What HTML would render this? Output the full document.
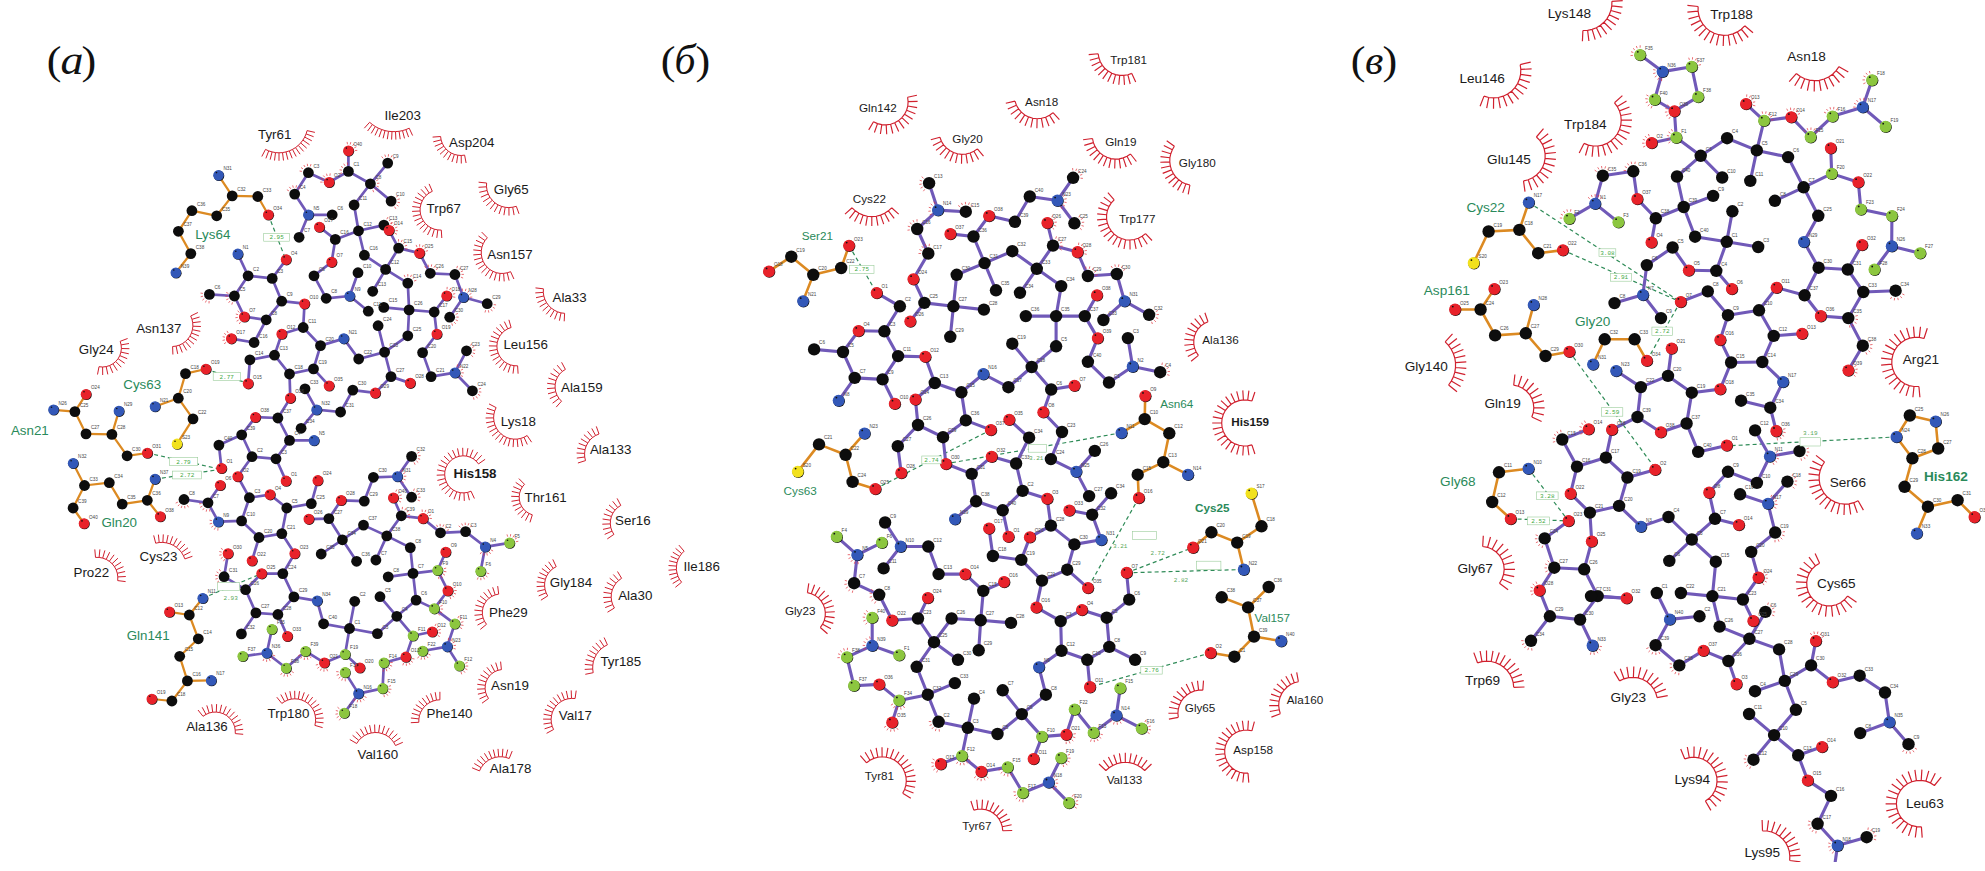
<!DOCTYPE html>
<html><head><meta charset="utf-8"><title>fig</title>
<style>html,body{margin:0;padding:0;background:#fff}body{width:1985px;height:871px;position:relative;overflow:hidden}
</style></head><body>
<svg width="1985" height="871" viewBox="0 0 1985 871" style="position:absolute;left:0;top:0">
<g stroke="#d0202e" stroke-width="1" fill="none" stroke-linecap="butt">
<path stroke-width="1" d="M265.5 149.4L261.8 156.5M268.7 150.9L265.9 158.4M272.1 151.9L270.1 159.7M275.5 152.6L274.5 160.5M279.0 152.8L279.0 160.8M282.5 152.6L283.5 160.5M286.0 151.9L287.9 159.7M289.3 150.9L292.2 158.3M292.5 149.4L296.2 156.5M295.5 147.6L300.1 154.2M298.3 145.4L303.6 151.4M300.7 142.9L306.7 148.2M302.9 140.1L309.5 144.7M304.7 137.1L311.8 140.8M306.1 133.9L313.6 136.7M307.1 130.6L314.9 132.4M265.5 149.4L268.7 150.9L272.1 151.9L275.5 152.6L279.0 152.8L282.5 152.6L286.0 151.9L289.3 150.9L292.5 149.4L295.5 147.6L298.3 145.4L300.7 142.9L302.9 140.1L304.7 137.1L306.1 133.9L307.1 130.6"/>
<path stroke-width="1" d="M369.6 122.3L364.3 128.2M372.4 124.5L367.6 131.0M375.3 126.5L371.2 133.4M378.4 128.2L375.0 135.4M381.7 129.5L379.0 137.1M385.0 130.6L383.1 138.3M388.5 131.3L387.3 139.2M392.0 131.6L391.6 139.6M395.5 131.6L395.9 139.6M399.1 131.3L400.2 139.2M402.5 130.6L404.5 138.4M405.9 129.6L408.6 137.1M409.2 128.2L412.6 135.5M369.6 122.3L372.4 124.5L375.3 126.5L378.4 128.2L381.7 129.5L385.0 130.6L388.5 131.3L392.0 131.6L395.5 131.6L399.1 131.3L402.5 130.6L405.9 129.6L409.2 128.2"/>
<path stroke-width="1" d="M440.6 136.5L432.6 137.1M441.1 139.9L433.3 141.8M442.2 143.2L434.8 146.3M443.8 146.2L437.1 150.5M445.9 148.9L440.0 154.3M448.4 151.2L443.5 157.5M451.3 153.1L447.5 160.1M454.4 154.4L451.9 162.0M457.8 155.2L456.6 163.1M461.2 155.5L461.3 163.5M464.6 155.1L466.1 163.0M440.6 136.5L441.1 139.9L442.2 143.2L443.8 146.2L445.9 148.9L448.4 151.2L451.3 153.1L454.4 154.4L457.8 155.2L461.2 155.5L464.6 155.1"/>
<path stroke-width="1" d="M486.6 183.0L478.6 182.2M486.5 186.8L478.5 187.3M487.1 190.5L479.3 192.3M488.2 194.0L480.9 197.2M490.0 197.3L483.2 201.7M492.3 200.3L486.3 205.7M495.0 202.9L490.1 209.2M498.1 204.9L494.3 211.9M501.6 206.4L499.0 214.0M505.2 207.3L503.9 215.2M508.9 207.6L509.0 215.6M512.7 207.2L514.1 215.1M516.3 206.3L519.0 213.8M486.6 183.0L486.5 186.8L487.1 190.5L488.2 194.0L490.0 197.3L492.3 200.3L495.0 202.9L498.1 204.9L501.6 206.4L505.2 207.3L508.9 207.6L512.7 207.2L516.3 206.3"/>
<path stroke-width="1" d="M432.3 191.3L429.1 183.9M429.2 193.0L424.8 186.3M426.4 195.1L421.0 189.3M424.1 197.8L417.7 193.0M422.3 200.8L415.1 197.2M421.0 204.0L413.3 201.7M420.2 207.5L412.3 206.5M420.1 211.0L412.1 211.4M420.6 214.5L412.8 216.3M421.7 217.8L414.4 220.9M423.4 220.9L416.7 225.3M425.5 223.7L419.7 229.1M428.2 226.0L423.3 232.4M431.1 227.9L427.5 235.0M434.4 229.2L432.1 236.8M437.8 229.9L436.8 237.9M441.3 230.1L441.8 238.0M432.3 191.3L429.2 193.0L426.4 195.1L424.1 197.8L422.3 200.8L421.0 204.0L420.2 207.5L420.1 211.0L420.6 214.5L421.7 217.8L423.4 220.9L425.5 223.7L428.2 226.0L431.1 227.9L434.4 229.2L437.8 229.9L441.3 230.1"/>
<path stroke-width="1" d="M487.3 237.8L481.7 232.1M485.0 240.6L478.5 236.0M483.2 243.7L476.0 240.3M481.9 247.1L474.2 245.0M481.3 250.7L473.3 249.9M481.3 254.3L473.3 254.9M481.9 257.8L474.1 259.9M483.1 261.3L475.8 264.6M484.9 264.4L478.3 268.9M487.2 267.2L481.5 272.8M489.9 269.6L485.3 276.1M493.0 271.4L489.6 278.6M496.4 272.7L494.3 280.4M500.0 273.4L499.2 281.3M503.6 273.4L504.2 281.4M507.2 272.8L509.1 280.6M510.6 271.7L513.9 279.0M487.3 237.8L485.0 240.6L483.2 243.7L481.9 247.1L481.3 250.7L481.3 254.3L481.9 257.8L483.1 261.3L484.9 264.4L487.2 267.2L489.9 269.6L493.0 271.4L496.4 272.7L500.0 273.4L503.6 273.4L507.2 272.8L510.6 271.7"/>
<path stroke-width="1" d="M543.4 288.8L535.5 287.9M543.3 292.4L535.3 292.9M543.8 296.0L536.0 297.7M544.9 299.4L537.5 302.5M546.6 302.7L539.7 306.8M548.7 305.6L542.7 310.8M551.3 308.1L546.2 314.3M554.3 310.2L550.2 317.1M557.5 311.8L554.6 319.3M561.0 312.9L559.4 320.7M564.6 313.3L564.2 321.3M543.4 288.8L543.3 292.4L543.8 296.0L544.9 299.4L546.6 302.7L548.7 305.6L551.3 308.1L554.3 310.2L557.5 311.8L561.0 312.9L564.6 313.3"/>
<path stroke-width="1" d="M511.1 327.5L508.9 319.8M507.8 328.8L504.3 321.6M504.7 330.7L500.0 324.2M502.1 333.0L496.2 327.6M499.9 335.9L493.2 331.6M498.3 339.0L490.9 336.1M497.3 342.4L489.4 340.9M496.9 346.0L488.9 345.9M497.2 349.5L489.3 350.9M498.1 353.0L490.6 355.7M499.6 356.2L492.7 360.3M501.7 359.1L495.6 364.4M504.3 361.6L499.3 367.8M507.2 363.5L503.5 370.6M510.5 364.9L508.1 372.5M514.0 365.7L513.0 373.6M517.6 365.8L518.1 373.7M511.1 327.5L507.8 328.8L504.7 330.7L502.1 333.0L499.9 335.9L498.3 339.0L497.3 342.4L496.9 346.0L497.2 349.5L498.1 353.0L499.6 356.2L501.7 359.1L504.3 361.6L507.2 363.5L510.5 364.9L514.0 365.7L517.6 365.8"/>
<path stroke-width="1" d="M565.4 369.4L561.6 362.3M562.3 371.4L557.2 365.2M559.6 374.1L553.4 368.9M557.5 377.2L550.5 373.3M556.0 380.6L548.4 378.1M555.2 384.3L547.2 383.3M555.1 388.0L547.1 388.6M555.7 391.7L548.0 393.8M557.0 395.2L549.8 398.7M559.0 398.4L552.6 403.2M561.5 401.2L556.2 407.1M565.4 369.4L562.3 371.4L559.6 374.1L557.5 377.2L556.0 380.6L555.2 384.3L555.1 388.0L555.7 391.7L557.0 395.2L559.0 398.4L561.5 401.2"/>
<path stroke-width="1" d="M496.1 407.6L489.0 403.9M494.7 410.9L487.1 408.4M493.9 414.3L486.0 413.1M493.6 417.9L485.6 418.0M494.0 421.4L486.1 422.8M494.9 424.9L487.4 427.5M496.4 428.1L489.4 432.0M498.3 431.1L492.1 436.0M500.8 433.6L495.4 439.6M503.6 435.8L499.3 442.5M506.7 437.5L503.6 444.8M510.1 438.6L508.2 446.3M513.6 439.1L513.1 447.1M517.2 439.1L517.9 447.0M520.7 438.4L522.7 446.2M524.0 437.3L527.3 444.5M527.1 435.5L531.6 442.2M496.1 407.6L494.7 410.9L493.9 414.3L493.6 417.9L494.0 421.4L494.9 424.9L496.4 428.1L498.3 431.1L500.8 433.6L503.6 435.8L506.7 437.5L510.1 438.6L513.6 439.1L517.2 439.1L520.7 438.4L524.0 437.3L527.1 435.5"/>
<path stroke-width="1" d="M599.0 434.0L596.3 426.4M595.6 435.5L591.8 428.5M592.6 437.5L587.6 431.3M589.9 440.0L583.9 434.7M587.8 443.0L580.9 438.8M586.1 446.2L578.7 443.3M585.0 449.7L577.2 448.1M584.6 453.4L576.6 453.0M584.7 457.0L576.8 458.1M585.5 460.6L577.9 463.0M599.0 434.0L595.6 435.5L592.6 437.5L589.9 440.0L587.8 443.0L586.1 446.2L585.0 449.7L584.6 453.4L584.7 457.0L585.5 460.6"/>
<path stroke-width="1" d="M190.7 316.0L197.9 312.5M192.0 319.3L199.6 317.0M192.7 322.7L200.6 321.7M192.9 326.2L200.9 326.5M192.4 329.7L200.3 331.3M191.5 333.0L198.9 335.9M189.9 336.2L196.8 340.3M187.9 339.0L194.0 344.2M185.4 341.5L190.6 347.6M182.6 343.5L186.7 350.4M179.4 345.1L182.3 352.5M176.1 346.1L177.7 353.9M172.6 346.5L172.9 354.5M190.7 316.0L192.0 319.3L192.7 322.7L192.9 326.2L192.4 329.7L191.5 333.0L189.9 336.2L187.9 339.0L185.4 341.5L182.6 343.5L179.4 345.1L176.1 346.1L172.6 346.5"/>
<path stroke-width="1" d="M120.2 341.3L127.6 338.5M121.1 344.9L129.0 343.5M121.4 348.5L129.4 348.7M120.9 352.1L128.8 353.8M119.8 355.6L127.2 358.7M118.1 358.7L124.7 363.3M115.7 361.5L121.3 367.2M112.9 363.8L117.3 370.5M109.7 365.5L112.8 372.9M106.2 366.6L107.8 374.4M102.6 367.0L102.7 375.0M99.0 366.7L97.5 374.5M120.2 341.3L121.1 344.9L121.4 348.5L120.9 352.1L119.8 355.6L118.1 358.7L115.7 361.5L112.9 363.8L109.7 365.5L106.2 366.6L102.6 367.0L99.0 366.7"/>
<path stroke-width="1" d="M155.7 543.2L153.7 535.4M159.2 542.5L158.4 534.6M162.9 542.4L163.3 534.4M166.5 542.9L168.1 535.0M170.0 543.8L172.7 536.3M173.3 545.3L177.1 538.3M176.4 547.3L181.2 540.9M179.2 549.7L184.9 544.1M181.5 552.5L188.0 547.8M183.4 555.6L190.5 551.9M184.9 558.9L192.4 556.3M155.7 543.2L159.2 542.5L162.9 542.4L166.5 542.9L170.0 543.8L173.3 545.3L176.4 547.3L179.2 549.7L181.5 552.5L183.4 555.6L184.9 558.9"/>
<path stroke-width="1" d="M95.5 557.4L94.8 549.4M99.1 557.4L99.9 549.4M102.7 558.1L104.9 550.4M106.2 559.4L109.7 552.2M109.3 561.3L114.1 554.8M112.1 563.7L117.9 558.2M114.4 566.6L121.1 562.2M116.2 569.8L123.5 566.6M117.3 573.3L125.1 571.5M117.8 576.9L125.8 576.5M117.7 580.6L125.6 581.6M95.5 557.4L99.1 557.4L102.7 558.1L106.2 559.4L109.3 561.3L112.1 563.7L114.4 566.6L116.2 569.8L117.3 573.3L117.8 576.9L117.7 580.6"/>
<path stroke-width="1" d="M203.0 716.3L198.0 710.0M206.0 714.4L202.2 707.3M209.2 713.0L206.8 705.4M212.7 712.2L211.7 704.3M216.3 712.1L216.6 704.1M219.8 712.6L221.6 704.8M223.2 713.7L226.3 706.3M226.3 715.3L230.7 708.7M229.1 717.6L234.6 711.8M231.4 720.2L237.9 715.5M233.3 723.3L240.5 719.7M234.6 726.6L242.3 724.4M235.2 730.1L243.2 729.3M235.3 733.6L243.2 734.3M203.0 716.3L206.0 714.4L209.2 713.0L212.7 712.2L216.3 712.1L219.8 712.6L223.2 713.7L226.3 715.3L229.1 717.6L231.4 720.2L233.3 723.3L234.6 726.6L235.2 730.1L235.3 733.6"/>
<path stroke-width="1" d="M281.8 703.4L276.8 697.2M284.7 701.5L280.8 694.5M287.9 700.0L285.2 692.5M291.3 699.1L289.9 691.2M294.8 698.8L294.7 690.8M298.3 699.1L299.6 691.2M301.6 700.0L304.3 692.4M304.9 701.4L308.7 694.4M307.8 703.3L312.7 697.1M310.3 705.7L316.3 700.4M312.4 708.5L319.2 704.2M314.1 711.6L321.4 708.6M315.1 715.0L322.9 713.2M315.6 718.4L323.6 718.0M315.5 721.9L323.5 722.8M314.9 725.4L322.6 727.6M281.8 703.4L284.7 701.5L287.9 700.0L291.3 699.1L294.8 698.8L298.3 699.1L301.6 700.0L304.9 701.4L307.8 703.3L310.3 705.7L312.4 708.5L314.1 711.6L315.1 715.0L315.6 718.4L315.5 721.9L314.9 725.4"/>
<path stroke-width="1" d="M356.7 743.5L349.8 739.5M358.8 740.4L352.6 735.3M361.4 737.8L356.2 731.7M364.4 735.6L360.3 728.8M367.7 734.0L364.8 726.6M371.2 733.0L369.6 725.1M374.9 732.5L374.6 724.5M378.6 732.7L379.7 724.8M382.2 733.6L384.6 725.9M385.6 735.0L389.2 727.9M388.7 736.9L393.5 730.6M391.4 739.4L397.3 733.9M393.7 742.3L400.4 737.9M395.5 745.5L402.8 742.3M356.7 743.5L358.8 740.4L361.4 737.8L364.4 735.6L367.7 734.0L371.2 733.0L374.9 732.5L378.6 732.7L382.2 733.6L385.6 735.0L388.7 736.9L391.4 739.4L393.7 742.3L395.5 745.5"/>
<path stroke-width="1" d="M478.5 463.9L485.1 459.3M476.2 461.1L481.7 455.3M473.3 458.8L477.6 452.1M470.0 457.1L473.0 449.7M466.5 456.1L467.9 448.2M462.9 455.8L462.7 447.8M459.2 456.3L457.5 448.4M455.8 457.4L452.5 450.1M452.6 459.2L448.0 452.7M449.8 461.6L444.0 456.1M447.5 464.5L440.8 460.2M445.9 467.7L438.4 464.9M444.9 471.3L437.1 469.9M444.7 474.9L436.7 475.2M445.2 478.6L437.4 480.4M446.3 482.0L439.0 485.3M448.1 485.2L441.6 489.9M450.6 488.0L445.1 493.8M453.5 490.2L449.3 497.0M456.8 491.8L454.0 499.3M460.3 492.7L459.0 500.6M464.0 492.9L464.3 500.9M467.6 492.4L469.4 500.2M471.0 491.2L474.4 498.5M478.5 463.9L476.2 461.1L473.3 458.8L470.0 457.1L466.5 456.1L462.9 455.8L459.2 456.3L455.8 457.4L452.6 459.2L449.8 461.6L447.5 464.5L445.9 467.7L444.9 471.3L444.7 474.9L445.2 478.6L446.3 482.0L448.1 485.2L450.6 488.0L453.5 490.2L456.8 491.8L460.3 492.7L464.0 492.9L467.6 492.4L471.0 491.2"/>
<path stroke-width="1" d="M524.5 484.3L518.9 478.6M522.3 486.9L515.7 482.4M520.7 489.9L513.3 486.7M519.6 493.2L511.8 491.4M519.2 496.6L511.2 496.3M519.4 500.0L511.5 501.3M520.2 503.4L512.7 506.0M521.7 506.5L514.8 510.5M523.7 509.3L517.7 514.5M526.2 511.6L521.3 517.9M529.1 513.5L525.4 520.6M532.3 514.8L530.0 522.4M524.5 484.3L522.3 486.9L520.7 489.9L519.6 493.2L519.2 496.6L519.4 500.0L520.2 503.4L521.7 506.5L523.7 509.3L526.2 511.6L529.1 513.5L532.3 514.8"/>
<path stroke-width="1" d="M498.7 594.1L497.7 586.1M495.2 594.9L492.7 587.3M491.9 596.3L488.0 589.3M488.9 598.4L483.7 592.3M486.4 600.9L480.1 596.0M484.4 604.0L477.3 600.3M483.1 607.3L475.4 605.1M482.4 610.9L474.4 610.1M482.4 614.5L474.5 615.3M483.1 618.0L475.5 620.3M484.5 621.3L477.5 625.1M486.5 624.3L480.3 629.4M498.7 594.1L495.2 594.9L491.9 596.3L488.9 598.4L486.4 600.9L484.4 604.0L483.1 607.3L482.4 610.9L482.4 614.5L483.1 618.0L484.5 621.3L486.5 624.3"/>
<path stroke-width="1" d="M501.4 669.6L500.6 661.6M498.0 670.3L495.7 662.6M494.8 671.6L491.1 664.6M491.9 673.5L486.9 667.3M489.5 675.9L483.4 670.8M487.5 678.8L480.5 674.9M486.0 682.0L478.5 679.4M485.3 685.3L477.3 684.3M485.1 688.8L477.1 689.2M485.6 692.3L477.9 694.2M486.8 695.5L479.5 698.9M488.5 698.5L482.0 703.2M501.4 669.6L498.0 670.3L494.8 671.6L491.9 673.5L489.5 675.9L487.5 678.8L486.0 682.0L485.3 685.3L485.1 688.8L485.6 692.3L486.8 695.5L488.5 698.5"/>
<path stroke-width="1" d="M439.9 699.8L439.9 691.8M436.5 700.1L435.2 692.2M433.2 701.0L430.6 693.4M430.0 702.3L426.2 695.3M427.1 704.2L422.2 697.9M424.5 706.5L418.7 701.0M422.4 709.2L415.8 704.7M420.7 712.2L413.4 708.9M419.5 715.5L411.8 713.3M418.9 718.9L410.9 718.0M418.8 722.3L410.8 722.7M439.9 699.8L436.5 700.1L433.2 701.0L430.0 702.3L427.1 704.2L424.5 706.5L422.4 709.2L420.7 712.2L419.5 715.5L418.9 718.9L418.8 722.3"/>
<path stroke-width="1" d="M575.1 698.5L576.2 690.6M571.5 698.4L571.2 690.4M568.0 698.8L566.3 690.9M564.5 699.8L561.6 692.4M561.3 701.4L557.2 694.5M558.4 703.5L553.2 697.4M556.0 706.0L549.8 700.9M553.9 709.0L547.0 705.0M552.4 712.2L544.9 709.5M551.5 715.7L543.6 714.2M551.1 719.2L543.1 719.1M551.4 722.8L543.5 724.0M552.2 726.3L544.6 728.8M553.6 729.5L546.6 733.3M575.1 698.5L571.5 698.4L568.0 698.8L564.5 699.8L561.3 701.4L558.4 703.5L556.0 706.0L553.9 709.0L552.4 712.2L551.5 715.7L551.1 719.2L551.4 722.8L552.2 726.3L553.6 729.5"/>
<path stroke-width="1" d="M607.4 644.8L604.1 637.5M604.1 646.6L599.7 639.9M601.1 648.9L595.8 642.9M598.5 651.6L592.4 646.4M596.3 654.6L589.5 650.5M594.6 658.0L587.3 654.9M593.4 661.5L585.7 659.6M592.8 665.2L584.8 664.4M592.7 669.0L584.7 669.4M593.2 672.7L585.3 674.3M607.4 644.8L604.1 646.6L601.1 648.9L598.5 651.6L596.3 654.6L594.6 658.0L593.4 661.5L592.8 665.2L592.7 669.0L593.2 672.7"/>
<path stroke-width="1" d="M509.2 758.5L512.2 751.1M505.8 757.4L507.7 749.6M502.3 756.8L502.9 748.8M498.7 756.8L498.0 748.9M495.2 757.4L493.3 749.6M491.8 758.5L488.7 751.1M488.6 760.1L484.4 753.3M485.7 762.3L480.5 756.2M483.2 764.8L477.1 759.6M481.1 767.7L474.3 763.5M479.5 770.9L472.1 767.8M509.2 758.5L505.8 757.4L502.3 756.8L498.7 756.8L495.2 757.4L491.8 758.5L488.6 760.1L485.7 762.3L483.2 764.8L481.1 767.7L479.5 770.9"/>
<path stroke-width="1" d="M620.8 505.4L617.1 498.4M617.7 507.5L612.7 501.3M615.0 510.1L609.0 504.9M612.9 513.1L605.9 509.2M611.4 516.5L603.8 513.9M610.5 520.2L602.6 519.0M610.3 523.9L602.3 524.2M610.8 527.6L603.0 529.4M612.0 531.1L604.7 534.4M613.9 534.4L607.3 538.9M620.8 505.4L617.7 507.5L615.0 510.1L612.9 513.1L611.4 516.5L610.5 520.2L610.3 523.9L610.8 527.6L612.0 531.1L613.9 534.4"/>
<path stroke-width="1" d="M684.1 551.2L678.9 545.1M681.7 553.6L675.6 548.4M679.7 556.4L672.8 552.2M678.1 559.5L670.7 556.4M677.0 562.7L669.2 560.8M676.5 566.1L668.5 565.5M676.4 569.6L668.5 570.2M677.0 573.0L669.2 574.8M678.0 576.3L670.6 579.3M679.5 579.4L672.7 583.5M681.6 582.2L675.4 587.3M684.1 551.2L681.7 553.6L679.7 556.4L678.1 559.5L677.0 562.7L676.5 566.1L676.4 569.6L677.0 573.0L678.0 576.3L679.5 579.4L681.6 582.2"/>
<path stroke-width="1" d="M556.2 566.7L552.8 559.4M553.2 568.4L548.7 561.8M550.6 570.6L545.0 564.9M548.4 573.2L541.9 568.5M546.6 576.1L539.4 572.6M545.4 579.3L537.7 577.1M544.7 582.7L536.7 581.8M544.6 586.1L536.6 586.6M545.1 589.5L537.3 591.3M546.1 592.8L538.7 595.9M547.7 595.9L540.9 600.2M556.2 566.7L553.2 568.4L550.6 570.6L548.4 573.2L546.6 576.1L545.4 579.3L544.7 582.7L544.6 586.1L545.1 589.5L546.1 592.8L547.7 595.9"/>
<path stroke-width="1" d="M621.6 578.3L617.5 571.5M618.6 580.5L613.3 574.5M616.0 583.2L609.7 578.2M613.9 586.4L606.8 582.5M612.3 589.8L604.8 587.3M611.4 593.5L603.5 592.3M611.2 597.3L603.2 597.5M611.6 601.0L603.8 602.6M612.7 604.6L605.2 607.6M614.4 608.0L607.5 612.2M621.6 578.3L618.6 580.5L616.0 583.2L613.9 586.4L612.3 589.8L611.4 593.5L611.2 597.3L611.6 601.0L612.7 604.6L614.4 608.0"/>
<path stroke-width="1.15" d="M907.6 97.2L916.9 95.2M908.1 101.6L917.6 101.4M907.8 106.0L917.1 107.6M906.6 110.2L915.4 113.7M904.6 114.2L912.6 119.2M901.9 117.6L908.8 124.2M898.6 120.6L904.1 128.3M894.7 122.8L898.7 131.4M890.6 124.2L892.8 133.5M886.2 124.9L886.7 134.3M881.8 124.6L880.4 134.0M877.5 123.6L874.4 132.5M873.5 121.7L868.7 129.9M907.6 97.2L908.1 101.6L907.8 106.0L906.6 110.2L904.6 114.2L901.9 117.6L898.6 120.6L894.7 122.8L890.6 124.2L886.2 124.9L881.8 124.6L877.5 123.6L873.5 121.7"/>
<path stroke-width="1.15" d="M939.9 137.2L930.8 139.8M941.4 141.2L932.9 145.4M943.6 144.8L936.0 150.4M946.4 147.9L939.9 154.9M949.8 150.5L944.6 158.5M953.5 152.5L949.9 161.3M957.5 153.7L955.6 163.0M961.7 154.3L961.5 163.7M966.0 154.0L967.4 163.4M970.1 153.0L973.2 162.0M973.9 151.3L978.6 159.5M977.4 148.9L983.5 156.2M939.9 137.2L941.4 141.2L943.6 144.8L946.4 147.9L949.8 150.5L953.5 152.5L957.5 153.7L961.7 154.3L966.0 154.0L970.1 153.0L973.9 151.3L977.4 148.9"/>
<path stroke-width="1.15" d="M852.1 207.8L845.0 214.1M855.3 210.8L849.4 218.3M859.0 213.3L854.5 221.6M863.1 215.1L860.0 224.1M867.4 216.2L865.8 225.6M871.8 216.6L871.8 226.1M876.3 216.2L877.9 225.6M880.6 215.1L883.7 224.1M884.6 213.3L889.2 221.6M888.4 210.8L894.2 218.3M891.6 207.8L898.7 214.1M852.1 207.8L855.3 210.8L859.0 213.3L863.1 215.1L867.4 216.2L871.8 216.6L876.3 216.2L880.6 215.1L884.6 213.3L888.4 210.8L891.6 207.8"/>
<path stroke-width="1.15" d="M807.4 592.6L808.8 583.3M811.3 593.7L814.6 584.7M815.0 595.4L819.9 587.3M818.3 597.9L824.7 590.8M821.1 600.9L828.7 595.2M823.2 604.4L831.8 600.3M824.7 608.3L833.8 605.8M825.3 612.3L834.8 611.7M825.2 616.4L834.6 617.6M824.3 620.4L833.3 623.4M822.6 624.2L830.9 628.8M820.3 627.5L827.5 633.7M807.4 592.6L811.3 593.7L815.0 595.4L818.3 597.9L821.1 600.9L823.2 604.4L824.7 608.3L825.3 612.3L825.2 616.4L824.3 620.4L822.6 624.2L820.3 627.5"/>
<path stroke-width="1.15" d="M866.6 762.8L860.3 755.7M870.0 760.3L865.1 752.2M873.8 758.4L870.4 749.6M877.9 757.3L876.1 747.9M882.1 756.8L882.0 747.3M886.3 757.2L887.9 747.8M890.4 758.2L893.7 749.3M894.3 760.0L899.0 751.8M897.8 762.5L903.9 755.2M900.8 765.5L908.1 759.4M903.2 769.0L911.4 764.3M904.9 772.8L913.9 769.7M906.0 777.0L915.4 775.4M906.3 781.2L915.8 781.4M905.8 785.4L915.1 787.3M904.6 789.5L913.5 793.0M902.7 793.3L910.8 798.3M866.6 762.8L870.0 760.3L873.8 758.4L877.9 757.3L882.1 756.8L886.3 757.2L890.4 758.2L894.3 760.0L897.8 762.5L900.8 765.5L903.2 769.0L904.9 772.8L906.0 777.0L906.3 781.2L905.8 785.4L904.6 789.5L902.7 793.3"/>
<path stroke-width="1.15" d="M973.8 810.1L970.9 801.0M977.8 809.2L976.7 799.8M981.9 809.1L982.5 799.6M986.0 809.7L988.3 800.5M989.9 811.1L993.9 802.5M993.4 813.2L999.0 805.4M996.6 815.9L1003.4 809.3M999.1 819.1L1007.1 813.9M1001.0 822.7L1009.8 819.1M1002.3 826.7L1011.6 824.7M1002.7 830.8L1012.2 830.5M973.8 810.1L977.8 809.2L981.9 809.1L986.0 809.7L989.9 811.1L993.4 813.2L996.6 815.9L999.1 819.1L1001.0 822.7L1002.3 826.7L1002.7 830.8"/>
<path stroke-width="1.15" d="M1098.2 53.8L1088.7 54.6M1098.9 57.8L1089.8 60.3M1100.3 61.7L1091.7 65.7M1102.4 65.3L1094.6 70.7M1105.0 68.5L1098.3 75.1M1108.2 71.1L1102.7 78.9M1111.8 73.2L1107.7 81.8M1115.6 74.6L1113.1 83.8M1119.7 75.4L1118.8 84.8M1123.8 75.4L1124.5 84.9M1127.9 74.8L1130.2 84.0M1131.8 73.4L1135.7 82.1M1098.2 53.8L1098.9 57.8L1100.3 61.7L1102.4 65.3L1105.0 68.5L1108.2 71.1L1111.8 73.2L1115.6 74.6L1119.7 75.4L1123.8 75.4L1127.9 74.8L1131.8 73.4"/>
<path stroke-width="1.15" d="M1015.0 101.1L1005.8 103.3M1016.4 105.2L1007.8 109.1M1018.6 108.9L1010.8 114.4M1021.4 112.2L1014.8 119.1M1024.8 114.9L1019.6 122.9M1028.6 116.9L1025.0 125.7M1032.8 118.2L1030.9 127.5M1037.1 118.7L1036.9 128.2M1041.4 118.3L1043.1 127.7M1045.6 117.2L1049.0 126.1M1049.5 115.3L1054.5 123.4M1053.0 112.7L1059.4 119.7M1015.0 101.1L1016.4 105.2L1018.6 108.9L1021.4 112.2L1024.8 114.9L1028.6 116.9L1032.8 118.2L1037.1 118.7L1041.4 118.3L1045.6 117.2L1049.5 115.3L1053.0 112.7"/>
<path stroke-width="1.15" d="M1092.5 138.5L1083.1 139.7M1093.4 142.6L1084.3 145.4M1095.0 146.4L1086.6 150.8M1097.2 149.9L1089.7 155.7M1100.0 152.9L1093.6 160.0M1103.3 155.4L1098.2 163.5M1107.0 157.3L1103.4 166.1M1110.9 158.6L1108.9 167.8M1115.0 159.1L1114.7 168.6M1119.2 158.9L1120.5 168.3M1123.2 157.9L1126.2 167.0M1127.0 156.3L1131.5 164.7M1130.5 154.0L1136.4 161.5M1092.5 138.5L1093.4 142.6L1095.0 146.4L1097.2 149.9L1100.0 152.9L1103.3 155.4L1107.0 157.3L1110.9 158.6L1115.0 159.1L1119.2 158.9L1123.2 157.9L1127.0 156.3L1130.5 154.0"/>
<path stroke-width="1.15" d="M1174.4 146.3L1166.7 140.7M1172.3 149.8L1163.8 145.6M1170.8 153.7L1161.7 151.0M1169.9 157.7L1160.5 156.6M1169.8 161.9L1160.3 162.3M1170.3 166.0L1161.0 168.0M1171.5 169.9L1162.7 173.4M1173.4 173.6L1165.3 178.6M1175.8 177.0L1168.6 183.2M1178.8 179.8L1172.7 187.2M1182.2 182.2L1177.5 190.4M1185.9 183.9L1182.7 192.9M1189.9 185.0L1188.2 194.4M1174.4 146.3L1172.3 149.8L1170.8 153.7L1169.9 157.7L1169.8 161.9L1170.3 166.0L1171.5 169.9L1173.4 173.6L1175.8 177.0L1178.8 179.8L1182.2 182.2L1185.9 183.9L1189.9 185.0"/>
<path stroke-width="1.15" d="M1114.2 199.8L1107.9 192.7M1111.3 202.9L1103.8 197.1M1109.0 206.6L1100.5 202.3M1107.4 210.6L1098.3 207.9M1106.6 214.8L1097.2 213.9M1106.6 219.1L1097.1 219.9M1107.4 223.3L1098.3 225.9M1109.0 227.3L1100.5 231.6M1111.2 230.9L1103.7 236.7M1114.2 234.1L1107.8 241.2M1117.6 236.7L1112.7 244.8M1121.5 238.5L1118.2 247.4M1125.6 239.7L1124.0 249.0M1129.9 240.0L1130.1 249.5M1134.2 239.5L1136.1 248.8M1138.3 238.3L1141.9 247.1M1142.1 236.3L1147.3 244.3M1145.5 233.6L1152.0 240.5M1114.2 199.8L1111.3 202.9L1109.0 206.6L1107.4 210.6L1106.6 214.8L1106.6 219.1L1107.4 223.3L1109.0 227.3L1111.2 230.9L1114.2 234.1L1117.6 236.7L1121.5 238.5L1125.6 239.7L1129.9 240.0L1134.2 239.5L1138.3 238.3L1142.1 236.3L1145.5 233.6"/>
<path stroke-width="1.15" d="M1208.0 321.8L1204.9 312.8M1204.3 323.5L1199.5 315.3M1201.0 325.9L1194.7 318.7M1198.2 328.8L1190.7 323.0M1196.0 332.3L1187.5 328.0M1194.5 336.1L1185.4 333.5M1193.8 340.1L1184.3 339.3M1193.8 344.2L1184.4 345.2M1194.6 348.2L1185.6 351.0M1196.2 352.0L1187.8 356.4M1198.4 355.4L1191.1 361.3M1208.0 321.8L1204.3 323.5L1201.0 325.9L1198.2 328.8L1196.0 332.3L1194.5 336.1L1193.8 340.1L1193.8 344.2L1194.6 348.2L1196.2 352.0L1198.4 355.4"/>
<path stroke-width="1.15" d="M1251.9 401.0L1254.9 392.0M1247.7 400.1L1248.9 390.6M1243.4 399.9L1242.8 390.4M1239.1 400.6L1236.7 391.4M1235.0 402.1L1230.9 393.5M1231.2 404.3L1225.6 396.6M1228.0 407.2L1221.0 400.7M1225.3 410.6L1217.3 405.5M1223.3 414.5L1214.5 411.0M1222.1 418.6L1212.8 416.9M1221.7 423.0L1212.2 423.0M1222.1 427.3L1212.8 429.1M1223.3 431.5L1214.5 435.0M1225.3 435.3L1217.3 440.4M1228.0 438.8L1221.0 445.3M1231.2 441.7L1225.6 449.3M1235.0 443.9L1230.9 452.5M1239.1 445.3L1236.7 454.5M1243.4 446.0L1242.8 455.5M1247.7 445.9L1248.9 455.3M1251.9 444.9L1254.9 454.0M1251.9 401.0L1247.7 400.1L1243.4 399.9L1239.1 400.6L1235.0 402.1L1231.2 404.3L1228.0 407.2L1225.3 410.6L1223.3 414.5L1222.1 418.6L1221.7 423.0L1222.1 427.3L1223.3 431.5L1225.3 435.3L1228.0 438.8L1231.2 441.7L1235.0 443.9L1239.1 445.3L1243.4 446.0L1247.7 445.9L1251.9 444.9"/>
<path stroke-width="1.15" d="M1202.8 690.1L1203.5 680.6M1198.6 690.1L1197.5 680.7M1194.5 691.0L1191.7 681.9M1190.5 692.6L1186.2 684.1M1187.0 694.9L1181.2 687.3M1183.9 697.7L1176.8 691.4M1181.3 701.1L1173.2 696.2M1179.5 704.9L1170.6 701.5M1178.3 709.0L1169.0 707.3M1177.9 713.2L1168.4 713.2M1178.3 717.4L1168.9 719.1M1202.8 690.1L1198.6 690.1L1194.5 691.0L1190.5 692.6L1187.0 694.9L1183.9 697.7L1181.3 701.1L1179.5 704.9L1178.3 709.0L1177.9 713.2L1178.3 717.4"/>
<path stroke-width="1.15" d="M1298.4 681.7L1296.7 672.3M1294.3 682.8L1291.1 673.8M1290.6 684.5L1285.8 676.3M1287.1 687.0L1281.0 679.7M1284.2 690.0L1276.9 683.9M1281.8 693.4L1273.5 688.8M1280.1 697.2L1271.1 694.1M1279.0 701.3L1269.7 699.8M1278.7 705.5L1269.2 705.6M1279.2 709.7L1269.8 711.5M1280.3 713.7L1271.4 717.1M1298.4 681.7L1294.3 682.8L1290.6 684.5L1287.1 687.0L1284.2 690.0L1281.8 693.4L1280.1 697.2L1279.0 701.3L1278.7 705.5L1279.2 709.7L1280.3 713.7"/>
<path stroke-width="1.15" d="M1251.9 730.8L1254.4 721.6M1247.8 730.1L1248.4 720.6M1243.6 730.2L1242.4 720.7M1239.5 731.1L1236.5 722.1M1235.7 732.8L1231.0 724.5M1232.2 735.1L1226.1 727.9M1229.3 738.1L1221.9 732.2M1227.1 741.7L1218.6 737.3M1225.5 745.5L1216.4 742.9M1224.7 749.6L1215.3 748.8M1224.8 753.8L1215.3 754.8M1225.6 757.9L1216.5 760.7M1227.2 761.8L1218.8 766.2M1229.5 765.3L1222.1 771.3M1232.4 768.2L1226.4 775.5M1235.9 770.6L1231.3 778.9M1239.7 772.2L1236.9 781.3M1243.8 773.1L1242.8 782.5M1248.0 773.1L1248.8 782.6M1251.9 730.8L1247.8 730.1L1243.6 730.2L1239.5 731.1L1235.7 732.8L1232.2 735.1L1229.3 738.1L1227.1 741.7L1225.5 745.5L1224.7 749.6L1224.8 753.8L1225.6 757.9L1227.2 761.8L1229.5 765.3L1232.4 768.2L1235.9 770.6L1239.7 772.2L1243.8 773.1L1248.0 773.1"/>
<path stroke-width="1.15" d="M1105.9 770.5L1099.0 764.0M1109.1 767.7L1103.4 760.1M1112.8 765.4L1108.4 757.0M1116.8 763.7L1113.7 754.7M1121.0 762.6L1119.4 753.3M1125.3 762.3L1125.3 752.8M1129.6 762.6L1131.1 753.3M1133.8 763.7L1136.8 754.7M1137.8 765.4L1142.2 757.0M1141.4 767.7L1147.1 760.1M1144.7 770.5L1151.5 764.0M1105.9 770.5L1109.1 767.7L1112.8 765.4L1116.8 763.7L1121.0 762.6L1125.3 762.3L1129.6 762.6L1133.8 763.7L1137.8 765.4L1141.4 767.7L1144.7 770.5"/>
<path stroke-width="1.2" d="M1611.9 1.3L1622.7 0.7M1611.8 5.9L1622.5 7.1M1610.9 10.5L1621.2 13.4M1609.2 14.8L1619.0 19.4M1606.9 18.8L1615.7 25.0M1603.9 22.3L1611.6 29.9M1600.4 25.3L1606.7 34.1M1596.4 27.7L1601.2 37.4M1592.1 29.4L1595.2 39.7M1587.6 30.3L1588.9 41.0M1582.9 30.5L1582.4 41.3M1611.9 1.3L1611.8 5.9L1610.9 10.5L1609.2 14.8L1606.9 18.8L1603.9 22.3L1600.4 25.3L1596.4 27.7L1592.1 29.4L1587.6 30.3L1582.9 30.5"/>
<path stroke-width="1.2" d="M1520.2 64.6L1530.7 62.1M1520.8 69.4L1531.6 68.9M1520.6 74.3L1531.3 75.8M1519.5 79.1L1529.8 82.4M1517.6 83.6L1527.1 88.7M1514.9 87.7L1523.4 94.4M1511.5 91.2L1518.6 99.4M1507.6 94.1L1513.1 103.4M1503.2 96.2L1506.9 106.3M1498.4 97.5L1500.3 108.1M1493.6 97.9L1493.5 108.7M1488.7 97.5L1486.7 108.1M1484.0 96.1L1480.1 106.2M1520.2 64.6L1520.8 69.4L1520.6 74.3L1519.5 79.1L1517.6 83.6L1514.9 87.7L1511.5 91.2L1507.6 94.1L1503.2 96.2L1498.4 97.5L1493.6 97.9L1488.7 97.5L1484.0 96.1"/>
<path stroke-width="1.2" d="M1614.5 102.8L1622.4 95.6M1617.3 106.6L1626.5 100.9M1619.5 110.9L1629.5 107.0M1620.8 115.5L1631.4 113.5M1621.2 120.2L1632.0 120.2M1620.8 125.0L1631.4 126.9M1619.5 129.5L1629.6 133.4M1617.4 133.8L1626.6 139.5M1614.5 137.6L1622.5 144.9M1611.0 140.8L1617.6 149.4M1607.0 143.4L1611.8 153.0M1602.6 145.1L1605.5 155.5M1597.9 146.0L1598.9 156.7M1593.1 146.0L1592.1 156.7M1588.4 145.1L1585.5 155.5M1584.0 143.4L1579.2 153.1M1614.5 102.8L1617.3 106.6L1619.5 110.9L1620.8 115.5L1621.2 120.2L1620.8 125.0L1619.5 129.5L1617.4 133.8L1614.5 137.6L1611.0 140.8L1607.0 143.4L1602.6 145.1L1597.9 146.0L1593.1 146.0L1588.4 145.1L1584.0 143.4"/>
<path stroke-width="1.2" d="M1536.4 137.0L1543.5 128.7M1539.8 140.4L1548.2 133.7M1542.4 144.4L1552.0 139.4M1544.2 148.9L1554.5 145.8M1545.1 153.6L1555.9 152.5M1545.1 158.4L1555.9 159.4M1544.2 163.1L1554.6 166.1M1542.4 167.6L1552.0 172.5M1539.8 171.6L1548.3 178.3M1536.5 175.0L1543.5 183.2M1532.6 177.8L1537.9 187.2M1528.2 179.8L1531.7 190.0M1523.5 180.9L1525.0 191.6M1536.4 137.0L1539.8 140.4L1542.4 144.4L1544.2 148.9L1545.1 153.6L1545.1 158.4L1544.2 163.1L1542.4 167.6L1539.8 171.6L1536.5 175.0L1532.6 177.8L1528.2 179.8L1523.5 180.9"/>
<path stroke-width="1.2" d="M1445.2 341.8L1452.5 333.8M1448.5 345.3L1456.9 338.5M1451.2 349.2L1460.5 343.7M1453.3 353.5L1463.4 349.5M1454.8 358.0L1465.3 355.6M1455.5 362.7L1466.3 361.9M1455.5 367.5L1466.3 368.3M1454.8 372.2L1465.3 374.6M1453.4 376.8L1463.4 380.8M1451.3 381.1L1460.6 386.5M1448.6 385.0L1457.0 391.8M1445.2 341.8L1448.5 345.3L1451.2 349.2L1453.3 353.5L1454.8 358.0L1455.5 362.7L1455.5 367.5L1454.8 372.2L1453.4 376.8L1451.3 381.1L1448.6 385.0"/>
<path stroke-width="1.2" d="M1513.7 385.2L1514.9 374.5M1518.3 386.2L1521.7 376.0M1522.6 388.2L1528.1 378.9M1526.4 391.0L1533.7 383.0M1529.6 394.5L1538.3 388.2M1531.9 398.6L1541.8 394.3M1533.3 403.1L1543.9 400.9M1533.8 407.8L1544.6 407.9M1533.3 412.5L1543.8 414.8M1531.8 417.0L1541.6 421.5M1513.7 385.2L1518.3 386.2L1522.6 388.2L1526.4 391.0L1529.6 394.5L1531.9 398.6L1533.3 403.1L1533.8 407.8L1533.3 412.5L1531.8 417.0"/>
<path stroke-width="1.2" d="M1482.7 546.5L1483.3 535.7M1487.6 547.3L1490.5 537.0M1492.1 549.2L1497.2 539.7M1496.2 552.0L1503.2 543.8M1499.6 555.6L1508.2 549.1M1502.1 559.8L1511.9 555.3M1503.7 564.5L1514.2 562.2M1504.2 569.4L1515.0 569.4M1503.6 574.3L1514.2 576.7M1502.0 579.0L1511.8 583.5M1499.5 583.2L1508.1 589.8M1482.7 546.5L1487.6 547.3L1492.1 549.2L1496.2 552.0L1499.6 555.6L1502.1 559.8L1503.7 564.5L1504.2 569.4L1503.6 574.3L1502.0 579.0L1499.5 583.2"/>
<path stroke-width="1.2" d="M1477.5 662.8L1473.8 652.6M1482.0 661.6L1480.1 651.0M1486.6 661.2L1486.5 650.4M1491.2 661.5L1493.0 650.9M1495.7 662.7L1499.3 652.5M1499.9 664.6L1505.2 655.2M1503.7 667.2L1510.6 658.8M1507.1 670.4L1515.2 663.3M1509.8 674.1L1519.0 668.6M1511.9 678.3L1521.9 674.4M1513.2 682.7L1523.7 680.6M1513.7 687.3L1524.5 687.0M1477.5 662.8L1482.0 661.6L1486.6 661.2L1491.2 661.5L1495.7 662.7L1499.9 664.6L1503.7 667.2L1507.1 670.4L1509.8 674.1L1511.9 678.3L1513.2 682.7L1513.7 687.3"/>
<path stroke-width="1.2" d="M1619.6 680.9L1614.1 671.6M1624.0 678.8L1620.3 668.7M1628.6 677.6L1626.9 666.9M1633.4 677.3L1633.8 666.5M1638.2 677.9L1640.7 667.4M1642.8 679.5L1647.2 669.6M1647.0 681.8L1653.2 673.0M1650.6 685.0L1658.4 677.5M1653.6 688.8L1662.7 682.9M1655.8 693.0L1665.8 689.1M1657.1 697.7L1667.7 695.7M1619.6 680.9L1624.0 678.8L1628.6 677.6L1633.4 677.3L1638.2 677.9L1642.8 679.5L1647.0 681.8L1650.6 685.0L1653.6 688.8L1655.8 693.0L1657.1 697.7"/>
<path stroke-width="1.2" d="M1698.1 6.5L1687.4 5.4M1698.1 11.2L1687.4 12.2M1699.0 16.0L1688.5 18.8M1700.6 20.4L1690.9 25.1M1703.1 24.5L1694.4 30.9M1706.3 28.1L1698.8 36.0M1710.0 31.1L1704.1 40.1M1714.2 33.3L1710.1 43.3M1718.8 34.7L1716.5 45.3M1723.6 35.3L1723.2 46.1M1728.3 35.0L1729.9 45.7M1733.0 33.9L1736.5 44.1M1737.3 31.9L1742.6 41.3M1741.3 29.2L1748.2 37.5M1744.7 25.8L1753.0 32.7M1698.1 6.5L1698.1 11.2L1699.0 16.0L1700.6 20.4L1703.1 24.5L1706.3 28.1L1710.0 31.1L1714.2 33.3L1718.8 34.7L1723.6 35.3L1728.3 35.0L1733.0 33.9L1737.3 31.9L1741.3 29.2L1744.7 25.8"/>
<path stroke-width="1.2" d="M1796.3 73.6L1789.2 81.7M1800.3 76.6L1794.7 85.8M1804.7 78.8L1800.8 88.8M1809.5 80.1L1807.4 90.7M1814.4 80.6L1814.2 91.4M1819.3 80.3L1821.0 90.9M1824.1 79.0L1827.7 89.2M1828.6 77.0L1833.9 86.4M1832.6 74.2L1839.5 82.5M1836.1 70.7L1844.4 77.7M1839.0 66.7L1848.3 72.1M1796.3 73.6L1800.3 76.6L1804.7 78.8L1809.5 80.1L1814.4 80.6L1819.3 80.3L1824.1 79.0L1828.6 77.0L1832.6 74.2L1836.1 70.7L1839.0 66.7"/>
<path stroke-width="1.2" d="M1924.0 338.5L1927.3 328.2M1919.3 337.4L1920.5 326.7M1914.4 337.4L1913.5 326.6M1909.6 338.2L1906.6 327.8M1905.1 340.0L1900.1 330.4M1901.0 342.7L1894.3 334.2M1897.5 346.1L1889.3 339.1M1894.8 350.1L1885.3 344.9M1892.9 354.6L1882.6 351.3M1891.9 359.3L1881.1 358.2M1891.8 364.2L1881.1 365.2M1892.7 369.0L1882.4 372.0M1894.6 373.5L1885.0 378.5M1897.3 377.5L1888.9 384.4M1900.7 381.0L1893.8 389.3M1904.7 383.7L1899.6 393.2M1909.2 385.6L1906.1 395.9M1914.0 386.5L1912.9 397.3M1918.9 386.5L1919.9 397.3M1924.0 338.5L1919.3 337.4L1914.4 337.4L1909.6 338.2L1905.1 340.0L1901.0 342.7L1897.5 346.1L1894.8 350.1L1892.9 354.6L1891.9 359.3L1891.8 364.2L1892.7 369.0L1894.6 373.5L1897.3 377.5L1900.7 381.0L1904.7 383.7L1909.2 385.6L1914.0 386.5L1918.9 386.5"/>
<path stroke-width="1.2" d="M1824.5 462.0L1816.0 455.4M1822.0 466.0L1812.4 461.1M1820.2 470.4L1809.8 467.3M1819.2 475.1L1808.5 473.9M1819.2 479.9L1808.4 480.7M1819.9 484.6L1809.5 487.3M1821.6 489.1L1811.8 493.7M1824.0 493.2L1815.2 499.5M1827.1 496.8L1819.6 504.6M1830.9 499.8L1824.9 508.8M1835.1 502.1L1830.9 512.0M1839.6 503.5L1837.3 514.1M1844.4 504.1L1844.0 514.9M1849.1 503.8L1850.7 514.5M1853.8 502.7L1857.3 512.9M1858.1 500.7L1863.4 510.1M1824.5 462.0L1822.0 466.0L1820.2 470.4L1819.2 475.1L1819.2 479.9L1819.9 484.6L1821.6 489.1L1824.0 493.2L1827.1 496.8L1830.9 499.8L1835.1 502.1L1839.6 503.5L1844.4 504.1L1849.1 503.8L1853.8 502.7L1858.1 500.7"/>
<path stroke-width="1.2" d="M1819.6 563.3L1815.1 553.5M1815.5 565.8L1809.0 557.2M1812.0 569.1L1803.7 562.1M1809.3 573.1L1799.7 568.1M1807.5 577.6L1797.1 574.7M1806.7 582.4L1795.9 581.8M1807.0 587.2L1796.3 589.0M1808.2 591.9L1798.2 595.9M1810.5 596.2L1801.6 602.2M1813.6 599.8L1806.2 607.7M1817.5 602.8L1811.9 612.0M1821.9 604.8L1818.5 615.0M1826.6 605.8L1825.5 616.6M1831.5 605.8L1832.6 616.6M1836.2 604.8L1839.6 615.0M1840.6 602.7L1846.2 612.0M1844.4 599.8L1851.9 607.6M1847.5 596.1L1856.5 602.2M1819.6 563.3L1815.5 565.8L1812.0 569.1L1809.3 573.1L1807.5 577.6L1806.7 582.4L1807.0 587.2L1808.2 591.9L1810.5 596.2L1813.6 599.8L1817.5 602.8L1821.9 604.8L1826.6 605.8L1831.5 605.8L1836.2 604.8L1840.6 602.7L1844.4 599.8L1847.5 596.1"/>
<path stroke-width="1.2" d="M1934.4 785.5L1941.2 777.1M1930.4 782.9L1935.3 773.3M1925.9 781.2L1928.8 770.8M1921.2 780.4L1921.9 769.6M1916.4 780.6L1914.9 769.9M1911.8 781.7L1908.2 771.5M1907.5 783.8L1901.9 774.6M1903.7 786.7L1896.3 778.8M1900.6 790.3L1891.7 784.1M1898.3 794.4L1888.3 790.2M1896.8 799.0L1886.3 796.9M1896.4 803.8L1885.6 803.8M1896.9 808.5L1886.3 810.8M1898.4 813.0L1888.5 817.4M1900.7 817.2L1891.9 823.5M1903.9 820.8L1896.5 828.7M1907.7 823.6L1902.1 832.9M1912.0 825.7L1908.5 835.9M1916.7 826.7L1915.3 837.5M1921.4 826.9L1922.2 837.6M1934.4 785.5L1930.4 782.9L1925.9 781.2L1921.2 780.4L1916.4 780.6L1911.8 781.7L1907.5 783.8L1903.7 786.7L1900.6 790.3L1898.3 794.4L1896.8 799.0L1896.4 803.8L1896.9 808.5L1898.4 813.0L1900.7 817.2L1903.9 820.8L1907.7 823.6L1912.0 825.7L1916.7 826.7L1921.4 826.9"/>
<path stroke-width="1.2" d="M1762.5 830.8L1762.1 820.0M1767.1 831.0L1768.5 820.3M1771.6 832.0L1774.8 821.7M1775.8 833.7L1780.8 824.2M1779.6 836.2L1786.2 827.7M1783.0 839.3L1791.0 832.0M1785.8 842.9L1794.9 837.1M1787.9 847.0L1797.9 842.9M1789.3 851.4L1799.8 849.0M1789.8 855.9L1800.6 855.4M1789.7 860.5L1800.4 861.9M1762.5 830.8L1767.1 831.0L1771.6 832.0L1775.8 833.7L1779.6 836.2L1783.0 839.3L1785.8 842.9L1787.9 847.0L1789.3 851.4L1789.8 855.9L1789.7 860.5"/>
<path stroke-width="1.2" d="M1684.8 758.9L1680.7 748.9M1689.3 757.6L1687.3 747.0M1693.9 757.2L1694.1 746.4M1698.6 757.8L1700.9 747.2M1703.0 759.2L1707.4 749.3M1707.1 761.5L1713.4 752.7M1710.7 764.6L1718.5 757.2M1713.5 768.3L1722.7 762.6M1715.6 772.5L1725.7 768.8M1716.8 777.1L1727.4 775.4M1717.0 781.7L1727.8 782.2M1716.4 786.4L1726.9 789.0M1714.8 790.8L1724.6 795.4M1712.4 794.8L1721.0 801.3M1709.2 798.3L1716.4 806.3M1705.4 801.0L1710.9 810.4M1684.8 758.9L1689.3 757.6L1693.9 757.2L1698.6 757.8L1703.0 759.2L1707.1 761.5L1710.7 764.6L1713.5 768.3L1715.6 772.5L1716.8 777.1L1717.0 781.7L1716.4 786.4L1714.8 790.8L1712.4 794.8L1709.2 798.3L1705.4 801.0"/>
</g>
<g stroke="#2e8b57" stroke-width="1.2" stroke-dasharray="4 3" fill="none">
<line x1="268.3" y1="214.8" x2="285.7" y2="259.3"/>
<line x1="205.9" y1="369.0" x2="248.1" y2="383.5"/>
<line x1="147.3" y1="453.0" x2="220.9" y2="469.3"/>
<line x1="155.0" y1="479.1" x2="220.9" y2="469.3"/>
<line x1="202.7" y1="598.2" x2="261.6" y2="573.6"/>
<line x1="849.0" y1="245.6" x2="876.6" y2="292.8"/>
<line x1="875.3" y1="488.9" x2="990.8" y2="429.9"/>
<line x1="1121.4" y1="432.8" x2="945.7" y2="463.8"/>
<line x1="1138.8" y1="497.9" x2="1087.9" y2="587.8"/>
<line x1="1126.6" y1="572.8" x2="1193.0" y2="547.5"/>
<line x1="1126.6" y1="572.8" x2="1243.7" y2="569.5"/>
<line x1="1210.6" y1="652.8" x2="1089.9" y2="687.0"/>
<line x1="1528.7" y1="202.3" x2="1680.4" y2="301.8"/>
<line x1="1562.8" y1="250.1" x2="1680.4" y2="301.8"/>
<line x1="1680.4" y1="301.8" x2="1646.8" y2="360.7"/>
<line x1="1528.4" y1="468.7" x2="1568.5" y2="520.9"/>
<line x1="1510.6" y1="518.8" x2="1568.5" y2="520.9"/>
<line x1="1569.3" y1="351.6" x2="1655.8" y2="469.2"/>
<line x1="1896.4" y1="436.9" x2="1726.3" y2="445.9"/>
</g>
<line x1="1837.5" y1="845.5" x2="1833.6" y2="873.4" stroke="#7059b8" stroke-width="3.1"/>
<g stroke="#7059b8" stroke-width="2.7" stroke-linecap="round">
<line x1="237.8" y1="253.9" x2="248.1" y2="275.8"/>
<line x1="248.1" y1="275.8" x2="272.2" y2="278.4"/>
<line x1="272.2" y1="278.4" x2="286.1" y2="259.6"/>
<line x1="248.1" y1="275.8" x2="234.4" y2="296.0"/>
<line x1="234.4" y1="296.0" x2="209.4" y2="294.4"/>
<line x1="234.4" y1="296.0" x2="244.3" y2="316.7"/>
<line x1="244.3" y1="316.7" x2="266.2" y2="319.8"/>
<line x1="266.2" y1="319.8" x2="281.7" y2="301.2"/>
<line x1="281.7" y1="301.2" x2="272.2" y2="278.4"/>
<line x1="281.7" y1="301.2" x2="304.5" y2="303.7"/>
<line x1="304.5" y1="303.7" x2="303.2" y2="327.5"/>
<line x1="303.2" y1="327.5" x2="281.7" y2="334.0"/>
<line x1="281.7" y1="334.0" x2="274.5" y2="355.2"/>
<line x1="274.5" y1="355.2" x2="249.9" y2="359.8"/>
<line x1="249.9" y1="359.8" x2="248.1" y2="383.6"/>
<line x1="266.2" y1="319.8" x2="254.1" y2="342.5"/>
<line x1="254.1" y1="342.5" x2="231.3" y2="338.6"/>
<line x1="274.5" y1="355.2" x2="289.5" y2="374.0"/>
<line x1="289.5" y1="374.0" x2="313.5" y2="368.9"/>
<line x1="313.5" y1="368.9" x2="320.5" y2="345.6"/>
<line x1="320.5" y1="345.6" x2="303.2" y2="327.5"/>
<line x1="320.5" y1="345.6" x2="343.7" y2="338.6"/>
<line x1="343.7" y1="338.6" x2="358.7" y2="359.0"/>
<line x1="358.7" y1="359.0" x2="384.6" y2="352.1"/>
<line x1="384.6" y1="352.1" x2="378.1" y2="325.7"/>
<line x1="384.6" y1="352.1" x2="407.8" y2="335.8"/>
<line x1="407.8" y1="335.8" x2="409.1" y2="309.9"/>
<line x1="384.6" y1="352.1" x2="391.0" y2="376.6"/>
<line x1="391.0" y1="376.6" x2="410.2" y2="383.1"/>
<line x1="391.0" y1="376.6" x2="375.3" y2="392.9"/>
<line x1="375.3" y1="392.9" x2="352.8" y2="390.1"/>
<line x1="352.8" y1="390.1" x2="340.6" y2="412.0"/>
<line x1="340.6" y1="412.0" x2="316.6" y2="409.7"/>
<line x1="316.6" y1="409.7" x2="305.0" y2="388.8"/>
<line x1="316.6" y1="409.7" x2="301.1" y2="428.3"/>
<line x1="313.5" y1="368.9" x2="329.0" y2="385.7"/>
<line x1="289.5" y1="374.0" x2="290.3" y2="398.1"/>
<line x1="290.3" y1="398.1" x2="277.9" y2="418.0"/>
<line x1="277.9" y1="418.0" x2="255.4" y2="417.2"/>
<line x1="255.4" y1="417.2" x2="241.7" y2="434.8"/>
<line x1="241.7" y1="434.8" x2="218.9" y2="445.1"/>
<line x1="218.9" y1="445.1" x2="221.5" y2="468.3"/>
<line x1="241.7" y1="434.8" x2="252.0" y2="456.7"/>
<line x1="252.0" y1="456.7" x2="276.0" y2="458.8"/>
<line x1="276.0" y1="458.8" x2="289.5" y2="440.4"/>
<line x1="289.5" y1="440.4" x2="277.9" y2="418.0"/>
<line x1="289.5" y1="440.4" x2="314.0" y2="440.4"/>
<line x1="314.0" y1="275.8" x2="331.6" y2="262.1"/>
<line x1="314.0" y1="275.8" x2="326.2" y2="298.3"/>
<line x1="326.2" y1="298.3" x2="349.7" y2="296.0"/>
<line x1="349.7" y1="296.0" x2="358.0" y2="272.7"/>
<line x1="349.7" y1="296.0" x2="368.3" y2="311.2"/>
<line x1="385.6" y1="269.4" x2="372.7" y2="291.3"/>
<line x1="385.6" y1="269.4" x2="407.8" y2="283.1"/>
<line x1="407.8" y1="283.1" x2="409.1" y2="309.9"/>
<line x1="409.1" y1="309.9" x2="383.8" y2="307.4"/>
<line x1="385.6" y1="269.4" x2="364.4" y2="255.2"/>
<line x1="409.1" y1="309.9" x2="434.2" y2="312.0"/>
<line x1="434.2" y1="312.0" x2="446.6" y2="295.7"/>
<line x1="434.2" y1="312.0" x2="436.8" y2="334.0"/>
<line x1="436.8" y1="334.0" x2="422.6" y2="352.6"/>
<line x1="422.6" y1="352.6" x2="431.1" y2="376.6"/>
<line x1="431.1" y1="376.6" x2="454.9" y2="372.7"/>
<line x1="454.9" y1="372.7" x2="466.5" y2="350.8"/>
<line x1="454.9" y1="372.7" x2="472.4" y2="390.8"/>
<line x1="419.5" y1="253.1" x2="430.3" y2="273.3"/>
<line x1="430.3" y1="273.3" x2="454.9" y2="274.5"/>
<line x1="454.9" y1="274.5" x2="463.4" y2="297.3"/>
<line x1="463.4" y1="297.3" x2="487.2" y2="303.7"/>
<line x1="463.4" y1="297.3" x2="449.7" y2="317.2"/>
<line x1="348.4" y1="150.7" x2="348.4" y2="171.4"/>
<line x1="348.4" y1="171.4" x2="329.1" y2="182.2"/>
<line x1="329.1" y1="182.2" x2="308.4" y2="172.7"/>
<line x1="308.4" y1="172.7" x2="294.7" y2="194.1"/>
<line x1="294.7" y1="194.1" x2="308.4" y2="214.8"/>
<line x1="308.4" y1="214.8" x2="332.2" y2="214.8"/>
<line x1="308.4" y1="214.8" x2="299.1" y2="237.3"/>
<line x1="348.4" y1="171.4" x2="370.4" y2="183.8"/>
<line x1="370.4" y1="183.8" x2="387.7" y2="163.1"/>
<line x1="370.4" y1="183.8" x2="391.1" y2="201.1"/>
<line x1="370.4" y1="183.8" x2="354.1" y2="205.0"/>
<line x1="354.1" y1="205.0" x2="358.5" y2="230.8"/>
<line x1="358.5" y1="230.8" x2="383.9" y2="225.1"/>
<line x1="389.0" y1="230.3" x2="398.6" y2="248.1"/>
<line x1="358.5" y1="230.8" x2="335.3" y2="239.4"/>
<line x1="335.3" y1="239.4" x2="319.3" y2="227.0"/>
<line x1="335.3" y1="239.4" x2="331.6" y2="262.1"/>
<line x1="358.5" y1="230.8" x2="364.4" y2="255.2"/>
<line x1="385.6" y1="269.4" x2="398.6" y2="248.1"/>
<line x1="398.6" y1="248.1" x2="419.5" y2="253.1"/>
<line x1="276.0" y1="458.8" x2="286.0" y2="480.9"/>
<line x1="252.0" y1="456.7" x2="237.7" y2="476.5"/>
<line x1="237.7" y1="476.5" x2="249.4" y2="497.7"/>
<line x1="249.4" y1="497.7" x2="270.0" y2="494.6"/>
<line x1="270.0" y1="494.6" x2="286.8" y2="508.0"/>
<line x1="220.2" y1="485.3" x2="208.0" y2="502.8"/>
<line x1="208.0" y1="502.8" x2="184.0" y2="499.5"/>
<line x1="208.0" y1="502.8" x2="218.3" y2="521.7"/>
<line x1="218.3" y1="521.7" x2="241.6" y2="520.9"/>
<line x1="241.6" y1="520.9" x2="249.4" y2="497.7"/>
<line x1="241.6" y1="520.9" x2="259.0" y2="537.5"/>
<line x1="259.0" y1="537.5" x2="281.8" y2="533.6"/>
<line x1="281.8" y1="533.6" x2="286.8" y2="508.0"/>
<line x1="259.0" y1="537.5" x2="252.0" y2="560.7"/>
<line x1="281.8" y1="533.6" x2="294.7" y2="553.5"/>
<line x1="294.7" y1="553.5" x2="282.8" y2="573.6"/>
<line x1="282.8" y1="573.6" x2="261.6" y2="573.6"/>
<line x1="261.6" y1="573.6" x2="245.6" y2="589.7"/>
<line x1="245.6" y1="589.7" x2="255.9" y2="612.9"/>
<line x1="255.9" y1="612.9" x2="277.9" y2="614.5"/>
<line x1="277.9" y1="614.5" x2="293.9" y2="596.9"/>
<line x1="293.9" y1="596.9" x2="282.8" y2="573.6"/>
<line x1="228.0" y1="553.5" x2="224.1" y2="576.7"/>
<line x1="224.1" y1="576.7" x2="245.6" y2="589.7"/>
<line x1="255.9" y1="612.9" x2="241.4" y2="633.9"/>
<line x1="277.9" y1="614.5" x2="287.4" y2="636.2"/>
<line x1="293.9" y1="596.9" x2="317.2" y2="600.8"/>
<line x1="271.9" y1="629.2" x2="266.8" y2="653.0"/>
<line x1="266.8" y1="653.0" x2="242.7" y2="656.3"/>
<line x1="266.8" y1="653.0" x2="286.1" y2="668.0"/>
<line x1="286.1" y1="668.0" x2="305.5" y2="651.2"/>
<line x1="317.2" y1="600.8" x2="323.6" y2="623.8"/>
<line x1="323.6" y1="623.8" x2="349.5" y2="628.5"/>
<line x1="349.5" y1="628.5" x2="354.7" y2="601.3"/>
<line x1="349.5" y1="628.5" x2="377.4" y2="633.6"/>
<line x1="377.4" y1="633.6" x2="396.8" y2="616.3"/>
<line x1="396.8" y1="616.3" x2="380.0" y2="596.7"/>
<line x1="396.8" y1="616.3" x2="416.1" y2="600.1"/>
<line x1="416.1" y1="600.1" x2="413.0" y2="573.4"/>
<line x1="413.0" y1="573.4" x2="388.2" y2="576.8"/>
<line x1="413.0" y1="573.4" x2="437.6" y2="570.3"/>
<line x1="416.1" y1="600.1" x2="434.2" y2="608.6"/>
<line x1="396.8" y1="616.3" x2="413.0" y2="635.7"/>
<line x1="413.0" y1="635.7" x2="432.2" y2="631.8"/>
<line x1="413.0" y1="635.7" x2="405.8" y2="656.9"/>
<line x1="405.8" y1="656.9" x2="383.9" y2="662.8"/>
<line x1="383.9" y1="662.8" x2="382.6" y2="688.4"/>
<line x1="382.6" y1="688.4" x2="358.5" y2="693.6"/>
<line x1="358.5" y1="693.6" x2="345.1" y2="672.4"/>
<line x1="358.5" y1="693.6" x2="344.3" y2="713.0"/>
<line x1="349.5" y1="628.5" x2="345.1" y2="654.3"/>
<line x1="345.1" y1="654.3" x2="359.8" y2="667.8"/>
<line x1="345.1" y1="654.3" x2="324.4" y2="662.8"/>
<line x1="324.4" y1="662.8" x2="305.5" y2="651.2"/>
<line x1="422.6" y1="651.0" x2="447.2" y2="646.6"/>
<line x1="317.8" y1="480.4" x2="311.3" y2="503.6"/>
<line x1="311.3" y1="503.6" x2="286.8" y2="508.0"/>
<line x1="308.8" y1="519.1" x2="328.9" y2="518.6"/>
<line x1="328.9" y1="518.6" x2="341.1" y2="500.3"/>
<line x1="341.1" y1="500.3" x2="364.3" y2="501.1"/>
<line x1="364.3" y1="501.1" x2="373.4" y2="477.3"/>
<line x1="373.4" y1="477.3" x2="397.4" y2="476.5"/>
<line x1="397.4" y1="476.5" x2="411.6" y2="456.4"/>
<line x1="397.4" y1="476.5" x2="411.6" y2="497.2"/>
<line x1="328.9" y1="518.6" x2="342.4" y2="539.8"/>
<line x1="342.4" y1="539.8" x2="321.2" y2="554.0"/>
<line x1="342.4" y1="539.8" x2="356.6" y2="561.3"/>
<line x1="342.4" y1="539.8" x2="363.5" y2="525.1"/>
<line x1="363.5" y1="525.1" x2="386.8" y2="535.9"/>
<line x1="386.8" y1="535.9" x2="401.3" y2="515.8"/>
<line x1="401.3" y1="515.8" x2="393.3" y2="497.7"/>
<line x1="401.3" y1="515.8" x2="423.0" y2="518.4"/>
<line x1="423.0" y1="518.4" x2="440.5" y2="532.8"/>
<line x1="440.5" y1="532.8" x2="465.6" y2="531.6"/>
<line x1="465.6" y1="531.6" x2="485.2" y2="546.8"/>
<line x1="485.2" y1="546.8" x2="509.5" y2="542.9"/>
<line x1="485.2" y1="546.8" x2="480.6" y2="571.3"/>
<line x1="386.8" y1="535.9" x2="375.9" y2="560.0"/>
<line x1="386.8" y1="535.9" x2="410.3" y2="547.6"/>
<line x1="410.3" y1="547.6" x2="413.0" y2="573.4"/>
<line x1="437.6" y1="570.3" x2="445.7" y2="552.0"/>
<line x1="437.6" y1="570.3" x2="447.8" y2="590.7"/>
<line x1="447.8" y1="590.7" x2="434.2" y2="608.6"/>
<line x1="434.2" y1="608.6" x2="454.8" y2="623.8"/>
<line x1="454.8" y1="623.8" x2="447.2" y2="646.6"/>
<line x1="447.2" y1="646.6" x2="459.3" y2="665.7"/>
</g>
<g stroke="#7059b8" stroke-width="3.1" stroke-linecap="round">
<line x1="929.1" y1="183.2" x2="937.9" y2="210.1"/>
<line x1="937.9" y1="210.1" x2="965.8" y2="211.7"/>
<line x1="937.9" y1="210.1" x2="917.2" y2="229.0"/>
<line x1="917.2" y1="229.0" x2="928.3" y2="253.5"/>
<line x1="928.3" y1="253.5" x2="913.3" y2="279.1"/>
<line x1="913.3" y1="279.1" x2="924.4" y2="302.9"/>
<line x1="924.4" y1="302.9" x2="910.2" y2="321.3"/>
<line x1="924.4" y1="302.9" x2="953.4" y2="306.3"/>
<line x1="953.4" y1="306.3" x2="983.9" y2="309.6"/>
<line x1="953.4" y1="306.3" x2="950.3" y2="336.8"/>
<line x1="953.4" y1="306.3" x2="956.7" y2="274.8"/>
<line x1="956.7" y1="274.8" x2="984.6" y2="263.1"/>
<line x1="984.6" y1="263.1" x2="1012.3" y2="251.2"/>
<line x1="1012.3" y1="251.2" x2="1036.8" y2="268.8"/>
<line x1="1036.8" y1="268.8" x2="1020.0" y2="292.8"/>
<line x1="984.6" y1="263.1" x2="996.0" y2="290.3"/>
<line x1="984.6" y1="263.1" x2="973.5" y2="236.5"/>
<line x1="973.5" y1="236.5" x2="950.3" y2="233.9"/>
<line x1="973.5" y1="236.5" x2="989.0" y2="215.8"/>
<line x1="989.0" y1="215.8" x2="1014.9" y2="221.8"/>
<line x1="1014.9" y1="221.8" x2="1029.8" y2="196.5"/>
<line x1="876.6" y1="292.8" x2="899.9" y2="306.3"/>
<line x1="899.9" y1="306.3" x2="884.4" y2="331.3"/>
<line x1="884.4" y1="331.3" x2="858.5" y2="330.8"/>
<line x1="858.5" y1="330.8" x2="843.0" y2="352.0"/>
<line x1="843.0" y1="352.0" x2="814.1" y2="349.4"/>
<line x1="843.0" y1="352.0" x2="854.7" y2="377.9"/>
<line x1="854.7" y1="377.9" x2="838.6" y2="400.6"/>
<line x1="854.7" y1="377.9" x2="882.6" y2="379.4"/>
<line x1="882.6" y1="379.4" x2="894.7" y2="403.7"/>
<line x1="882.6" y1="379.4" x2="898.1" y2="356.1"/>
<line x1="898.1" y1="356.1" x2="884.4" y2="331.3"/>
<line x1="898.1" y1="356.1" x2="925.2" y2="356.7"/>
<line x1="925.2" y1="356.7" x2="934.8" y2="383.0"/>
<line x1="934.8" y1="383.0" x2="915.4" y2="399.3"/>
<line x1="934.8" y1="383.0" x2="961.4" y2="392.3"/>
<line x1="961.4" y1="392.3" x2="983.3" y2="374.0"/>
<line x1="983.3" y1="374.0" x2="1008.4" y2="387.2"/>
<line x1="1008.4" y1="387.2" x2="1031.7" y2="367.0"/>
<line x1="1031.7" y1="367.0" x2="1012.3" y2="343.7"/>
<line x1="915.4" y1="399.3" x2="918.0" y2="425.0"/>
<line x1="918.0" y1="425.0" x2="897.8" y2="446.2"/>
<line x1="897.8" y1="446.2" x2="901.2" y2="472.8"/>
<line x1="918.0" y1="425.0" x2="943.0" y2="437.2"/>
<line x1="943.0" y1="437.2" x2="945.9" y2="463.8"/>
<line x1="945.9" y1="463.8" x2="971.7" y2="473.9"/>
<line x1="971.7" y1="473.9" x2="991.6" y2="456.6"/>
<line x1="991.6" y1="456.6" x2="1016.1" y2="463.5"/>
<line x1="1016.1" y1="463.5" x2="1029.1" y2="437.7"/>
<line x1="1029.1" y1="437.7" x2="1009.2" y2="419.6"/>
<line x1="943.0" y1="437.2" x2="965.8" y2="420.4"/>
<line x1="965.8" y1="420.4" x2="990.8" y2="429.9"/>
<line x1="965.8" y1="420.4" x2="961.4" y2="392.3"/>
<line x1="971.7" y1="473.9" x2="976.1" y2="501.3"/>
<line x1="976.1" y1="501.3" x2="954.9" y2="519.1"/>
<line x1="976.1" y1="501.3" x2="1002.7" y2="510.3"/>
<line x1="1002.7" y1="510.3" x2="1008.4" y2="536.7"/>
<line x1="1002.7" y1="510.3" x2="1022.6" y2="490.9"/>
<line x1="1022.6" y1="490.9" x2="1016.1" y2="463.5"/>
<line x1="1022.6" y1="490.9" x2="1047.2" y2="498.7"/>
<line x1="836.6" y1="536.7" x2="857.2" y2="554.8"/>
<line x1="857.2" y1="554.8" x2="881.8" y2="542.6"/>
<line x1="857.2" y1="554.8" x2="854.1" y2="583.2"/>
<line x1="854.1" y1="583.2" x2="879.2" y2="594.8"/>
<line x1="885.1" y1="522.5" x2="900.6" y2="546.5"/>
<line x1="900.6" y1="546.5" x2="883.6" y2="568.4"/>
<line x1="900.6" y1="546.5" x2="928.3" y2="546.5"/>
<line x1="928.3" y1="546.5" x2="938.6" y2="574.1"/>
<line x1="938.6" y1="574.1" x2="965.2" y2="574.1"/>
<line x1="965.2" y1="574.1" x2="983.3" y2="590.9"/>
<line x1="983.3" y1="590.9" x2="1004.0" y2="581.9"/>
<line x1="989.0" y1="528.4" x2="992.9" y2="556.0"/>
<line x1="992.9" y1="556.0" x2="1021.3" y2="559.9"/>
<line x1="1021.3" y1="559.9" x2="1029.8" y2="537.2"/>
<line x1="1021.3" y1="559.9" x2="1042.0" y2="580.6"/>
<line x1="879.2" y1="594.8" x2="892.1" y2="620.3"/>
<line x1="892.1" y1="620.3" x2="918.0" y2="618.5"/>
<line x1="918.0" y1="618.5" x2="927.8" y2="597.8"/>
<line x1="918.0" y1="618.5" x2="934.0" y2="642.2"/>
<line x1="934.0" y1="642.2" x2="951.6" y2="618.5"/>
<line x1="951.6" y1="618.5" x2="980.7" y2="620.3"/>
<line x1="980.7" y1="620.3" x2="1011.0" y2="622.9"/>
<line x1="980.7" y1="620.3" x2="978.7" y2="650.3"/>
<line x1="980.7" y1="620.3" x2="983.3" y2="590.9"/>
<line x1="934.0" y1="642.2" x2="958.0" y2="659.8"/>
<line x1="934.0" y1="642.2" x2="916.7" y2="666.8"/>
<line x1="916.7" y1="666.8" x2="927.8" y2="694.7"/>
<line x1="927.8" y1="694.7" x2="954.9" y2="683.1"/>
<line x1="927.8" y1="694.7" x2="899.1" y2="700.4"/>
<line x1="899.1" y1="700.4" x2="892.1" y2="722.4"/>
<line x1="899.1" y1="700.4" x2="879.2" y2="684.4"/>
<line x1="879.2" y1="684.4" x2="853.9" y2="685.7"/>
<line x1="853.9" y1="685.7" x2="846.9" y2="657.2"/>
<line x1="846.9" y1="657.2" x2="872.2" y2="645.6"/>
<line x1="872.2" y1="645.6" x2="872.2" y2="617.7"/>
<line x1="872.2" y1="645.6" x2="899.1" y2="655.2"/>
<line x1="927.8" y1="694.7" x2="938.6" y2="721.8"/>
<line x1="938.6" y1="721.8" x2="967.8" y2="727.8"/>
<line x1="967.8" y1="727.8" x2="974.0" y2="698.6"/>
<line x1="967.8" y1="727.8" x2="997.5" y2="734.0"/>
<line x1="997.5" y1="734.0" x2="1021.8" y2="714.1"/>
<line x1="1021.8" y1="714.1" x2="1002.7" y2="690.3"/>
<line x1="1021.8" y1="714.1" x2="1045.9" y2="694.7"/>
<line x1="1045.9" y1="694.7" x2="1038.9" y2="667.1"/>
<line x1="1021.8" y1="714.1" x2="1042.0" y2="736.6"/>
<line x1="1042.0" y1="736.6" x2="1033.5" y2="758.8"/>
<line x1="967.8" y1="727.8" x2="961.9" y2="755.9"/>
<line x1="961.9" y1="755.9" x2="940.7" y2="764.0"/>
<line x1="961.9" y1="755.9" x2="981.3" y2="771.7"/>
<line x1="981.3" y1="771.7" x2="1007.6" y2="767.1"/>
<line x1="1042.0" y1="580.6" x2="1036.3" y2="607.4"/>
<line x1="1007.6" y1="767.1" x2="1022.9" y2="792.8"/>
<line x1="1022.9" y1="792.8" x2="1048.7" y2="782.4"/>
<line x1="1048.7" y1="782.4" x2="1061.1" y2="757.9"/>
<line x1="1048.7" y1="782.4" x2="1068.9" y2="802.8"/>
<line x1="1042.0" y1="736.6" x2="1066.3" y2="734.6"/>
<line x1="1066.3" y1="734.6" x2="1074.6" y2="709.3"/>
<line x1="1029.8" y1="196.5" x2="1057.4" y2="200.5"/>
<line x1="1057.4" y1="200.5" x2="1073.1" y2="177.8"/>
<line x1="1057.4" y1="200.5" x2="1074.4" y2="223.3"/>
<line x1="1047.3" y1="222.8" x2="1053.0" y2="245.6"/>
<line x1="1053.0" y1="245.6" x2="1077.5" y2="252.0"/>
<line x1="1077.5" y1="252.0" x2="1087.9" y2="276.0"/>
<line x1="1087.9" y1="276.0" x2="1116.8" y2="274.0"/>
<line x1="1116.8" y1="274.0" x2="1124.5" y2="301.1"/>
<line x1="1124.5" y1="301.1" x2="1149.1" y2="314.8"/>
<line x1="1124.5" y1="301.1" x2="1103.4" y2="320.0"/>
<line x1="1053.0" y1="245.6" x2="1036.8" y2="268.8"/>
<line x1="1036.8" y1="268.8" x2="1061.2" y2="286.1"/>
<line x1="1061.2" y1="286.1" x2="1056.1" y2="316.1"/>
<line x1="1056.1" y1="316.1" x2="1025.8" y2="316.1"/>
<line x1="1056.1" y1="316.1" x2="1084.8" y2="316.1"/>
<line x1="1084.8" y1="316.1" x2="1096.9" y2="295.2"/>
<line x1="1084.8" y1="316.1" x2="1097.7" y2="338.1"/>
<line x1="1097.7" y1="338.1" x2="1087.9" y2="361.8"/>
<line x1="1087.9" y1="361.8" x2="1109.0" y2="382.5"/>
<line x1="1109.0" y1="382.5" x2="1132.6" y2="366.5"/>
<line x1="1132.6" y1="366.5" x2="1127.9" y2="338.1"/>
<line x1="1132.6" y1="366.5" x2="1160.2" y2="372.2"/>
<line x1="1056.1" y1="316.1" x2="1056.1" y2="346.3"/>
<line x1="1056.1" y1="346.3" x2="1031.7" y2="367.0"/>
<line x1="1031.7" y1="367.0" x2="1051.2" y2="389.5"/>
<line x1="1051.2" y1="389.5" x2="1074.4" y2="385.6"/>
<line x1="1051.2" y1="389.5" x2="1043.2" y2="412.2"/>
<line x1="1043.2" y1="412.2" x2="1062.0" y2="432.0"/>
<line x1="1062.0" y1="432.0" x2="1050.9" y2="459.1"/>
<line x1="1050.9" y1="459.1" x2="1076.2" y2="471.6"/>
<line x1="1076.2" y1="471.6" x2="1094.8" y2="450.9"/>
<line x1="1076.2" y1="471.6" x2="1089.1" y2="496.1"/>
<line x1="1047.2" y1="498.7" x2="1050.9" y2="525.6"/>
<line x1="1050.9" y1="525.6" x2="1029.8" y2="537.2"/>
<line x1="1042.0" y1="580.6" x2="1067.2" y2="569.7"/>
<line x1="1067.2" y1="569.7" x2="1074.4" y2="544.4"/>
<line x1="1074.4" y1="544.4" x2="1050.9" y2="525.6"/>
<line x1="1074.4" y1="544.4" x2="1101.3" y2="539.8"/>
<line x1="1101.3" y1="539.8" x2="1092.2" y2="514.7"/>
<line x1="1092.2" y1="514.7" x2="1069.3" y2="510.3"/>
<line x1="1092.2" y1="514.7" x2="1111.1" y2="493.3"/>
<line x1="1067.2" y1="569.7" x2="1087.9" y2="587.8"/>
<line x1="1036.3" y1="607.4" x2="1060.7" y2="621.1"/>
<line x1="1060.7" y1="621.1" x2="1081.9" y2="609.9"/>
<line x1="1081.9" y1="609.9" x2="1106.7" y2="617.7"/>
<line x1="1106.7" y1="617.7" x2="1129.2" y2="599.6"/>
<line x1="1129.2" y1="599.6" x2="1126.6" y2="572.7"/>
<line x1="1106.7" y1="617.7" x2="1109.3" y2="646.9"/>
<line x1="1109.3" y1="646.9" x2="1135.1" y2="659.8"/>
<line x1="1109.3" y1="646.9" x2="1087.3" y2="659.8"/>
<line x1="1087.3" y1="659.8" x2="1089.9" y2="687.0"/>
<line x1="1087.3" y1="659.8" x2="1061.5" y2="650.8"/>
<line x1="1061.5" y1="650.8" x2="1060.7" y2="621.1"/>
<line x1="1061.5" y1="650.8" x2="1038.9" y2="667.1"/>
<line x1="1074.6" y1="709.3" x2="1093.5" y2="732.7"/>
<line x1="1093.5" y1="732.7" x2="1116.3" y2="715.4"/>
<line x1="1116.3" y1="715.4" x2="1120.2" y2="688.2"/>
<line x1="1116.3" y1="715.4" x2="1141.6" y2="728.3"/>
</g>
<g stroke="#7059b8" stroke-width="3.1" stroke-linecap="round">
<line x1="1602.8" y1="175.7" x2="1633.3" y2="171.3"/>
<line x1="1633.3" y1="171.3" x2="1637.2" y2="198.9"/>
<line x1="1637.2" y1="198.9" x2="1655.8" y2="218.3"/>
<line x1="1655.8" y1="218.3" x2="1683.7" y2="207.0"/>
<line x1="1683.7" y1="207.0" x2="1677.0" y2="176.5"/>
<line x1="1602.8" y1="175.7" x2="1595.1" y2="203.6"/>
<line x1="1595.1" y1="203.6" x2="1569.3" y2="218.6"/>
<line x1="1595.1" y1="203.6" x2="1618.3" y2="222.2"/>
<line x1="1655.8" y1="218.3" x2="1651.4" y2="242.4"/>
<line x1="1672.6" y1="247.5" x2="1646.8" y2="265.1"/>
<line x1="1646.8" y1="265.1" x2="1642.9" y2="294.8"/>
<line x1="1642.9" y1="294.8" x2="1614.5" y2="303.1"/>
<line x1="1642.9" y1="294.8" x2="1661.0" y2="318.1"/>
<line x1="1588.6" y1="429.1" x2="1562.3" y2="439.5"/>
<line x1="1562.3" y1="439.5" x2="1577.0" y2="466.6"/>
<line x1="1577.0" y1="466.6" x2="1605.9" y2="457.6"/>
<line x1="1605.9" y1="457.6" x2="1611.9" y2="429.7"/>
<line x1="1627.4" y1="477.5" x2="1619.1" y2="505.9"/>
<line x1="1619.1" y1="505.9" x2="1589.9" y2="512.6"/>
<line x1="1589.9" y1="512.6" x2="1570.5" y2="493.7"/>
<line x1="1570.5" y1="493.7" x2="1577.0" y2="466.6"/>
<line x1="1568.5" y1="520.9" x2="1544.7" y2="538.4"/>
<line x1="1589.9" y1="512.6" x2="1591.7" y2="541.3"/>
<line x1="1591.7" y1="541.3" x2="1584.2" y2="569.3"/>
<line x1="1584.2" y1="569.3" x2="1554.3" y2="567.7"/>
<line x1="1554.3" y1="567.7" x2="1544.7" y2="538.4"/>
<line x1="1554.3" y1="567.7" x2="1539.5" y2="590.4"/>
<line x1="1539.5" y1="590.4" x2="1549.9" y2="616.3"/>
<line x1="1549.9" y1="616.3" x2="1580.1" y2="619.6"/>
<line x1="1580.1" y1="619.6" x2="1597.7" y2="596.1"/>
<line x1="1597.7" y1="596.1" x2="1584.2" y2="569.3"/>
<line x1="1597.7" y1="596.1" x2="1626.6" y2="598.2"/>
<line x1="1580.1" y1="619.6" x2="1592.5" y2="645.5"/>
<line x1="1549.9" y1="616.3" x2="1531.0" y2="640.8"/>
<line x1="1640.0" y1="54.8" x2="1662.5" y2="71.6"/>
<line x1="1662.5" y1="71.6" x2="1691.7" y2="66.7"/>
<line x1="1691.7" y1="66.7" x2="1698.1" y2="96.9"/>
<line x1="1698.1" y1="96.9" x2="1674.4" y2="111.1"/>
<line x1="1674.4" y1="111.1" x2="1654.7" y2="99.5"/>
<line x1="1654.7" y1="99.5" x2="1662.5" y2="71.6"/>
<line x1="1674.4" y1="111.1" x2="1676.2" y2="137.5"/>
<line x1="1676.2" y1="137.5" x2="1651.6" y2="142.9"/>
<line x1="1676.2" y1="137.5" x2="1700.7" y2="155.8"/>
<line x1="1700.7" y1="155.8" x2="1727.1" y2="138.2"/>
<line x1="1727.1" y1="138.2" x2="1756.8" y2="150.4"/>
<line x1="1756.8" y1="150.4" x2="1788.1" y2="157.1"/>
<line x1="1788.1" y1="157.1" x2="1803.6" y2="187.3"/>
<line x1="1803.6" y1="187.3" x2="1774.9" y2="200.8"/>
<line x1="1700.7" y1="155.8" x2="1677.0" y2="176.5"/>
<line x1="1683.7" y1="207.0" x2="1713.1" y2="195.9"/>
<line x1="1700.7" y1="155.8" x2="1722.2" y2="177.5"/>
<line x1="1756.8" y1="150.4" x2="1750.3" y2="180.9"/>
<line x1="1756.8" y1="150.4" x2="1764.0" y2="120.7"/>
<line x1="1764.0" y1="120.7" x2="1745.9" y2="103.9"/>
<line x1="1764.0" y1="120.7" x2="1791.2" y2="117.1"/>
<line x1="1791.2" y1="117.1" x2="1810.5" y2="137.0"/>
<line x1="1810.5" y1="137.0" x2="1832.5" y2="116.3"/>
<line x1="1832.5" y1="116.3" x2="1862.7" y2="107.2"/>
<line x1="1862.7" y1="107.2" x2="1872.0" y2="80.1"/>
<line x1="1862.7" y1="107.2" x2="1885.5" y2="126.6"/>
<line x1="1803.6" y1="187.3" x2="1831.7" y2="173.6"/>
<line x1="1831.7" y1="173.6" x2="1830.7" y2="148.1"/>
<line x1="1831.7" y1="173.6" x2="1858.3" y2="182.2"/>
<line x1="1858.3" y1="182.2" x2="1860.9" y2="209.3"/>
<line x1="1860.9" y1="209.3" x2="1891.9" y2="215.8"/>
<line x1="1803.6" y1="187.3" x2="1818.3" y2="215.8"/>
<line x1="1891.9" y1="215.8" x2="1891.7" y2="246.2"/>
<line x1="1891.7" y1="246.2" x2="1920.1" y2="253.2"/>
<line x1="1891.7" y1="246.2" x2="1874.4" y2="269.5"/>
<line x1="1818.3" y1="215.8" x2="1803.9" y2="241.8"/>
<line x1="1803.9" y1="241.8" x2="1818.6" y2="267.7"/>
<line x1="1818.6" y1="267.7" x2="1847.8" y2="269.5"/>
<line x1="1847.8" y1="269.5" x2="1862.0" y2="244.9"/>
<line x1="1847.8" y1="269.5" x2="1863.3" y2="292.0"/>
<line x1="1863.3" y1="292.0" x2="1895.6" y2="290.7"/>
<line x1="1863.3" y1="292.0" x2="1848.3" y2="318.1"/>
<line x1="1848.3" y1="318.1" x2="1820.7" y2="316.0"/>
<line x1="1820.7" y1="316.0" x2="1804.6" y2="295.3"/>
<line x1="1804.6" y1="295.3" x2="1818.6" y2="267.7"/>
<line x1="1848.3" y1="318.1" x2="1862.8" y2="345.7"/>
<line x1="1862.8" y1="345.7" x2="1848.3" y2="370.3"/>
<line x1="1683.7" y1="207.0" x2="1695.1" y2="236.7"/>
<line x1="1695.1" y1="236.7" x2="1726.7" y2="241.8"/>
<line x1="1726.7" y1="241.8" x2="1732.4" y2="211.3"/>
<line x1="1726.7" y1="241.8" x2="1758.2" y2="247.0"/>
<line x1="1726.7" y1="241.8" x2="1716.3" y2="270.8"/>
<line x1="1716.3" y1="270.8" x2="1688.7" y2="270.3"/>
<line x1="1688.7" y1="270.3" x2="1672.6" y2="247.5"/>
<line x1="1716.3" y1="270.8" x2="1731.8" y2="288.9"/>
<line x1="1680.7" y1="301.8" x2="1707.8" y2="291.4"/>
<line x1="1707.8" y1="291.4" x2="1728.0" y2="315.2"/>
<line x1="1728.0" y1="315.2" x2="1759.0" y2="310.3"/>
<line x1="1759.0" y1="310.3" x2="1776.5" y2="287.6"/>
<line x1="1776.5" y1="287.6" x2="1804.6" y2="295.3"/>
<line x1="1759.0" y1="310.3" x2="1773.7" y2="335.9"/>
<line x1="1773.7" y1="335.9" x2="1802.1" y2="333.6"/>
<line x1="1773.7" y1="335.9" x2="1762.3" y2="362.0"/>
<line x1="1762.3" y1="362.0" x2="1731.1" y2="362.5"/>
<line x1="1731.1" y1="362.5" x2="1720.2" y2="339.8"/>
<line x1="1720.2" y1="339.8" x2="1728.0" y2="315.2"/>
<line x1="1762.3" y1="362.0" x2="1783.0" y2="381.9"/>
<line x1="1731.1" y1="362.5" x2="1720.2" y2="389.1"/>
<line x1="1720.2" y1="389.1" x2="1691.8" y2="392.7"/>
<line x1="1691.8" y1="392.7" x2="1668.0" y2="375.9"/>
<line x1="1668.0" y1="375.9" x2="1671.6" y2="348.3"/>
<line x1="1668.0" y1="375.9" x2="1640.9" y2="387.1"/>
<line x1="1640.9" y1="387.1" x2="1616.1" y2="370.8"/>
<line x1="1783.0" y1="381.9" x2="1770.3" y2="407.7"/>
<line x1="1770.3" y1="407.7" x2="1741.1" y2="400.7"/>
<line x1="1770.3" y1="407.7" x2="1776.2" y2="431.0"/>
<line x1="1691.8" y1="392.7" x2="1686.6" y2="423.5"/>
<line x1="1686.6" y1="423.5" x2="1660.8" y2="432.2"/>
<line x1="1660.8" y1="432.2" x2="1637.5" y2="417.0"/>
<line x1="1637.5" y1="417.0" x2="1640.9" y2="387.1"/>
<line x1="1637.5" y1="417.0" x2="1611.9" y2="429.7"/>
<line x1="1686.6" y1="423.5" x2="1698.2" y2="451.9"/>
<line x1="1698.2" y1="451.9" x2="1726.7" y2="445.4"/>
<line x1="1605.9" y1="457.6" x2="1627.4" y2="477.5"/>
<line x1="1627.4" y1="477.5" x2="1655.1" y2="469.7"/>
<line x1="1619.1" y1="505.9" x2="1640.9" y2="526.6"/>
<line x1="1640.9" y1="526.6" x2="1668.5" y2="517.0"/>
<line x1="1668.5" y1="517.0" x2="1691.8" y2="539.5"/>
<line x1="1691.8" y1="539.5" x2="1669.3" y2="560.9"/>
<line x1="1691.8" y1="539.5" x2="1715.0" y2="518.8"/>
<line x1="1715.0" y1="518.8" x2="1709.1" y2="492.5"/>
<line x1="1709.1" y1="492.5" x2="1728.0" y2="471.8"/>
<line x1="1728.0" y1="471.8" x2="1756.9" y2="482.9"/>
<line x1="1756.9" y1="482.9" x2="1769.8" y2="456.3"/>
<line x1="1769.8" y1="456.3" x2="1755.1" y2="430.4"/>
<line x1="1769.8" y1="456.3" x2="1799.5" y2="451.1"/>
<line x1="1715.0" y1="518.8" x2="1738.8" y2="524.8"/>
<line x1="1691.8" y1="539.5" x2="1715.8" y2="561.7"/>
<line x1="1740.1" y1="494.3" x2="1768.0" y2="503.6"/>
<line x1="1768.0" y1="503.6" x2="1787.4" y2="481.6"/>
<line x1="1768.0" y1="503.6" x2="1775.2" y2="532.5"/>
<line x1="1775.2" y1="532.5" x2="1751.2" y2="551.9"/>
<line x1="1715.8" y1="561.7" x2="1712.4" y2="596.1"/>
<line x1="1712.4" y1="596.1" x2="1680.9" y2="593.0"/>
<line x1="1712.4" y1="596.1" x2="1742.9" y2="599.5"/>
<line x1="1742.9" y1="599.5" x2="1758.4" y2="577.5"/>
<line x1="1758.4" y1="577.5" x2="1751.2" y2="551.9"/>
<line x1="1742.9" y1="599.5" x2="1753.2" y2="620.9"/>
<line x1="1712.4" y1="596.1" x2="1719.6" y2="626.6"/>
<line x1="1719.6" y1="626.6" x2="1749.4" y2="638.8"/>
<line x1="1749.4" y1="638.8" x2="1779.1" y2="649.4"/>
<line x1="1779.1" y1="649.4" x2="1784.8" y2="680.9"/>
<line x1="1784.8" y1="680.9" x2="1811.1" y2="665.4"/>
<line x1="1811.1" y1="665.4" x2="1815.8" y2="640.8"/>
<line x1="1811.1" y1="665.4" x2="1832.6" y2="682.2"/>
<line x1="1832.6" y1="682.2" x2="1859.7" y2="675.7"/>
<line x1="1859.7" y1="675.7" x2="1885.0" y2="692.5"/>
<line x1="1885.0" y1="692.5" x2="1889.4" y2="722.2"/>
<line x1="1749.4" y1="638.8" x2="1728.4" y2="661.0"/>
<line x1="1728.4" y1="661.0" x2="1703.4" y2="650.6"/>
<line x1="1703.4" y1="650.6" x2="1679.3" y2="665.4"/>
<line x1="1679.3" y1="665.4" x2="1655.6" y2="645.2"/>
<line x1="1655.6" y1="645.2" x2="1669.8" y2="619.4"/>
<line x1="1669.8" y1="619.4" x2="1656.8" y2="593.0"/>
<line x1="1669.8" y1="619.4" x2="1699.5" y2="616.3"/>
<line x1="1728.4" y1="661.0" x2="1736.4" y2="684.0"/>
<line x1="1784.8" y1="680.9" x2="1755.0" y2="691.2"/>
<line x1="1784.8" y1="680.9" x2="1795.9" y2="709.8"/>
<line x1="1749.4" y1="638.8" x2="1765.4" y2="611.9"/>
<line x1="1626.6" y1="598.2" x2="1591.0" y2="596.1"/>
<line x1="1889.4" y1="722.2" x2="1860.2" y2="733.1"/>
<line x1="1889.4" y1="722.2" x2="1908.5" y2="744.2"/>
<line x1="1795.9" y1="709.8" x2="1774.1" y2="735.1"/>
<line x1="1774.1" y1="735.1" x2="1749.1" y2="714.0"/>
<line x1="1774.1" y1="735.1" x2="1753.5" y2="759.7"/>
<line x1="1774.1" y1="735.1" x2="1798.2" y2="755.3"/>
<line x1="1798.2" y1="755.3" x2="1822.0" y2="746.8"/>
<line x1="1798.2" y1="755.3" x2="1807.7" y2="780.4"/>
<line x1="1807.7" y1="780.4" x2="1831.0" y2="795.9"/>
<line x1="1831.0" y1="795.9" x2="1817.6" y2="823.8"/>
<line x1="1817.6" y1="823.8" x2="1837.5" y2="845.5"/>
<line x1="1837.5" y1="845.5" x2="1866.7" y2="837.2"/>
</g>
<g stroke="#dc8a22" stroke-width="2.241" stroke-linecap="round">
<line x1="218.5" y1="175.3" x2="232.2" y2="195.9"/>
<line x1="232.2" y1="195.9" x2="257.8" y2="196.5"/>
<line x1="257.8" y1="196.5" x2="268.3" y2="214.8"/>
<line x1="232.2" y1="195.9" x2="216.7" y2="215.8"/>
<line x1="216.7" y1="215.8" x2="191.9" y2="210.7"/>
<line x1="191.9" y1="210.7" x2="178.4" y2="231.3"/>
<line x1="178.4" y1="231.3" x2="190.8" y2="253.6"/>
<line x1="190.8" y1="253.6" x2="175.8" y2="272.7"/>
<line x1="185.5" y1="373.6" x2="205.9" y2="369.0"/>
<line x1="185.5" y1="373.6" x2="178.3" y2="398.2"/>
<line x1="178.3" y1="398.2" x2="155.0" y2="406.5"/>
<line x1="178.3" y1="398.2" x2="193.0" y2="418.9"/>
<line x1="193.0" y1="418.9" x2="177.0" y2="443.9"/>
<line x1="86.0" y1="394.3" x2="74.9" y2="411.6"/>
<line x1="74.9" y1="411.6" x2="53.5" y2="409.8"/>
<line x1="74.9" y1="411.6" x2="86.0" y2="433.9"/>
<line x1="86.0" y1="433.9" x2="111.9" y2="434.4"/>
<line x1="111.9" y1="434.4" x2="118.9" y2="411.1"/>
<line x1="111.9" y1="434.4" x2="127.1" y2="455.8"/>
<line x1="127.1" y1="455.8" x2="147.3" y2="453.0"/>
<line x1="73.1" y1="463.3" x2="84.5" y2="485.5"/>
<line x1="84.5" y1="485.5" x2="109.3" y2="482.7"/>
<line x1="109.3" y1="482.7" x2="122.2" y2="504.1"/>
<line x1="122.2" y1="504.1" x2="147.3" y2="500.3"/>
<line x1="147.3" y1="500.3" x2="155.0" y2="479.1"/>
<line x1="147.3" y1="500.3" x2="160.2" y2="516.5"/>
<line x1="84.5" y1="485.5" x2="73.1" y2="508.0"/>
<line x1="73.1" y1="508.0" x2="84.0" y2="523.5"/>
<line x1="202.7" y1="598.2" x2="189.3" y2="615.0"/>
<line x1="189.3" y1="615.0" x2="169.4" y2="611.9"/>
<line x1="189.3" y1="615.0" x2="198.3" y2="638.8"/>
<line x1="198.3" y1="638.8" x2="179.7" y2="656.3"/>
<line x1="179.7" y1="656.3" x2="187.4" y2="680.9"/>
<line x1="187.4" y1="680.9" x2="211.2" y2="680.4"/>
<line x1="187.4" y1="680.9" x2="171.9" y2="701.0"/>
<line x1="171.9" y1="701.0" x2="151.8" y2="699.0"/>
</g>
<g stroke="#dc8a22" stroke-width="2.573" stroke-linecap="round">
<line x1="768.9" y1="271.4" x2="791.3" y2="256.7"/>
<line x1="791.3" y1="256.7" x2="813.3" y2="274.8"/>
<line x1="813.3" y1="274.8" x2="803.0" y2="301.1"/>
<line x1="813.3" y1="274.8" x2="841.2" y2="268.0"/>
<line x1="841.2" y1="268.0" x2="849.0" y2="245.6"/>
<line x1="797.8" y1="471.6" x2="819.0" y2="444.4"/>
<line x1="819.0" y1="444.4" x2="845.6" y2="454.8"/>
<line x1="845.6" y1="454.8" x2="864.5" y2="433.3"/>
<line x1="845.6" y1="454.8" x2="852.6" y2="481.9"/>
<line x1="852.6" y1="481.9" x2="875.3" y2="488.9"/>
<line x1="1145.2" y1="395.8" x2="1144.7" y2="419.1"/>
<line x1="1144.7" y1="419.1" x2="1121.4" y2="432.8"/>
<line x1="1144.7" y1="419.1" x2="1169.3" y2="433.3"/>
<line x1="1169.3" y1="433.3" x2="1163.3" y2="462.2"/>
<line x1="1163.3" y1="462.2" x2="1187.9" y2="474.7"/>
<line x1="1163.3" y1="462.2" x2="1137.7" y2="474.7"/>
<line x1="1137.7" y1="474.7" x2="1138.8" y2="497.9"/>
<line x1="1251.4" y1="493.3" x2="1261.5" y2="526.3"/>
<line x1="1261.5" y1="526.3" x2="1237.2" y2="542.6"/>
<line x1="1237.2" y1="542.6" x2="1211.4" y2="532.3"/>
<line x1="1211.4" y1="532.3" x2="1193.0" y2="547.5"/>
<line x1="1237.2" y1="542.6" x2="1243.7" y2="569.5"/>
<line x1="1268.7" y1="587.0" x2="1248.1" y2="607.4"/>
<line x1="1248.1" y1="607.4" x2="1221.7" y2="597.3"/>
<line x1="1248.1" y1="607.4" x2="1254.0" y2="636.6"/>
<line x1="1254.0" y1="636.6" x2="1281.1" y2="641.0"/>
<line x1="1254.0" y1="636.6" x2="1234.4" y2="656.7"/>
<line x1="1234.4" y1="656.7" x2="1210.6" y2="652.8"/>
</g>
<g stroke="#dc8a22" stroke-width="2.573" stroke-linecap="round">
<line x1="1528.7" y1="202.3" x2="1519.4" y2="229.9"/>
<line x1="1519.4" y1="229.9" x2="1488.6" y2="231.5"/>
<line x1="1488.6" y1="231.5" x2="1473.6" y2="263.0"/>
<line x1="1519.4" y1="229.9" x2="1538.2" y2="253.2"/>
<line x1="1538.2" y1="253.2" x2="1562.8" y2="250.1"/>
<line x1="1494.3" y1="288.9" x2="1480.6" y2="309.5"/>
<line x1="1480.6" y1="309.5" x2="1455.0" y2="309.5"/>
<line x1="1480.6" y1="309.5" x2="1495.1" y2="335.4"/>
<line x1="1495.1" y1="335.4" x2="1525.8" y2="333.3"/>
<line x1="1525.8" y1="333.3" x2="1533.6" y2="304.9"/>
<line x1="1525.8" y1="333.3" x2="1545.5" y2="356.0"/>
<line x1="1545.5" y1="356.0" x2="1569.3" y2="351.7"/>
<line x1="1593.0" y1="364.3" x2="1604.7" y2="339.3"/>
<line x1="1604.7" y1="339.3" x2="1634.6" y2="339.3"/>
<line x1="1634.6" y1="339.3" x2="1646.8" y2="360.7"/>
<line x1="1528.4" y1="468.7" x2="1499.0" y2="472.3"/>
<line x1="1499.0" y1="472.3" x2="1492.2" y2="502.0"/>
<line x1="1492.2" y1="502.0" x2="1510.6" y2="518.8"/>
<line x1="1896.4" y1="436.9" x2="1909.8" y2="415.5"/>
<line x1="1909.8" y1="415.5" x2="1935.6" y2="421.4"/>
<line x1="1935.6" y1="421.4" x2="1938.2" y2="448.5"/>
<line x1="1938.2" y1="448.5" x2="1912.4" y2="458.3"/>
<line x1="1912.4" y1="458.3" x2="1896.4" y2="436.9"/>
<line x1="1912.4" y1="458.3" x2="1904.6" y2="486.8"/>
<line x1="1904.6" y1="486.8" x2="1927.9" y2="506.7"/>
<line x1="1927.9" y1="506.7" x2="1957.6" y2="500.2"/>
<line x1="1957.6" y1="500.2" x2="1974.4" y2="517.0"/>
<line x1="1927.9" y1="506.7" x2="1916.8" y2="533.3"/>
</g>
<g fill="#111">
<circle cx="238.3" cy="254.4" r="5.3"/>
<circle cx="286.6" cy="260.1" r="5.3"/>
<circle cx="244.8" cy="317.2" r="5.3"/>
<circle cx="305.0" cy="304.2" r="5.3"/>
<circle cx="282.2" cy="334.5" r="5.3"/>
<circle cx="248.6" cy="384.1" r="5.3"/>
<circle cx="231.8" cy="339.1" r="5.3"/>
<circle cx="344.2" cy="339.1" r="5.3"/>
<circle cx="410.7" cy="383.6" r="5.3"/>
<circle cx="375.8" cy="393.4" r="5.3"/>
<circle cx="317.1" cy="410.2" r="5.3"/>
<circle cx="329.5" cy="386.2" r="5.3"/>
<circle cx="290.8" cy="398.6" r="5.3"/>
<circle cx="255.9" cy="417.7" r="5.3"/>
<circle cx="222.0" cy="468.8" r="5.3"/>
<circle cx="314.5" cy="440.9" r="5.3"/>
<circle cx="332.1" cy="262.6" r="5.3"/>
<circle cx="350.2" cy="296.5" r="5.3"/>
<circle cx="447.1" cy="296.2" r="5.3"/>
<circle cx="437.3" cy="334.5" r="5.3"/>
<circle cx="455.4" cy="373.2" r="5.3"/>
<circle cx="420.0" cy="253.6" r="5.3"/>
<circle cx="463.9" cy="297.8" r="5.3"/>
<circle cx="219.0" cy="175.8" r="5.3"/>
<circle cx="268.8" cy="215.3" r="5.3"/>
<circle cx="176.3" cy="273.2" r="5.3"/>
<circle cx="348.9" cy="151.2" r="5.3"/>
<circle cx="329.6" cy="182.7" r="5.3"/>
<circle cx="308.9" cy="215.3" r="5.3"/>
<circle cx="389.5" cy="230.8" r="5.3"/>
<circle cx="319.8" cy="227.5" r="5.3"/>
<circle cx="206.4" cy="369.5" r="5.3"/>
<circle cx="155.5" cy="407.0" r="5.3"/>
<circle cx="177.5" cy="444.4" r="5.3"/>
<circle cx="86.5" cy="394.8" r="5.3"/>
<circle cx="54.0" cy="410.3" r="5.3"/>
<circle cx="119.4" cy="411.6" r="5.3"/>
<circle cx="147.8" cy="453.5" r="5.3"/>
<circle cx="73.6" cy="463.8" r="5.3"/>
<circle cx="155.5" cy="479.6" r="5.3"/>
<circle cx="160.7" cy="517.0" r="5.3"/>
<circle cx="84.5" cy="524.0" r="5.3"/>
<circle cx="286.5" cy="481.4" r="5.3"/>
<circle cx="238.2" cy="477.0" r="5.3"/>
<circle cx="270.5" cy="495.1" r="5.3"/>
<circle cx="220.7" cy="485.8" r="5.3"/>
<circle cx="218.8" cy="522.2" r="5.3"/>
<circle cx="203.2" cy="598.7" r="5.3"/>
<circle cx="169.9" cy="612.4" r="5.3"/>
<circle cx="211.7" cy="680.9" r="5.3"/>
<circle cx="152.3" cy="699.5" r="5.3"/>
<circle cx="252.5" cy="561.2" r="5.3"/>
<circle cx="295.2" cy="554.0" r="5.3"/>
<circle cx="262.1" cy="574.1" r="5.3"/>
<circle cx="228.5" cy="554.0" r="5.3"/>
<circle cx="287.9" cy="636.7" r="5.3"/>
<circle cx="317.7" cy="601.3" r="5.3"/>
<circle cx="272.4" cy="629.7" r="5.3"/>
<circle cx="267.3" cy="653.5" r="5.3"/>
<circle cx="243.2" cy="656.8" r="5.3"/>
<circle cx="286.6" cy="668.5" r="5.3"/>
<circle cx="306.0" cy="651.7" r="5.3"/>
<circle cx="438.1" cy="570.8" r="5.3"/>
<circle cx="434.7" cy="609.1" r="5.3"/>
<circle cx="413.5" cy="636.2" r="5.3"/>
<circle cx="432.7" cy="632.3" r="5.3"/>
<circle cx="406.3" cy="657.4" r="5.3"/>
<circle cx="384.4" cy="663.3" r="5.3"/>
<circle cx="383.1" cy="688.9" r="5.3"/>
<circle cx="359.0" cy="694.1" r="5.3"/>
<circle cx="345.6" cy="672.9" r="5.3"/>
<circle cx="344.8" cy="713.5" r="5.3"/>
<circle cx="345.6" cy="654.8" r="5.3"/>
<circle cx="360.3" cy="668.3" r="5.3"/>
<circle cx="324.9" cy="663.3" r="5.3"/>
<circle cx="423.1" cy="651.5" r="5.3"/>
<circle cx="447.7" cy="647.1" r="5.3"/>
<circle cx="318.3" cy="480.9" r="5.3"/>
<circle cx="309.3" cy="519.6" r="5.3"/>
<circle cx="341.6" cy="500.8" r="5.3"/>
<circle cx="397.9" cy="477.0" r="5.3"/>
<circle cx="393.8" cy="498.2" r="5.3"/>
<circle cx="423.5" cy="518.9" r="5.3"/>
<circle cx="485.7" cy="547.3" r="5.3"/>
<circle cx="510.0" cy="543.4" r="5.3"/>
<circle cx="481.1" cy="571.8" r="5.3"/>
<circle cx="446.2" cy="552.5" r="5.3"/>
<circle cx="448.3" cy="591.2" r="5.3"/>
<circle cx="455.3" cy="624.3" r="5.3"/>
<circle cx="459.8" cy="666.2" r="5.3"/>
<circle cx="938.4" cy="210.6" r="5.9"/>
<circle cx="769.4" cy="271.9" r="5.9"/>
<circle cx="803.5" cy="301.6" r="5.9"/>
<circle cx="849.5" cy="246.1" r="5.9"/>
<circle cx="913.8" cy="279.6" r="5.9"/>
<circle cx="910.7" cy="321.8" r="5.9"/>
<circle cx="950.8" cy="234.4" r="5.9"/>
<circle cx="989.5" cy="216.3" r="5.9"/>
<circle cx="877.1" cy="293.3" r="5.9"/>
<circle cx="859.0" cy="331.3" r="5.9"/>
<circle cx="839.1" cy="401.1" r="5.9"/>
<circle cx="895.2" cy="404.2" r="5.9"/>
<circle cx="925.7" cy="357.2" r="5.9"/>
<circle cx="915.9" cy="399.8" r="5.9"/>
<circle cx="983.8" cy="374.5" r="5.9"/>
<circle cx="798.3" cy="472.1" r="5.9"/>
<circle cx="865.0" cy="433.8" r="5.9"/>
<circle cx="875.8" cy="489.4" r="5.9"/>
<circle cx="901.7" cy="473.3" r="5.9"/>
<circle cx="946.4" cy="464.3" r="5.9"/>
<circle cx="992.1" cy="457.1" r="5.9"/>
<circle cx="1009.7" cy="420.1" r="5.9"/>
<circle cx="991.3" cy="430.4" r="5.9"/>
<circle cx="955.4" cy="519.6" r="5.9"/>
<circle cx="1008.9" cy="537.2" r="5.9"/>
<circle cx="1047.7" cy="499.2" r="5.9"/>
<circle cx="837.1" cy="537.2" r="5.9"/>
<circle cx="857.7" cy="555.3" r="5.9"/>
<circle cx="882.3" cy="543.1" r="5.9"/>
<circle cx="901.1" cy="547.0" r="5.9"/>
<circle cx="965.7" cy="574.6" r="5.9"/>
<circle cx="1004.5" cy="582.4" r="5.9"/>
<circle cx="989.5" cy="528.9" r="5.9"/>
<circle cx="1030.3" cy="537.7" r="5.9"/>
<circle cx="892.6" cy="620.8" r="5.9"/>
<circle cx="928.3" cy="598.3" r="5.9"/>
<circle cx="899.6" cy="700.9" r="5.9"/>
<circle cx="892.6" cy="722.9" r="5.9"/>
<circle cx="879.7" cy="684.9" r="5.9"/>
<circle cx="854.4" cy="686.2" r="5.9"/>
<circle cx="847.4" cy="657.7" r="5.9"/>
<circle cx="872.7" cy="646.1" r="5.9"/>
<circle cx="872.7" cy="618.2" r="5.9"/>
<circle cx="899.6" cy="655.7" r="5.9"/>
<circle cx="1039.4" cy="667.6" r="5.9"/>
<circle cx="1042.5" cy="737.1" r="5.9"/>
<circle cx="1034.0" cy="759.3" r="5.9"/>
<circle cx="962.4" cy="756.4" r="5.9"/>
<circle cx="941.2" cy="764.5" r="5.9"/>
<circle cx="981.8" cy="772.2" r="5.9"/>
<circle cx="1008.1" cy="767.6" r="5.9"/>
<circle cx="1036.8" cy="607.9" r="5.9"/>
<circle cx="1023.4" cy="793.3" r="5.9"/>
<circle cx="1049.2" cy="782.9" r="5.9"/>
<circle cx="1061.6" cy="758.4" r="5.9"/>
<circle cx="1069.4" cy="803.3" r="5.9"/>
<circle cx="1066.8" cy="735.1" r="5.9"/>
<circle cx="1075.1" cy="709.8" r="5.9"/>
<circle cx="1057.9" cy="201.0" r="5.9"/>
<circle cx="1047.8" cy="223.3" r="5.9"/>
<circle cx="1078.0" cy="252.5" r="5.9"/>
<circle cx="1125.0" cy="301.6" r="5.9"/>
<circle cx="1097.4" cy="295.7" r="5.9"/>
<circle cx="1098.2" cy="338.6" r="5.9"/>
<circle cx="1133.1" cy="367.0" r="5.9"/>
<circle cx="1074.9" cy="386.1" r="5.9"/>
<circle cx="1043.7" cy="412.7" r="5.9"/>
<circle cx="1145.7" cy="396.3" r="5.9"/>
<circle cx="1121.9" cy="433.3" r="5.9"/>
<circle cx="1188.4" cy="475.2" r="5.9"/>
<circle cx="1139.3" cy="498.4" r="5.9"/>
<circle cx="1251.9" cy="493.8" r="5.9"/>
<circle cx="1193.5" cy="548.0" r="5.9"/>
<circle cx="1244.2" cy="570.0" r="5.9"/>
<circle cx="1076.7" cy="472.1" r="5.9"/>
<circle cx="1101.8" cy="540.3" r="5.9"/>
<circle cx="1069.8" cy="510.8" r="5.9"/>
<circle cx="1088.4" cy="588.3" r="5.9"/>
<circle cx="1281.6" cy="641.5" r="5.9"/>
<circle cx="1211.1" cy="653.3" r="5.9"/>
<circle cx="1082.4" cy="610.4" r="5.9"/>
<circle cx="1127.1" cy="573.2" r="5.9"/>
<circle cx="1090.4" cy="687.5" r="5.9"/>
<circle cx="1094.0" cy="733.2" r="5.9"/>
<circle cx="1116.8" cy="715.9" r="5.9"/>
<circle cx="1120.7" cy="688.7" r="5.9"/>
<circle cx="1142.1" cy="728.8" r="5.9"/>
<circle cx="1529.2" cy="202.8" r="5.9"/>
<circle cx="1474.1" cy="263.5" r="5.9"/>
<circle cx="1563.3" cy="250.6" r="5.9"/>
<circle cx="1494.8" cy="289.4" r="5.9"/>
<circle cx="1455.5" cy="310.0" r="5.9"/>
<circle cx="1534.1" cy="305.4" r="5.9"/>
<circle cx="1569.8" cy="352.2" r="5.9"/>
<circle cx="1593.5" cy="364.8" r="5.9"/>
<circle cx="1647.3" cy="361.2" r="5.9"/>
<circle cx="1637.7" cy="199.4" r="5.9"/>
<circle cx="1595.6" cy="204.1" r="5.9"/>
<circle cx="1569.8" cy="219.1" r="5.9"/>
<circle cx="1618.8" cy="222.7" r="5.9"/>
<circle cx="1651.9" cy="242.9" r="5.9"/>
<circle cx="1643.4" cy="295.3" r="5.9"/>
<circle cx="1528.9" cy="469.2" r="5.9"/>
<circle cx="1511.1" cy="519.3" r="5.9"/>
<circle cx="1589.1" cy="429.6" r="5.9"/>
<circle cx="1612.4" cy="430.2" r="5.9"/>
<circle cx="1571.0" cy="494.2" r="5.9"/>
<circle cx="1569.0" cy="521.4" r="5.9"/>
<circle cx="1592.2" cy="541.8" r="5.9"/>
<circle cx="1540.0" cy="590.9" r="5.9"/>
<circle cx="1627.1" cy="598.7" r="5.9"/>
<circle cx="1593.0" cy="646.0" r="5.9"/>
<circle cx="1640.5" cy="55.3" r="5.9"/>
<circle cx="1663.0" cy="72.1" r="5.9"/>
<circle cx="1692.2" cy="67.2" r="5.9"/>
<circle cx="1698.6" cy="97.4" r="5.9"/>
<circle cx="1674.9" cy="111.6" r="5.9"/>
<circle cx="1655.2" cy="100.0" r="5.9"/>
<circle cx="1676.7" cy="138.0" r="5.9"/>
<circle cx="1652.1" cy="143.4" r="5.9"/>
<circle cx="1764.5" cy="121.2" r="5.9"/>
<circle cx="1746.4" cy="104.4" r="5.9"/>
<circle cx="1791.7" cy="117.6" r="5.9"/>
<circle cx="1811.0" cy="137.5" r="5.9"/>
<circle cx="1833.0" cy="116.8" r="5.9"/>
<circle cx="1863.2" cy="107.7" r="5.9"/>
<circle cx="1872.5" cy="80.6" r="5.9"/>
<circle cx="1886.0" cy="127.1" r="5.9"/>
<circle cx="1832.2" cy="174.1" r="5.9"/>
<circle cx="1831.2" cy="148.6" r="5.9"/>
<circle cx="1858.8" cy="182.7" r="5.9"/>
<circle cx="1861.4" cy="209.8" r="5.9"/>
<circle cx="1892.4" cy="216.3" r="5.9"/>
<circle cx="1892.2" cy="246.7" r="5.9"/>
<circle cx="1920.6" cy="253.7" r="5.9"/>
<circle cx="1874.9" cy="270.0" r="5.9"/>
<circle cx="1804.4" cy="242.3" r="5.9"/>
<circle cx="1862.5" cy="245.4" r="5.9"/>
<circle cx="1821.2" cy="316.5" r="5.9"/>
<circle cx="1848.8" cy="370.8" r="5.9"/>
<circle cx="1689.2" cy="270.8" r="5.9"/>
<circle cx="1732.3" cy="289.4" r="5.9"/>
<circle cx="1681.2" cy="302.3" r="5.9"/>
<circle cx="1777.0" cy="288.1" r="5.9"/>
<circle cx="1802.6" cy="334.1" r="5.9"/>
<circle cx="1720.7" cy="340.3" r="5.9"/>
<circle cx="1783.5" cy="382.4" r="5.9"/>
<circle cx="1720.7" cy="389.6" r="5.9"/>
<circle cx="1672.1" cy="348.8" r="5.9"/>
<circle cx="1616.6" cy="371.3" r="5.9"/>
<circle cx="1896.9" cy="437.4" r="5.9"/>
<circle cx="1936.1" cy="421.9" r="5.9"/>
<circle cx="1974.9" cy="517.5" r="5.9"/>
<circle cx="1917.3" cy="533.8" r="5.9"/>
<circle cx="1776.7" cy="431.5" r="5.9"/>
<circle cx="1661.3" cy="432.7" r="5.9"/>
<circle cx="1727.2" cy="445.9" r="5.9"/>
<circle cx="1655.6" cy="470.2" r="5.9"/>
<circle cx="1641.4" cy="527.1" r="5.9"/>
<circle cx="1709.6" cy="493.0" r="5.9"/>
<circle cx="1770.3" cy="456.8" r="5.9"/>
<circle cx="1739.3" cy="525.3" r="5.9"/>
<circle cx="1768.5" cy="504.1" r="5.9"/>
<circle cx="1758.9" cy="578.0" r="5.9"/>
<circle cx="1753.7" cy="621.4" r="5.9"/>
<circle cx="1816.3" cy="641.3" r="5.9"/>
<circle cx="1833.1" cy="682.7" r="5.9"/>
<circle cx="1889.9" cy="722.7" r="5.9"/>
<circle cx="1703.9" cy="651.1" r="5.9"/>
<circle cx="1670.3" cy="619.9" r="5.9"/>
<circle cx="1736.9" cy="684.5" r="5.9"/>
<circle cx="1822.5" cy="747.3" r="5.9"/>
<circle cx="1808.2" cy="780.9" r="5.9"/>
<circle cx="1838.0" cy="846.0" r="5.9"/>
</g>
<g fill="#0d0d0d">
<circle cx="248.1" cy="275.8" r="5.4"/>
<circle cx="272.2" cy="278.4" r="5.4"/>
<circle cx="234.4" cy="296.0" r="5.4"/>
<circle cx="209.4" cy="294.4" r="5.4"/>
<circle cx="266.2" cy="319.8" r="5.4"/>
<circle cx="281.7" cy="301.2" r="5.4"/>
<circle cx="303.2" cy="327.5" r="5.4"/>
<circle cx="274.5" cy="355.2" r="5.4"/>
<circle cx="249.9" cy="359.8" r="5.4"/>
<circle cx="254.1" cy="342.5" r="5.4"/>
<circle cx="289.5" cy="374.0" r="5.4"/>
<circle cx="313.5" cy="368.9" r="5.4"/>
<circle cx="320.5" cy="345.6" r="5.4"/>
<circle cx="358.7" cy="359.0" r="5.4"/>
<circle cx="384.6" cy="352.1" r="5.4"/>
<circle cx="378.1" cy="325.7" r="5.4"/>
<circle cx="407.8" cy="335.8" r="5.4"/>
<circle cx="409.1" cy="309.9" r="5.4"/>
<circle cx="391.0" cy="376.6" r="5.4"/>
<circle cx="352.8" cy="390.1" r="5.4"/>
<circle cx="340.6" cy="412.0" r="5.4"/>
<circle cx="305.0" cy="388.8" r="5.4"/>
<circle cx="301.1" cy="428.3" r="5.4"/>
<circle cx="277.9" cy="418.0" r="5.4"/>
<circle cx="241.7" cy="434.8" r="5.4"/>
<circle cx="218.9" cy="445.1" r="5.4"/>
<circle cx="252.0" cy="456.7" r="5.4"/>
<circle cx="276.0" cy="458.8" r="5.4"/>
<circle cx="289.5" cy="440.4" r="5.4"/>
<circle cx="314.0" cy="275.8" r="5.4"/>
<circle cx="326.2" cy="298.3" r="5.4"/>
<circle cx="358.0" cy="272.7" r="5.4"/>
<circle cx="368.3" cy="311.2" r="5.4"/>
<circle cx="385.6" cy="269.4" r="5.4"/>
<circle cx="372.7" cy="291.3" r="5.4"/>
<circle cx="407.8" cy="283.1" r="5.4"/>
<circle cx="383.8" cy="307.4" r="5.4"/>
<circle cx="364.4" cy="255.2" r="5.4"/>
<circle cx="434.2" cy="312.0" r="5.4"/>
<circle cx="422.6" cy="352.6" r="5.4"/>
<circle cx="431.1" cy="376.6" r="5.4"/>
<circle cx="466.5" cy="350.8" r="5.4"/>
<circle cx="472.4" cy="390.8" r="5.4"/>
<circle cx="430.3" cy="273.3" r="5.4"/>
<circle cx="454.9" cy="274.5" r="5.4"/>
<circle cx="487.2" cy="303.7" r="5.4"/>
<circle cx="449.7" cy="317.2" r="5.4"/>
<circle cx="232.2" cy="195.9" r="5.4"/>
<circle cx="257.8" cy="196.5" r="5.4"/>
<circle cx="216.7" cy="215.8" r="5.4"/>
<circle cx="191.9" cy="210.7" r="5.4"/>
<circle cx="178.4" cy="231.3" r="5.4"/>
<circle cx="190.8" cy="253.6" r="5.4"/>
<circle cx="348.4" cy="171.4" r="5.4"/>
<circle cx="308.4" cy="172.7" r="5.4"/>
<circle cx="294.7" cy="194.1" r="5.4"/>
<circle cx="332.2" cy="214.8" r="5.4"/>
<circle cx="299.1" cy="237.3" r="5.4"/>
<circle cx="370.4" cy="183.8" r="5.4"/>
<circle cx="387.7" cy="163.1" r="5.4"/>
<circle cx="391.1" cy="201.1" r="5.4"/>
<circle cx="354.1" cy="205.0" r="5.4"/>
<circle cx="358.5" cy="230.8" r="5.4"/>
<circle cx="383.9" cy="225.1" r="5.4"/>
<circle cx="398.6" cy="248.1" r="5.4"/>
<circle cx="335.3" cy="239.4" r="5.4"/>
<circle cx="185.5" cy="373.6" r="5.4"/>
<circle cx="178.3" cy="398.2" r="5.4"/>
<circle cx="193.0" cy="418.9" r="5.4"/>
<circle cx="74.9" cy="411.6" r="5.4"/>
<circle cx="86.0" cy="433.9" r="5.4"/>
<circle cx="111.9" cy="434.4" r="5.4"/>
<circle cx="127.1" cy="455.8" r="5.4"/>
<circle cx="84.5" cy="485.5" r="5.4"/>
<circle cx="109.3" cy="482.7" r="5.4"/>
<circle cx="122.2" cy="504.1" r="5.4"/>
<circle cx="147.3" cy="500.3" r="5.4"/>
<circle cx="73.1" cy="508.0" r="5.4"/>
<circle cx="249.4" cy="497.7" r="5.4"/>
<circle cx="286.8" cy="508.0" r="5.4"/>
<circle cx="208.0" cy="502.8" r="5.4"/>
<circle cx="184.0" cy="499.5" r="5.4"/>
<circle cx="241.6" cy="520.9" r="5.4"/>
<circle cx="189.3" cy="615.0" r="5.4"/>
<circle cx="198.3" cy="638.8" r="5.4"/>
<circle cx="179.7" cy="656.3" r="5.4"/>
<circle cx="187.4" cy="680.9" r="5.4"/>
<circle cx="171.9" cy="701.0" r="5.4"/>
<circle cx="259.0" cy="537.5" r="5.4"/>
<circle cx="281.8" cy="533.6" r="5.4"/>
<circle cx="282.8" cy="573.6" r="5.4"/>
<circle cx="245.6" cy="589.7" r="5.4"/>
<circle cx="255.9" cy="612.9" r="5.4"/>
<circle cx="277.9" cy="614.5" r="5.4"/>
<circle cx="293.9" cy="596.9" r="5.4"/>
<circle cx="224.1" cy="576.7" r="5.4"/>
<circle cx="241.4" cy="633.9" r="5.4"/>
<circle cx="323.6" cy="623.8" r="5.4"/>
<circle cx="349.5" cy="628.5" r="5.4"/>
<circle cx="354.7" cy="601.3" r="5.4"/>
<circle cx="377.4" cy="633.6" r="5.4"/>
<circle cx="396.8" cy="616.3" r="5.4"/>
<circle cx="380.0" cy="596.7" r="5.4"/>
<circle cx="416.1" cy="600.1" r="5.4"/>
<circle cx="413.0" cy="573.4" r="5.4"/>
<circle cx="388.2" cy="576.8" r="5.4"/>
<circle cx="311.3" cy="503.6" r="5.4"/>
<circle cx="328.9" cy="518.6" r="5.4"/>
<circle cx="364.3" cy="501.1" r="5.4"/>
<circle cx="373.4" cy="477.3" r="5.4"/>
<circle cx="411.6" cy="456.4" r="5.4"/>
<circle cx="411.6" cy="497.2" r="5.4"/>
<circle cx="342.4" cy="539.8" r="5.4"/>
<circle cx="321.2" cy="554.0" r="5.4"/>
<circle cx="356.6" cy="561.3" r="5.4"/>
<circle cx="363.5" cy="525.1" r="5.4"/>
<circle cx="386.8" cy="535.9" r="5.4"/>
<circle cx="401.3" cy="515.8" r="5.4"/>
<circle cx="440.5" cy="532.8" r="5.4"/>
<circle cx="465.6" cy="531.6" r="5.4"/>
<circle cx="375.9" cy="560.0" r="5.4"/>
<circle cx="410.3" cy="547.6" r="5.4"/>
</g>
<g fill="#0d0d0d">
<circle cx="929.1" cy="183.2" r="6.2"/>
<circle cx="965.8" cy="211.7" r="6.2"/>
<circle cx="917.2" cy="229.0" r="6.2"/>
<circle cx="928.3" cy="253.5" r="6.2"/>
<circle cx="791.3" cy="256.7" r="6.2"/>
<circle cx="813.3" cy="274.8" r="6.2"/>
<circle cx="841.2" cy="268.0" r="6.2"/>
<circle cx="924.4" cy="302.9" r="6.2"/>
<circle cx="953.4" cy="306.3" r="6.2"/>
<circle cx="983.9" cy="309.6" r="6.2"/>
<circle cx="950.3" cy="336.8" r="6.2"/>
<circle cx="956.7" cy="274.8" r="6.2"/>
<circle cx="984.6" cy="263.1" r="6.2"/>
<circle cx="1012.3" cy="251.2" r="6.2"/>
<circle cx="1036.8" cy="268.8" r="6.2"/>
<circle cx="1020.0" cy="292.8" r="6.2"/>
<circle cx="996.0" cy="290.3" r="6.2"/>
<circle cx="973.5" cy="236.5" r="6.2"/>
<circle cx="1014.9" cy="221.8" r="6.2"/>
<circle cx="1029.8" cy="196.5" r="6.2"/>
<circle cx="899.9" cy="306.3" r="6.2"/>
<circle cx="884.4" cy="331.3" r="6.2"/>
<circle cx="843.0" cy="352.0" r="6.2"/>
<circle cx="814.1" cy="349.4" r="6.2"/>
<circle cx="854.7" cy="377.9" r="6.2"/>
<circle cx="882.6" cy="379.4" r="6.2"/>
<circle cx="898.1" cy="356.1" r="6.2"/>
<circle cx="934.8" cy="383.0" r="6.2"/>
<circle cx="961.4" cy="392.3" r="6.2"/>
<circle cx="1008.4" cy="387.2" r="6.2"/>
<circle cx="1031.7" cy="367.0" r="6.2"/>
<circle cx="1012.3" cy="343.7" r="6.2"/>
<circle cx="819.0" cy="444.4" r="6.2"/>
<circle cx="845.6" cy="454.8" r="6.2"/>
<circle cx="852.6" cy="481.9" r="6.2"/>
<circle cx="918.0" cy="425.0" r="6.2"/>
<circle cx="897.8" cy="446.2" r="6.2"/>
<circle cx="943.0" cy="437.2" r="6.2"/>
<circle cx="971.7" cy="473.9" r="6.2"/>
<circle cx="1016.1" cy="463.5" r="6.2"/>
<circle cx="1029.1" cy="437.7" r="6.2"/>
<circle cx="965.8" cy="420.4" r="6.2"/>
<circle cx="976.1" cy="501.3" r="6.2"/>
<circle cx="1002.7" cy="510.3" r="6.2"/>
<circle cx="1022.6" cy="490.9" r="6.2"/>
<circle cx="854.1" cy="583.2" r="6.2"/>
<circle cx="879.2" cy="594.8" r="6.2"/>
<circle cx="885.1" cy="522.5" r="6.2"/>
<circle cx="883.6" cy="568.4" r="6.2"/>
<circle cx="928.3" cy="546.5" r="6.2"/>
<circle cx="938.6" cy="574.1" r="6.2"/>
<circle cx="983.3" cy="590.9" r="6.2"/>
<circle cx="992.9" cy="556.0" r="6.2"/>
<circle cx="1021.3" cy="559.9" r="6.2"/>
<circle cx="1042.0" cy="580.6" r="6.2"/>
<circle cx="918.0" cy="618.5" r="6.2"/>
<circle cx="934.0" cy="642.2" r="6.2"/>
<circle cx="951.6" cy="618.5" r="6.2"/>
<circle cx="980.7" cy="620.3" r="6.2"/>
<circle cx="1011.0" cy="622.9" r="6.2"/>
<circle cx="978.7" cy="650.3" r="6.2"/>
<circle cx="958.0" cy="659.8" r="6.2"/>
<circle cx="916.7" cy="666.8" r="6.2"/>
<circle cx="927.8" cy="694.7" r="6.2"/>
<circle cx="954.9" cy="683.1" r="6.2"/>
<circle cx="938.6" cy="721.8" r="6.2"/>
<circle cx="967.8" cy="727.8" r="6.2"/>
<circle cx="974.0" cy="698.6" r="6.2"/>
<circle cx="997.5" cy="734.0" r="6.2"/>
<circle cx="1021.8" cy="714.1" r="6.2"/>
<circle cx="1002.7" cy="690.3" r="6.2"/>
<circle cx="1045.9" cy="694.7" r="6.2"/>
<circle cx="1073.1" cy="177.8" r="6.2"/>
<circle cx="1074.4" cy="223.3" r="6.2"/>
<circle cx="1053.0" cy="245.6" r="6.2"/>
<circle cx="1087.9" cy="276.0" r="6.2"/>
<circle cx="1116.8" cy="274.0" r="6.2"/>
<circle cx="1149.1" cy="314.8" r="6.2"/>
<circle cx="1103.4" cy="320.0" r="6.2"/>
<circle cx="1061.2" cy="286.1" r="6.2"/>
<circle cx="1056.1" cy="316.1" r="6.2"/>
<circle cx="1025.8" cy="316.1" r="6.2"/>
<circle cx="1084.8" cy="316.1" r="6.2"/>
<circle cx="1087.9" cy="361.8" r="6.2"/>
<circle cx="1109.0" cy="382.5" r="6.2"/>
<circle cx="1127.9" cy="338.1" r="6.2"/>
<circle cx="1160.2" cy="372.2" r="6.2"/>
<circle cx="1056.1" cy="346.3" r="6.2"/>
<circle cx="1051.2" cy="389.5" r="6.2"/>
<circle cx="1144.7" cy="419.1" r="6.2"/>
<circle cx="1169.3" cy="433.3" r="6.2"/>
<circle cx="1163.3" cy="462.2" r="6.2"/>
<circle cx="1137.7" cy="474.7" r="6.2"/>
<circle cx="1261.5" cy="526.3" r="6.2"/>
<circle cx="1237.2" cy="542.6" r="6.2"/>
<circle cx="1211.4" cy="532.3" r="6.2"/>
<circle cx="1062.0" cy="432.0" r="6.2"/>
<circle cx="1050.9" cy="459.1" r="6.2"/>
<circle cx="1094.8" cy="450.9" r="6.2"/>
<circle cx="1089.1" cy="496.1" r="6.2"/>
<circle cx="1050.9" cy="525.6" r="6.2"/>
<circle cx="1067.2" cy="569.7" r="6.2"/>
<circle cx="1074.4" cy="544.4" r="6.2"/>
<circle cx="1092.2" cy="514.7" r="6.2"/>
<circle cx="1111.1" cy="493.3" r="6.2"/>
<circle cx="1268.7" cy="587.0" r="6.2"/>
<circle cx="1248.1" cy="607.4" r="6.2"/>
<circle cx="1221.7" cy="597.3" r="6.2"/>
<circle cx="1254.0" cy="636.6" r="6.2"/>
<circle cx="1234.4" cy="656.7" r="6.2"/>
<circle cx="1060.7" cy="621.1" r="6.2"/>
<circle cx="1106.7" cy="617.7" r="6.2"/>
<circle cx="1129.2" cy="599.6" r="6.2"/>
<circle cx="1109.3" cy="646.9" r="6.2"/>
<circle cx="1135.1" cy="659.8" r="6.2"/>
<circle cx="1087.3" cy="659.8" r="6.2"/>
<circle cx="1061.5" cy="650.8" r="6.2"/>
</g>
<g fill="#0d0d0d">
<circle cx="1519.4" cy="229.9" r="6.2"/>
<circle cx="1488.6" cy="231.5" r="6.2"/>
<circle cx="1538.2" cy="253.2" r="6.2"/>
<circle cx="1480.6" cy="309.5" r="6.2"/>
<circle cx="1495.1" cy="335.4" r="6.2"/>
<circle cx="1525.8" cy="333.3" r="6.2"/>
<circle cx="1545.5" cy="356.0" r="6.2"/>
<circle cx="1604.7" cy="339.3" r="6.2"/>
<circle cx="1634.6" cy="339.3" r="6.2"/>
<circle cx="1602.8" cy="175.7" r="6.2"/>
<circle cx="1633.3" cy="171.3" r="6.2"/>
<circle cx="1655.8" cy="218.3" r="6.2"/>
<circle cx="1683.7" cy="207.0" r="6.2"/>
<circle cx="1677.0" cy="176.5" r="6.2"/>
<circle cx="1672.6" cy="247.5" r="6.2"/>
<circle cx="1646.8" cy="265.1" r="6.2"/>
<circle cx="1614.5" cy="303.1" r="6.2"/>
<circle cx="1661.0" cy="318.1" r="6.2"/>
<circle cx="1499.0" cy="472.3" r="6.2"/>
<circle cx="1492.2" cy="502.0" r="6.2"/>
<circle cx="1562.3" cy="439.5" r="6.2"/>
<circle cx="1577.0" cy="466.6" r="6.2"/>
<circle cx="1605.9" cy="457.6" r="6.2"/>
<circle cx="1627.4" cy="477.5" r="6.2"/>
<circle cx="1619.1" cy="505.9" r="6.2"/>
<circle cx="1589.9" cy="512.6" r="6.2"/>
<circle cx="1544.7" cy="538.4" r="6.2"/>
<circle cx="1584.2" cy="569.3" r="6.2"/>
<circle cx="1554.3" cy="567.7" r="6.2"/>
<circle cx="1549.9" cy="616.3" r="6.2"/>
<circle cx="1580.1" cy="619.6" r="6.2"/>
<circle cx="1597.7" cy="596.1" r="6.2"/>
<circle cx="1531.0" cy="640.8" r="6.2"/>
<circle cx="1700.7" cy="155.8" r="6.2"/>
<circle cx="1727.1" cy="138.2" r="6.2"/>
<circle cx="1756.8" cy="150.4" r="6.2"/>
<circle cx="1788.1" cy="157.1" r="6.2"/>
<circle cx="1803.6" cy="187.3" r="6.2"/>
<circle cx="1774.9" cy="200.8" r="6.2"/>
<circle cx="1713.1" cy="195.9" r="6.2"/>
<circle cx="1722.2" cy="177.5" r="6.2"/>
<circle cx="1750.3" cy="180.9" r="6.2"/>
<circle cx="1818.3" cy="215.8" r="6.2"/>
<circle cx="1818.6" cy="267.7" r="6.2"/>
<circle cx="1847.8" cy="269.5" r="6.2"/>
<circle cx="1863.3" cy="292.0" r="6.2"/>
<circle cx="1895.6" cy="290.7" r="6.2"/>
<circle cx="1848.3" cy="318.1" r="6.2"/>
<circle cx="1804.6" cy="295.3" r="6.2"/>
<circle cx="1862.8" cy="345.7" r="6.2"/>
<circle cx="1695.1" cy="236.7" r="6.2"/>
<circle cx="1726.7" cy="241.8" r="6.2"/>
<circle cx="1732.4" cy="211.3" r="6.2"/>
<circle cx="1758.2" cy="247.0" r="6.2"/>
<circle cx="1716.3" cy="270.8" r="6.2"/>
<circle cx="1707.8" cy="291.4" r="6.2"/>
<circle cx="1728.0" cy="315.2" r="6.2"/>
<circle cx="1759.0" cy="310.3" r="6.2"/>
<circle cx="1773.7" cy="335.9" r="6.2"/>
<circle cx="1762.3" cy="362.0" r="6.2"/>
<circle cx="1731.1" cy="362.5" r="6.2"/>
<circle cx="1691.8" cy="392.7" r="6.2"/>
<circle cx="1668.0" cy="375.9" r="6.2"/>
<circle cx="1640.9" cy="387.1" r="6.2"/>
<circle cx="1909.8" cy="415.5" r="6.2"/>
<circle cx="1938.2" cy="448.5" r="6.2"/>
<circle cx="1912.4" cy="458.3" r="6.2"/>
<circle cx="1904.6" cy="486.8" r="6.2"/>
<circle cx="1927.9" cy="506.7" r="6.2"/>
<circle cx="1957.6" cy="500.2" r="6.2"/>
<circle cx="1770.3" cy="407.7" r="6.2"/>
<circle cx="1741.1" cy="400.7" r="6.2"/>
<circle cx="1686.6" cy="423.5" r="6.2"/>
<circle cx="1637.5" cy="417.0" r="6.2"/>
<circle cx="1698.2" cy="451.9" r="6.2"/>
<circle cx="1668.5" cy="517.0" r="6.2"/>
<circle cx="1691.8" cy="539.5" r="6.2"/>
<circle cx="1669.3" cy="560.9" r="6.2"/>
<circle cx="1715.0" cy="518.8" r="6.2"/>
<circle cx="1728.0" cy="471.8" r="6.2"/>
<circle cx="1756.9" cy="482.9" r="6.2"/>
<circle cx="1755.1" cy="430.4" r="6.2"/>
<circle cx="1799.5" cy="451.1" r="6.2"/>
<circle cx="1715.8" cy="561.7" r="6.2"/>
<circle cx="1740.1" cy="494.3" r="6.2"/>
<circle cx="1787.4" cy="481.6" r="6.2"/>
<circle cx="1775.2" cy="532.5" r="6.2"/>
<circle cx="1751.2" cy="551.9" r="6.2"/>
<circle cx="1712.4" cy="596.1" r="6.2"/>
<circle cx="1680.9" cy="593.0" r="6.2"/>
<circle cx="1742.9" cy="599.5" r="6.2"/>
<circle cx="1719.6" cy="626.6" r="6.2"/>
<circle cx="1749.4" cy="638.8" r="6.2"/>
<circle cx="1779.1" cy="649.4" r="6.2"/>
<circle cx="1784.8" cy="680.9" r="6.2"/>
<circle cx="1811.1" cy="665.4" r="6.2"/>
<circle cx="1859.7" cy="675.7" r="6.2"/>
<circle cx="1885.0" cy="692.5" r="6.2"/>
<circle cx="1728.4" cy="661.0" r="6.2"/>
<circle cx="1679.3" cy="665.4" r="6.2"/>
<circle cx="1655.6" cy="645.2" r="6.2"/>
<circle cx="1656.8" cy="593.0" r="6.2"/>
<circle cx="1699.5" cy="616.3" r="6.2"/>
<circle cx="1755.0" cy="691.2" r="6.2"/>
<circle cx="1795.9" cy="709.8" r="6.2"/>
<circle cx="1765.4" cy="611.9" r="6.2"/>
<circle cx="1591.0" cy="596.1" r="6.2"/>
<circle cx="1860.2" cy="733.1" r="6.2"/>
<circle cx="1908.5" cy="744.2" r="6.2"/>
<circle cx="1774.1" cy="735.1" r="6.2"/>
<circle cx="1749.1" cy="714.0" r="6.2"/>
<circle cx="1753.5" cy="759.7" r="6.2"/>
<circle cx="1798.2" cy="755.3" r="6.2"/>
<circle cx="1831.0" cy="795.9" r="6.2"/>
<circle cx="1817.6" cy="823.8" r="6.2"/>
<circle cx="1866.7" cy="837.2" r="6.2"/>
</g>
<g fill="#3358b8">
<circle cx="237.8" cy="253.9" r="5.3"/>
<circle cx="343.7" cy="338.6" r="5.3"/>
<circle cx="316.6" cy="409.7" r="5.3"/>
<circle cx="314.0" cy="440.4" r="5.3"/>
<circle cx="349.7" cy="296.0" r="5.3"/>
<circle cx="454.9" cy="372.7" r="5.3"/>
<circle cx="463.4" cy="297.3" r="5.3"/>
<circle cx="218.5" cy="175.3" r="5.3"/>
<circle cx="175.8" cy="272.7" r="5.3"/>
<circle cx="308.4" cy="214.8" r="5.3"/>
<circle cx="155.0" cy="406.5" r="5.3"/>
<circle cx="53.5" cy="409.8" r="5.3"/>
<circle cx="118.9" cy="411.1" r="5.3"/>
<circle cx="73.1" cy="463.3" r="5.3"/>
<circle cx="155.0" cy="479.1" r="5.3"/>
<circle cx="218.3" cy="521.7" r="5.3"/>
<circle cx="202.7" cy="598.2" r="5.3"/>
<circle cx="211.2" cy="680.4" r="5.3"/>
<circle cx="317.2" cy="600.8" r="5.3"/>
<circle cx="266.8" cy="653.0" r="5.3"/>
<circle cx="358.5" cy="693.6" r="5.3"/>
<circle cx="447.2" cy="646.6" r="5.3"/>
<circle cx="397.4" cy="476.5" r="5.3"/>
<circle cx="485.2" cy="546.8" r="5.3"/>
</g>
<g fill="#3358b8">
<circle cx="937.9" cy="210.1" r="5.9"/>
<circle cx="803.0" cy="301.1" r="5.9"/>
<circle cx="838.6" cy="400.6" r="5.9"/>
<circle cx="983.3" cy="374.0" r="5.9"/>
<circle cx="864.5" cy="433.3" r="5.9"/>
<circle cx="954.9" cy="519.1" r="5.9"/>
<circle cx="857.2" cy="554.8" r="5.9"/>
<circle cx="900.6" cy="546.5" r="5.9"/>
<circle cx="872.2" cy="645.6" r="5.9"/>
<circle cx="1038.9" cy="667.1" r="5.9"/>
<circle cx="1048.7" cy="782.4" r="5.9"/>
<circle cx="1057.4" cy="200.5" r="5.9"/>
<circle cx="1124.5" cy="301.1" r="5.9"/>
<circle cx="1132.6" cy="366.5" r="5.9"/>
<circle cx="1121.4" cy="432.8" r="5.9"/>
<circle cx="1187.9" cy="474.7" r="5.9"/>
<circle cx="1243.7" cy="569.5" r="5.9"/>
<circle cx="1076.2" cy="471.6" r="5.9"/>
<circle cx="1101.3" cy="539.8" r="5.9"/>
<circle cx="1281.1" cy="641.0" r="5.9"/>
<circle cx="1116.3" cy="715.4" r="5.9"/>
</g>
<g fill="#3358b8">
<circle cx="1528.7" cy="202.3" r="5.9"/>
<circle cx="1533.6" cy="304.9" r="5.9"/>
<circle cx="1593.0" cy="364.3" r="5.9"/>
<circle cx="1595.1" cy="203.6" r="5.9"/>
<circle cx="1642.9" cy="294.8" r="5.9"/>
<circle cx="1528.4" cy="468.7" r="5.9"/>
<circle cx="1592.5" cy="645.5" r="5.9"/>
<circle cx="1662.5" cy="71.6" r="5.9"/>
<circle cx="1862.7" cy="107.2" r="5.9"/>
<circle cx="1891.7" cy="246.2" r="5.9"/>
<circle cx="1803.9" cy="241.8" r="5.9"/>
<circle cx="1783.0" cy="381.9" r="5.9"/>
<circle cx="1616.1" cy="370.8" r="5.9"/>
<circle cx="1896.4" cy="436.9" r="5.9"/>
<circle cx="1935.6" cy="421.4" r="5.9"/>
<circle cx="1916.8" cy="533.3" r="5.9"/>
<circle cx="1640.9" cy="526.6" r="5.9"/>
<circle cx="1769.8" cy="456.3" r="5.9"/>
<circle cx="1768.0" cy="503.6" r="5.9"/>
<circle cx="1889.4" cy="722.2" r="5.9"/>
<circle cx="1669.8" cy="619.4" r="5.9"/>
<circle cx="1837.5" cy="845.5" r="5.9"/>
</g>
<g fill="#e8222a">
<circle cx="286.1" cy="259.6" r="5.3"/>
<circle cx="244.3" cy="316.7" r="5.3"/>
<circle cx="304.5" cy="303.7" r="5.3"/>
<circle cx="281.7" cy="334.0" r="5.3"/>
<circle cx="248.1" cy="383.6" r="5.3"/>
<circle cx="231.3" cy="338.6" r="5.3"/>
<circle cx="410.2" cy="383.1" r="5.3"/>
<circle cx="375.3" cy="392.9" r="5.3"/>
<circle cx="329.0" cy="385.7" r="5.3"/>
<circle cx="290.3" cy="398.1" r="5.3"/>
<circle cx="255.4" cy="417.2" r="5.3"/>
<circle cx="221.5" cy="468.3" r="5.3"/>
<circle cx="331.6" cy="262.1" r="5.3"/>
<circle cx="446.6" cy="295.7" r="5.3"/>
<circle cx="436.8" cy="334.0" r="5.3"/>
<circle cx="419.5" cy="253.1" r="5.3"/>
<circle cx="268.3" cy="214.8" r="5.3"/>
<circle cx="348.4" cy="150.7" r="5.3"/>
<circle cx="329.1" cy="182.2" r="5.3"/>
<circle cx="389.0" cy="230.3" r="5.3"/>
<circle cx="319.3" cy="227.0" r="5.3"/>
<circle cx="205.9" cy="369.0" r="5.3"/>
<circle cx="86.0" cy="394.3" r="5.3"/>
<circle cx="147.3" cy="453.0" r="5.3"/>
<circle cx="160.2" cy="516.5" r="5.3"/>
<circle cx="84.0" cy="523.5" r="5.3"/>
<circle cx="286.0" cy="480.9" r="5.3"/>
<circle cx="237.7" cy="476.5" r="5.3"/>
<circle cx="270.0" cy="494.6" r="5.3"/>
<circle cx="220.2" cy="485.3" r="5.3"/>
<circle cx="169.4" cy="611.9" r="5.3"/>
<circle cx="151.8" cy="699.0" r="5.3"/>
<circle cx="252.0" cy="560.7" r="5.3"/>
<circle cx="294.7" cy="553.5" r="5.3"/>
<circle cx="261.6" cy="573.6" r="5.3"/>
<circle cx="228.0" cy="553.5" r="5.3"/>
<circle cx="287.4" cy="636.2" r="5.3"/>
<circle cx="432.2" cy="631.8" r="5.3"/>
<circle cx="405.8" cy="656.9" r="5.3"/>
<circle cx="359.8" cy="667.8" r="5.3"/>
<circle cx="324.4" cy="662.8" r="5.3"/>
<circle cx="317.8" cy="480.4" r="5.3"/>
<circle cx="308.8" cy="519.1" r="5.3"/>
<circle cx="341.1" cy="500.3" r="5.3"/>
<circle cx="393.3" cy="497.7" r="5.3"/>
<circle cx="423.0" cy="518.4" r="5.3"/>
<circle cx="445.7" cy="552.0" r="5.3"/>
<circle cx="447.8" cy="590.7" r="5.3"/>
</g>
<g fill="#e8222a">
<circle cx="768.9" cy="271.4" r="5.9"/>
<circle cx="849.0" cy="245.6" r="5.9"/>
<circle cx="913.3" cy="279.1" r="5.9"/>
<circle cx="910.2" cy="321.3" r="5.9"/>
<circle cx="950.3" cy="233.9" r="5.9"/>
<circle cx="989.0" cy="215.8" r="5.9"/>
<circle cx="876.6" cy="292.8" r="5.9"/>
<circle cx="858.5" cy="330.8" r="5.9"/>
<circle cx="894.7" cy="403.7" r="5.9"/>
<circle cx="925.2" cy="356.7" r="5.9"/>
<circle cx="915.4" cy="399.3" r="5.9"/>
<circle cx="875.3" cy="488.9" r="5.9"/>
<circle cx="901.2" cy="472.8" r="5.9"/>
<circle cx="945.9" cy="463.8" r="5.9"/>
<circle cx="991.6" cy="456.6" r="5.9"/>
<circle cx="1009.2" cy="419.6" r="5.9"/>
<circle cx="990.8" cy="429.9" r="5.9"/>
<circle cx="1008.4" cy="536.7" r="5.9"/>
<circle cx="1047.2" cy="498.7" r="5.9"/>
<circle cx="965.2" cy="574.1" r="5.9"/>
<circle cx="1004.0" cy="581.9" r="5.9"/>
<circle cx="989.0" cy="528.4" r="5.9"/>
<circle cx="1029.8" cy="537.2" r="5.9"/>
<circle cx="892.1" cy="620.3" r="5.9"/>
<circle cx="927.8" cy="597.8" r="5.9"/>
<circle cx="892.1" cy="722.4" r="5.9"/>
<circle cx="879.2" cy="684.4" r="5.9"/>
<circle cx="1033.5" cy="758.8" r="5.9"/>
<circle cx="940.7" cy="764.0" r="5.9"/>
<circle cx="981.3" cy="771.7" r="5.9"/>
<circle cx="1036.3" cy="607.4" r="5.9"/>
<circle cx="1066.3" cy="734.6" r="5.9"/>
<circle cx="1047.3" cy="222.8" r="5.9"/>
<circle cx="1077.5" cy="252.0" r="5.9"/>
<circle cx="1096.9" cy="295.2" r="5.9"/>
<circle cx="1097.7" cy="338.1" r="5.9"/>
<circle cx="1074.4" cy="385.6" r="5.9"/>
<circle cx="1043.2" cy="412.2" r="5.9"/>
<circle cx="1145.2" cy="395.8" r="5.9"/>
<circle cx="1138.8" cy="497.9" r="5.9"/>
<circle cx="1193.0" cy="547.5" r="5.9"/>
<circle cx="1069.3" cy="510.3" r="5.9"/>
<circle cx="1087.9" cy="587.8" r="5.9"/>
<circle cx="1210.6" cy="652.8" r="5.9"/>
<circle cx="1081.9" cy="609.9" r="5.9"/>
<circle cx="1126.6" cy="572.7" r="5.9"/>
<circle cx="1089.9" cy="687.0" r="5.9"/>
</g>
<g fill="#e8222a">
<circle cx="1562.8" cy="250.1" r="5.9"/>
<circle cx="1494.3" cy="288.9" r="5.9"/>
<circle cx="1455.0" cy="309.5" r="5.9"/>
<circle cx="1569.3" cy="351.7" r="5.9"/>
<circle cx="1646.8" cy="360.7" r="5.9"/>
<circle cx="1637.2" cy="198.9" r="5.9"/>
<circle cx="1651.4" cy="242.4" r="5.9"/>
<circle cx="1510.6" cy="518.8" r="5.9"/>
<circle cx="1588.6" cy="429.1" r="5.9"/>
<circle cx="1611.9" cy="429.7" r="5.9"/>
<circle cx="1570.5" cy="493.7" r="5.9"/>
<circle cx="1568.5" cy="520.9" r="5.9"/>
<circle cx="1591.7" cy="541.3" r="5.9"/>
<circle cx="1539.5" cy="590.4" r="5.9"/>
<circle cx="1626.6" cy="598.2" r="5.9"/>
<circle cx="1674.4" cy="111.1" r="5.9"/>
<circle cx="1651.6" cy="142.9" r="5.9"/>
<circle cx="1745.9" cy="103.9" r="5.9"/>
<circle cx="1791.2" cy="117.1" r="5.9"/>
<circle cx="1830.7" cy="148.1" r="5.9"/>
<circle cx="1858.3" cy="182.2" r="5.9"/>
<circle cx="1862.0" cy="244.9" r="5.9"/>
<circle cx="1820.7" cy="316.0" r="5.9"/>
<circle cx="1848.3" cy="370.3" r="5.9"/>
<circle cx="1688.7" cy="270.3" r="5.9"/>
<circle cx="1731.8" cy="288.9" r="5.9"/>
<circle cx="1680.7" cy="301.8" r="5.9"/>
<circle cx="1776.5" cy="287.6" r="5.9"/>
<circle cx="1802.1" cy="333.6" r="5.9"/>
<circle cx="1720.2" cy="339.8" r="5.9"/>
<circle cx="1720.2" cy="389.1" r="5.9"/>
<circle cx="1671.6" cy="348.3" r="5.9"/>
<circle cx="1974.4" cy="517.0" r="5.9"/>
<circle cx="1776.2" cy="431.0" r="5.9"/>
<circle cx="1660.8" cy="432.2" r="5.9"/>
<circle cx="1726.7" cy="445.4" r="5.9"/>
<circle cx="1655.1" cy="469.7" r="5.9"/>
<circle cx="1709.1" cy="492.5" r="5.9"/>
<circle cx="1738.8" cy="524.8" r="5.9"/>
<circle cx="1758.4" cy="577.5" r="5.9"/>
<circle cx="1753.2" cy="620.9" r="5.9"/>
<circle cx="1815.8" cy="640.8" r="5.9"/>
<circle cx="1832.6" cy="682.2" r="5.9"/>
<circle cx="1703.4" cy="650.6" r="5.9"/>
<circle cx="1736.4" cy="684.0" r="5.9"/>
<circle cx="1822.0" cy="746.8" r="5.9"/>
<circle cx="1807.7" cy="780.4" r="5.9"/>
</g>
<g fill="#8cc63f">
<circle cx="271.9" cy="629.2" r="5.3"/>
<circle cx="242.7" cy="656.3" r="5.3"/>
<circle cx="286.1" cy="668.0" r="5.3"/>
<circle cx="305.5" cy="651.2" r="5.3"/>
<circle cx="437.6" cy="570.3" r="5.3"/>
<circle cx="434.2" cy="608.6" r="5.3"/>
<circle cx="413.0" cy="635.7" r="5.3"/>
<circle cx="383.9" cy="662.8" r="5.3"/>
<circle cx="382.6" cy="688.4" r="5.3"/>
<circle cx="345.1" cy="672.4" r="5.3"/>
<circle cx="344.3" cy="713.0" r="5.3"/>
<circle cx="345.1" cy="654.3" r="5.3"/>
<circle cx="422.6" cy="651.0" r="5.3"/>
<circle cx="509.5" cy="542.9" r="5.3"/>
<circle cx="480.6" cy="571.3" r="5.3"/>
<circle cx="454.8" cy="623.8" r="5.3"/>
<circle cx="459.3" cy="665.7" r="5.3"/>
</g>
<g fill="#8cc63f">
<circle cx="836.6" cy="536.7" r="5.9"/>
<circle cx="881.8" cy="542.6" r="5.9"/>
<circle cx="899.1" cy="700.4" r="5.9"/>
<circle cx="853.9" cy="685.7" r="5.9"/>
<circle cx="846.9" cy="657.2" r="5.9"/>
<circle cx="872.2" cy="617.7" r="5.9"/>
<circle cx="899.1" cy="655.2" r="5.9"/>
<circle cx="1042.0" cy="736.6" r="5.9"/>
<circle cx="961.9" cy="755.9" r="5.9"/>
<circle cx="1007.6" cy="767.1" r="5.9"/>
<circle cx="1022.9" cy="792.8" r="5.9"/>
<circle cx="1061.1" cy="757.9" r="5.9"/>
<circle cx="1068.9" cy="802.8" r="5.9"/>
<circle cx="1074.6" cy="709.3" r="5.9"/>
<circle cx="1093.5" cy="732.7" r="5.9"/>
<circle cx="1120.2" cy="688.2" r="5.9"/>
<circle cx="1141.6" cy="728.3" r="5.9"/>
</g>
<g fill="#8cc63f">
<circle cx="1569.3" cy="218.6" r="5.9"/>
<circle cx="1618.3" cy="222.2" r="5.9"/>
<circle cx="1640.0" cy="54.8" r="5.9"/>
<circle cx="1691.7" cy="66.7" r="5.9"/>
<circle cx="1698.1" cy="96.9" r="5.9"/>
<circle cx="1654.7" cy="99.5" r="5.9"/>
<circle cx="1676.2" cy="137.5" r="5.9"/>
<circle cx="1764.0" cy="120.7" r="5.9"/>
<circle cx="1810.5" cy="137.0" r="5.9"/>
<circle cx="1832.5" cy="116.3" r="5.9"/>
<circle cx="1872.0" cy="80.1" r="5.9"/>
<circle cx="1885.5" cy="126.6" r="5.9"/>
<circle cx="1831.7" cy="173.6" r="5.9"/>
<circle cx="1860.9" cy="209.3" r="5.9"/>
<circle cx="1891.9" cy="215.8" r="5.9"/>
<circle cx="1920.1" cy="253.2" r="5.9"/>
<circle cx="1874.4" cy="269.5" r="5.9"/>
</g>
<g fill="#f2e11d">
<circle cx="177.0" cy="443.9" r="5.3"/>
</g>
<g fill="#f2e11d">
<circle cx="797.8" cy="471.6" r="5.9"/>
<circle cx="1251.4" cy="493.3" r="5.9"/>
</g>
<g fill="#f2e11d">
<circle cx="1473.6" cy="263.0" r="5.9"/>
</g>
<g fill="#111">
<circle cx="235.8" cy="251.2" r="0.8"/>
<circle cx="284.1" cy="256.9" r="0.8"/>
<circle cx="242.2" cy="314.0" r="0.8"/>
<circle cx="302.5" cy="301.1" r="0.8"/>
<circle cx="279.7" cy="331.3" r="0.8"/>
<circle cx="246.1" cy="380.9" r="0.8"/>
<circle cx="229.3" cy="336.0" r="0.8"/>
<circle cx="341.7" cy="336.0" r="0.8"/>
<circle cx="408.1" cy="380.4" r="0.8"/>
<circle cx="373.3" cy="390.2" r="0.8"/>
<circle cx="314.6" cy="407.0" r="0.8"/>
<circle cx="327.0" cy="383.0" r="0.8"/>
<circle cx="288.2" cy="395.4" r="0.8"/>
<circle cx="253.4" cy="414.5" r="0.8"/>
<circle cx="219.5" cy="465.7" r="0.8"/>
<circle cx="312.0" cy="437.8" r="0.8"/>
<circle cx="329.6" cy="259.5" r="0.8"/>
<circle cx="347.7" cy="293.3" r="0.8"/>
<circle cx="444.6" cy="293.1" r="0.8"/>
<circle cx="434.8" cy="331.3" r="0.8"/>
<circle cx="452.8" cy="370.1" r="0.8"/>
<circle cx="417.4" cy="250.5" r="0.8"/>
<circle cx="461.4" cy="294.6" r="0.8"/>
<circle cx="216.5" cy="172.6" r="0.8"/>
<circle cx="266.3" cy="212.2" r="0.8"/>
<circle cx="173.8" cy="270.0" r="0.8"/>
<circle cx="346.4" cy="148.1" r="0.8"/>
<circle cx="327.1" cy="179.6" r="0.8"/>
<circle cx="306.4" cy="212.2" r="0.8"/>
<circle cx="387.0" cy="227.7" r="0.8"/>
<circle cx="317.2" cy="224.3" r="0.8"/>
<circle cx="203.9" cy="366.3" r="0.8"/>
<circle cx="153.0" cy="403.8" r="0.8"/>
<circle cx="175.0" cy="441.3" r="0.8"/>
<circle cx="84.0" cy="391.7" r="0.8"/>
<circle cx="51.5" cy="407.2" r="0.8"/>
<circle cx="116.8" cy="408.5" r="0.8"/>
<circle cx="145.3" cy="450.3" r="0.8"/>
<circle cx="71.1" cy="460.7" r="0.8"/>
<circle cx="153.0" cy="476.4" r="0.8"/>
<circle cx="158.2" cy="513.9" r="0.8"/>
<circle cx="82.0" cy="520.9" r="0.8"/>
<circle cx="284.0" cy="478.2" r="0.8"/>
<circle cx="235.7" cy="473.8" r="0.8"/>
<circle cx="268.0" cy="491.9" r="0.8"/>
<circle cx="218.1" cy="482.6" r="0.8"/>
<circle cx="216.3" cy="519.1" r="0.8"/>
<circle cx="200.7" cy="595.5" r="0.8"/>
<circle cx="167.3" cy="609.2" r="0.8"/>
<circle cx="209.2" cy="677.7" r="0.8"/>
<circle cx="149.8" cy="696.3" r="0.8"/>
<circle cx="250.0" cy="558.1" r="0.8"/>
<circle cx="292.7" cy="550.8" r="0.8"/>
<circle cx="259.6" cy="571.0" r="0.8"/>
<circle cx="226.0" cy="550.8" r="0.8"/>
<circle cx="285.4" cy="633.5" r="0.8"/>
<circle cx="315.1" cy="598.1" r="0.8"/>
<circle cx="269.9" cy="626.5" r="0.8"/>
<circle cx="264.8" cy="650.3" r="0.8"/>
<circle cx="240.7" cy="653.7" r="0.8"/>
<circle cx="284.1" cy="665.3" r="0.8"/>
<circle cx="303.5" cy="648.5" r="0.8"/>
<circle cx="435.6" cy="567.7" r="0.8"/>
<circle cx="432.2" cy="605.9" r="0.8"/>
<circle cx="411.0" cy="633.1" r="0.8"/>
<circle cx="430.2" cy="629.2" r="0.8"/>
<circle cx="403.8" cy="654.2" r="0.8"/>
<circle cx="381.8" cy="660.2" r="0.8"/>
<circle cx="380.5" cy="685.8" r="0.8"/>
<circle cx="356.5" cy="690.9" r="0.8"/>
<circle cx="343.1" cy="669.8" r="0.8"/>
<circle cx="342.3" cy="710.3" r="0.8"/>
<circle cx="343.1" cy="651.7" r="0.8"/>
<circle cx="357.8" cy="665.1" r="0.8"/>
<circle cx="322.4" cy="660.2" r="0.8"/>
<circle cx="420.6" cy="648.3" r="0.8"/>
<circle cx="445.1" cy="643.9" r="0.8"/>
<circle cx="315.8" cy="477.7" r="0.8"/>
<circle cx="306.7" cy="516.5" r="0.8"/>
<circle cx="339.0" cy="497.6" r="0.8"/>
<circle cx="395.4" cy="473.9" r="0.8"/>
<circle cx="391.2" cy="495.1" r="0.8"/>
<circle cx="421.0" cy="515.7" r="0.8"/>
<circle cx="483.2" cy="544.1" r="0.8"/>
<circle cx="507.5" cy="540.3" r="0.8"/>
<circle cx="478.6" cy="568.7" r="0.8"/>
<circle cx="443.7" cy="549.3" r="0.8"/>
<circle cx="445.8" cy="588.1" r="0.8"/>
<circle cx="452.7" cy="621.1" r="0.8"/>
<circle cx="457.3" cy="663.1" r="0.8"/>
<circle cx="935.6" cy="207.2" r="0.9"/>
<circle cx="766.6" cy="268.4" r="0.9"/>
<circle cx="800.7" cy="298.2" r="0.9"/>
<circle cx="846.7" cy="242.6" r="0.9"/>
<circle cx="911.1" cy="276.2" r="0.9"/>
<circle cx="908.0" cy="318.3" r="0.9"/>
<circle cx="948.0" cy="231.0" r="0.9"/>
<circle cx="986.8" cy="212.9" r="0.9"/>
<circle cx="874.4" cy="289.9" r="0.9"/>
<circle cx="856.3" cy="327.9" r="0.9"/>
<circle cx="836.4" cy="397.6" r="0.9"/>
<circle cx="892.5" cy="400.7" r="0.9"/>
<circle cx="923.0" cy="353.7" r="0.9"/>
<circle cx="913.1" cy="396.4" r="0.9"/>
<circle cx="981.1" cy="371.0" r="0.9"/>
<circle cx="795.6" cy="468.6" r="0.9"/>
<circle cx="862.2" cy="430.4" r="0.9"/>
<circle cx="873.1" cy="485.9" r="0.9"/>
<circle cx="898.9" cy="469.9" r="0.9"/>
<circle cx="943.6" cy="460.8" r="0.9"/>
<circle cx="989.4" cy="453.6" r="0.9"/>
<circle cx="1006.9" cy="416.7" r="0.9"/>
<circle cx="988.6" cy="427.0" r="0.9"/>
<circle cx="952.7" cy="516.1" r="0.9"/>
<circle cx="1006.2" cy="533.7" r="0.9"/>
<circle cx="1044.9" cy="495.7" r="0.9"/>
<circle cx="834.3" cy="533.7" r="0.9"/>
<circle cx="855.0" cy="551.8" r="0.9"/>
<circle cx="879.5" cy="539.7" r="0.9"/>
<circle cx="898.4" cy="543.5" r="0.9"/>
<circle cx="963.0" cy="571.2" r="0.9"/>
<circle cx="1001.8" cy="578.9" r="0.9"/>
<circle cx="986.8" cy="525.4" r="0.9"/>
<circle cx="1027.6" cy="534.2" r="0.9"/>
<circle cx="889.9" cy="617.3" r="0.9"/>
<circle cx="925.5" cy="594.9" r="0.9"/>
<circle cx="896.9" cy="697.4" r="0.9"/>
<circle cx="889.9" cy="719.4" r="0.9"/>
<circle cx="877.0" cy="681.4" r="0.9"/>
<circle cx="851.6" cy="682.7" r="0.9"/>
<circle cx="844.7" cy="654.3" r="0.9"/>
<circle cx="870.0" cy="642.7" r="0.9"/>
<circle cx="870.0" cy="614.8" r="0.9"/>
<circle cx="896.9" cy="652.2" r="0.9"/>
<circle cx="1036.6" cy="664.1" r="0.9"/>
<circle cx="1039.7" cy="733.6" r="0.9"/>
<circle cx="1031.2" cy="755.8" r="0.9"/>
<circle cx="959.6" cy="753.0" r="0.9"/>
<circle cx="938.5" cy="761.0" r="0.9"/>
<circle cx="979.0" cy="768.8" r="0.9"/>
<circle cx="1005.4" cy="764.1" r="0.9"/>
<circle cx="1034.1" cy="604.4" r="0.9"/>
<circle cx="1020.7" cy="789.8" r="0.9"/>
<circle cx="1046.5" cy="779.5" r="0.9"/>
<circle cx="1058.9" cy="754.9" r="0.9"/>
<circle cx="1066.6" cy="799.9" r="0.9"/>
<circle cx="1064.1" cy="731.7" r="0.9"/>
<circle cx="1072.3" cy="706.4" r="0.9"/>
<circle cx="1055.1" cy="197.6" r="0.9"/>
<circle cx="1045.0" cy="219.9" r="0.9"/>
<circle cx="1075.3" cy="249.1" r="0.9"/>
<circle cx="1122.3" cy="298.2" r="0.9"/>
<circle cx="1094.7" cy="292.2" r="0.9"/>
<circle cx="1095.4" cy="335.1" r="0.9"/>
<circle cx="1130.3" cy="363.5" r="0.9"/>
<circle cx="1072.2" cy="382.7" r="0.9"/>
<circle cx="1040.9" cy="409.3" r="0.9"/>
<circle cx="1143.0" cy="392.9" r="0.9"/>
<circle cx="1119.2" cy="429.8" r="0.9"/>
<circle cx="1185.6" cy="471.7" r="0.9"/>
<circle cx="1136.5" cy="495.0" r="0.9"/>
<circle cx="1249.2" cy="490.3" r="0.9"/>
<circle cx="1190.8" cy="544.6" r="0.9"/>
<circle cx="1241.4" cy="566.5" r="0.9"/>
<circle cx="1074.0" cy="468.6" r="0.9"/>
<circle cx="1099.0" cy="536.8" r="0.9"/>
<circle cx="1067.0" cy="507.4" r="0.9"/>
<circle cx="1085.6" cy="584.9" r="0.9"/>
<circle cx="1278.9" cy="638.0" r="0.9"/>
<circle cx="1208.4" cy="649.9" r="0.9"/>
<circle cx="1079.7" cy="607.0" r="0.9"/>
<circle cx="1124.4" cy="569.8" r="0.9"/>
<circle cx="1087.7" cy="684.0" r="0.9"/>
<circle cx="1091.3" cy="729.7" r="0.9"/>
<circle cx="1114.0" cy="712.4" r="0.9"/>
<circle cx="1117.9" cy="685.3" r="0.9"/>
<circle cx="1139.4" cy="725.3" r="0.9"/>
<circle cx="1526.4" cy="199.3" r="0.9"/>
<circle cx="1471.4" cy="260.1" r="0.9"/>
<circle cx="1560.5" cy="247.2" r="0.9"/>
<circle cx="1492.1" cy="285.9" r="0.9"/>
<circle cx="1452.8" cy="306.6" r="0.9"/>
<circle cx="1531.3" cy="301.9" r="0.9"/>
<circle cx="1567.0" cy="348.7" r="0.9"/>
<circle cx="1590.8" cy="361.4" r="0.9"/>
<circle cx="1644.5" cy="357.7" r="0.9"/>
<circle cx="1635.0" cy="196.0" r="0.9"/>
<circle cx="1592.8" cy="200.6" r="0.9"/>
<circle cx="1567.0" cy="215.6" r="0.9"/>
<circle cx="1616.1" cy="219.2" r="0.9"/>
<circle cx="1649.2" cy="239.4" r="0.9"/>
<circle cx="1640.7" cy="291.9" r="0.9"/>
<circle cx="1526.2" cy="465.7" r="0.9"/>
<circle cx="1508.4" cy="515.9" r="0.9"/>
<circle cx="1586.4" cy="426.2" r="0.9"/>
<circle cx="1609.6" cy="426.7" r="0.9"/>
<circle cx="1568.3" cy="490.8" r="0.9"/>
<circle cx="1566.2" cy="517.9" r="0.9"/>
<circle cx="1589.5" cy="538.4" r="0.9"/>
<circle cx="1537.3" cy="587.5" r="0.9"/>
<circle cx="1624.4" cy="595.2" r="0.9"/>
<circle cx="1590.3" cy="642.5" r="0.9"/>
<circle cx="1637.8" cy="51.8" r="0.9"/>
<circle cx="1660.2" cy="68.6" r="0.9"/>
<circle cx="1689.4" cy="63.7" r="0.9"/>
<circle cx="1695.9" cy="93.9" r="0.9"/>
<circle cx="1672.1" cy="108.2" r="0.9"/>
<circle cx="1652.5" cy="96.5" r="0.9"/>
<circle cx="1673.9" cy="134.5" r="0.9"/>
<circle cx="1649.4" cy="139.9" r="0.9"/>
<circle cx="1761.8" cy="117.7" r="0.9"/>
<circle cx="1743.7" cy="100.9" r="0.9"/>
<circle cx="1788.9" cy="114.1" r="0.9"/>
<circle cx="1808.3" cy="134.0" r="0.9"/>
<circle cx="1830.3" cy="113.3" r="0.9"/>
<circle cx="1860.5" cy="104.3" r="0.9"/>
<circle cx="1869.8" cy="77.2" r="0.9"/>
<circle cx="1883.2" cy="123.7" r="0.9"/>
<circle cx="1829.5" cy="170.7" r="0.9"/>
<circle cx="1828.5" cy="145.1" r="0.9"/>
<circle cx="1856.1" cy="179.2" r="0.9"/>
<circle cx="1858.7" cy="206.4" r="0.9"/>
<circle cx="1889.7" cy="212.8" r="0.9"/>
<circle cx="1889.5" cy="243.3" r="0.9"/>
<circle cx="1917.9" cy="250.3" r="0.9"/>
<circle cx="1872.2" cy="266.5" r="0.9"/>
<circle cx="1801.6" cy="238.9" r="0.9"/>
<circle cx="1859.8" cy="242.0" r="0.9"/>
<circle cx="1818.4" cy="313.0" r="0.9"/>
<circle cx="1846.1" cy="367.3" r="0.9"/>
<circle cx="1686.4" cy="267.3" r="0.9"/>
<circle cx="1729.6" cy="285.9" r="0.9"/>
<circle cx="1678.4" cy="298.8" r="0.9"/>
<circle cx="1774.3" cy="284.6" r="0.9"/>
<circle cx="1799.9" cy="330.6" r="0.9"/>
<circle cx="1718.0" cy="336.8" r="0.9"/>
<circle cx="1780.8" cy="378.9" r="0.9"/>
<circle cx="1718.0" cy="386.2" r="0.9"/>
<circle cx="1669.4" cy="345.3" r="0.9"/>
<circle cx="1613.8" cy="367.8" r="0.9"/>
<circle cx="1894.1" cy="433.9" r="0.9"/>
<circle cx="1933.4" cy="418.4" r="0.9"/>
<circle cx="1972.2" cy="514.1" r="0.9"/>
<circle cx="1914.5" cy="530.3" r="0.9"/>
<circle cx="1774.0" cy="428.0" r="0.9"/>
<circle cx="1658.5" cy="429.3" r="0.9"/>
<circle cx="1724.4" cy="442.5" r="0.9"/>
<circle cx="1652.8" cy="466.8" r="0.9"/>
<circle cx="1638.6" cy="523.6" r="0.9"/>
<circle cx="1706.9" cy="489.5" r="0.9"/>
<circle cx="1767.6" cy="453.3" r="0.9"/>
<circle cx="1736.6" cy="521.8" r="0.9"/>
<circle cx="1765.8" cy="500.6" r="0.9"/>
<circle cx="1756.2" cy="574.6" r="0.9"/>
<circle cx="1751.0" cy="618.0" r="0.9"/>
<circle cx="1813.5" cy="637.9" r="0.9"/>
<circle cx="1830.3" cy="679.2" r="0.9"/>
<circle cx="1887.2" cy="719.3" r="0.9"/>
<circle cx="1701.1" cy="647.7" r="0.9"/>
<circle cx="1667.5" cy="616.4" r="0.9"/>
<circle cx="1734.2" cy="681.0" r="0.9"/>
<circle cx="1819.7" cy="743.8" r="0.9"/>
<circle cx="1805.5" cy="777.4" r="0.9"/>
<circle cx="1835.2" cy="842.5" r="0.9"/>
</g>
<path d="M232.5 302.3L231.8 304.6M230.1 301.0L228.6 302.8M228.5 298.8L226.3 299.8M227.8 296.1L225.4 296.2M228.4 293.4L226.2 292.5M209.1 301.0L209.0 303.4M206.4 300.4L205.4 302.5M204.3 298.6L202.4 300.2M203.0 296.2L200.7 296.8M202.9 293.4L200.5 293.1M240.5 322.0L239.2 324.0M238.7 320.0L236.6 321.2M237.8 317.4L235.4 317.7M238.1 314.7L235.8 314.0M239.4 312.4L237.6 310.8M226.1 342.4L224.1 343.8M225.0 339.9L222.6 340.4M225.0 337.2L222.7 336.7M226.1 334.8L224.2 333.3M228.2 333.0L227.0 330.9M405.1 277.1L404.1 274.9M407.8 276.5L407.8 274.1M410.5 277.0L411.5 274.8M412.7 278.7L414.5 277.1M414.1 281.0L416.4 280.3M447.0 289.3L447.2 286.9M449.6 290.0L450.8 287.9M451.7 291.7L453.6 290.3M452.9 294.2L455.2 293.6M453.0 296.9L455.3 297.3M456.9 366.6L457.7 364.3M459.3 368.0L460.9 366.2M460.8 370.2L463.0 369.2M461.4 372.8L463.8 372.9M460.8 375.5L462.9 376.5M470.4 345.5L471.9 343.6M472.2 347.6L474.3 346.4M473.1 350.2L475.4 350.0M472.7 352.9L475.0 353.7M471.3 355.3L473.1 356.9M478.8 389.0L481.1 388.3M479.0 391.8L481.3 392.1M478.0 394.3L480.1 395.6M476.1 396.3L477.4 398.3M473.5 397.3L474.0 399.7M417.0 247.1L416.1 244.9M419.6 246.6L419.7 244.2M422.3 247.2L423.3 245.1M424.4 248.9L426.3 247.4M425.7 251.3L428.0 250.6M426.1 268.1L424.6 266.3M428.6 266.9L428.0 264.6M431.3 266.7L431.7 264.4M433.9 267.7L435.2 265.7M435.9 269.7L437.9 268.4M456.8 268.2L457.5 265.9M459.2 269.6L460.8 267.8M460.8 271.8L463.0 270.8M461.5 274.4L463.9 274.4M460.9 277.1L463.1 278.1M462.6 290.8L462.3 288.5M465.3 291.1L466.0 288.8M467.6 292.4L469.2 290.6M469.3 294.5L471.4 293.5M469.9 297.2L472.3 297.1M493.7 304.6L496.1 304.9M492.8 307.2L494.8 308.4M490.9 309.2L492.3 311.2M488.4 310.2L488.8 312.6M485.6 310.2L485.0 312.5M455.7 314.4L457.9 313.4M456.3 317.1L458.7 317.1M455.7 319.8L457.9 320.8M454.1 322.1L455.8 323.8M451.8 323.4L452.5 325.7M347.5 144.3L347.1 141.9M350.2 144.5L350.8 142.1M352.6 145.7L354.1 143.9M354.3 147.8L356.4 146.8M354.9 150.5L357.3 150.4M342.0 173.0L339.7 173.5M342.0 170.2L339.6 169.8M343.0 167.7L341.0 166.3M345.0 165.8L343.7 163.7M347.6 164.9L347.3 162.5M322.6 182.1L320.2 182.1M323.2 179.5L321.0 178.4M324.8 177.3L323.3 175.5M327.2 176.0L326.5 173.7M329.9 175.8L330.2 173.4M301.9 171.4L299.6 171.0M303.0 168.9L301.0 167.5M305.0 167.0L303.8 165.0M307.6 166.1L307.3 163.8M310.3 166.4L311.0 164.1M288.9 190.9L286.9 189.7M290.8 188.8L289.3 186.9M293.3 187.7L292.7 185.4M296.0 187.7L296.5 185.3M298.5 188.8L299.9 186.8M376.3 180.7L378.4 179.6M377.0 183.4L379.4 183.2M376.6 186.1L378.8 186.9M375.1 188.4L376.8 190.1M372.8 189.9L373.7 192.2M383.2 158.3L381.6 156.5M385.6 156.9L384.8 154.6M388.3 156.6L388.5 154.2M391.0 157.4L392.1 155.3M393.0 159.2L394.9 157.8M396.3 197.0L398.2 195.6M397.5 199.5L399.8 198.9M397.6 202.3L399.9 202.7M396.5 204.8L398.5 206.2M394.6 206.7L395.8 208.8M386.8 219.2L387.9 217.1M389.0 221.0L390.8 219.5M390.2 223.4L392.5 222.8M390.4 226.2L392.7 226.5M389.4 228.7L391.4 230.0M391.3 224.2L392.1 222.0M393.5 225.6L395.2 223.9M395.1 227.9L397.3 227.0M395.5 230.6L397.9 230.7M394.8 233.2L397.0 234.3M398.5 241.5L398.5 239.1M401.2 242.1L402.2 239.9M403.4 243.7L405.2 242.1M404.8 246.0L407.1 245.3M405.1 248.8L407.5 249.0M209.4 509.3L209.9 511.6M206.7 509.3L206.2 511.7M204.1 508.2L202.7 510.1M202.3 506.1L200.2 507.4M201.4 503.5L199.1 503.8M187.3 505.2L188.5 507.3M184.6 506.0L184.9 508.4M181.9 505.8L181.2 508.0M179.5 504.4L177.9 506.1M177.9 502.1L175.7 503.1M218.0 528.2L217.8 530.6M215.4 527.5L214.3 529.6M213.3 525.8L211.4 527.3M212.1 523.3L209.7 523.9M211.9 520.6L209.6 520.2M224.7 559.1L223.5 561.2M222.7 557.3L220.8 558.6M221.6 554.8L219.3 555.2M221.7 552.1L219.3 551.5M222.8 549.6L220.9 548.2M219.0 580.9L217.1 582.4M217.8 578.5L215.4 579.1M217.6 575.7L215.2 575.3M218.6 573.1L216.6 571.8M220.6 571.2L219.3 569.2M272.9 655.1L275.2 655.9M271.5 657.4L273.3 659.1M269.3 659.0L270.2 661.2M266.6 659.5L266.6 661.9M264.0 658.8L263.0 661.0M291.6 671.4L293.7 672.7M289.7 673.4L291.1 675.4M287.2 674.4L287.6 676.7M284.5 674.3L283.9 676.6M282.1 673.0L280.6 674.9M309.6 656.2L311.2 658.1M307.2 657.4L307.9 659.8M304.5 657.6L304.2 660.0M302.0 656.6L300.7 658.6M300.1 654.7L298.1 656.0M443.9 568.7L446.2 568.1M444.0 571.4L446.4 571.8M443.0 573.9L445.0 575.3M441.1 575.8L442.3 577.9M438.5 576.8L438.9 579.1M438.9 604.0L440.6 602.3M440.3 606.3L442.6 605.4M440.7 609.0L443.1 609.1M440.0 611.6L442.1 612.7M438.3 613.7L439.8 615.5M435.0 626.0L436.1 623.8M437.2 627.7L439.0 626.1M438.4 630.1L440.7 629.4M438.6 632.8L441.0 633.1M437.7 635.3L439.7 636.6M412.1 658.5L414.5 659.0M410.9 660.9L412.8 662.4M408.9 662.6L410.0 664.8M406.3 663.4L406.4 665.8M403.6 663.0L402.8 665.3M390.3 662.6L392.7 662.5M389.9 665.3L392.1 666.2M388.4 667.5L390.0 669.2M386.1 669.0L386.9 671.2M383.4 669.3L383.2 671.7M388.7 686.4L391.0 685.6M389.0 689.1L391.4 689.3M388.2 691.6L390.3 692.8M386.4 693.7L387.8 695.6M383.9 694.8L384.4 697.1M364.4 696.5L366.5 697.5M362.7 698.6L364.2 700.4M360.3 699.8L360.9 702.2M357.6 700.0L357.2 702.4M355.0 699.1L353.8 701.1M345.2 678.9L345.3 681.3M342.6 678.4L341.7 680.6M340.4 676.9L338.6 678.5M339.0 674.5L336.7 675.3M338.6 671.8L336.2 671.6M340.7 718.3L339.3 720.3M338.8 716.4L336.7 717.7M337.9 713.8L335.5 714.2M338.1 711.1L335.8 710.5M339.4 708.8L337.5 707.2M326.7 668.9L327.6 671.2M324.0 669.3L323.9 671.7M321.4 668.6L320.3 670.7M319.3 666.9L317.4 668.4M318.1 664.5L315.8 665.0M428.4 654.0L430.5 655.1M426.6 656.1L428.1 658.0M424.2 657.3L424.8 659.6M421.5 657.4L421.1 659.7M419.0 656.3L417.6 658.3M448.2 640.2L448.6 637.8M450.8 641.1L452.1 639.2M452.6 643.1L454.7 641.8M453.6 645.6L456.0 645.3M453.4 648.3L455.7 649.0M401.6 471.5L403.1 469.7M403.2 473.7L405.4 472.6M403.9 476.3L406.3 476.2M403.4 479.0L405.6 479.9M401.9 481.2L403.5 482.9M417.4 453.2L419.5 452.0M418.2 455.8L420.6 455.6M417.8 458.5L420.1 459.3M416.4 460.9L418.2 462.5M414.1 462.4L415.1 464.7M413.6 490.9L414.4 488.6M416.0 492.3L417.6 490.5M417.6 494.5L419.8 493.5M418.2 497.2L420.6 497.2M417.6 499.9L419.8 500.9M402.2 509.3L402.5 506.9M404.8 510.2L406.1 508.2M406.8 512.1L408.8 510.8M407.8 514.7L410.1 514.3M407.7 517.4L410.0 518.0M395.8 491.7L396.8 489.5M398.0 493.3L399.8 491.7M399.4 495.6L401.7 494.9M399.7 498.3L402.1 498.6M398.9 500.9L401.0 502.1M422.3 511.9L422.1 509.5M425.0 512.2L425.8 509.9M427.4 513.6L429.0 511.8M428.9 515.8L431.1 514.8M429.5 518.4L431.9 518.5M437.6 527.0L436.5 524.8M440.2 526.3L440.1 523.9M442.9 526.7L443.8 524.5M445.2 528.2L446.9 526.5M446.7 530.5L449.0 529.7M460.5 527.4L458.7 525.8M462.7 525.6L461.6 523.5M465.3 525.0L465.2 522.6M468.0 525.4L468.9 523.2M470.3 526.9L472.1 525.3M491.0 549.9L493.1 551.0M489.2 552.0L490.7 553.9M486.8 553.1L487.3 555.5M484.0 553.2L483.6 555.5M481.5 552.1L480.2 554.1M507.7 536.7L507.0 534.4M510.4 536.5L510.7 534.1M512.9 537.4L514.2 535.3M514.9 539.2L516.9 537.9M515.9 541.7L518.3 541.3M486.9 573.1L489.2 573.7M485.6 575.5L487.4 577.0M483.5 577.2L484.5 579.3M480.8 577.8L480.9 580.2M478.2 577.4L477.3 579.6M453.6 587.9L455.8 586.8M454.3 590.5L456.7 590.5M453.8 593.2L456.0 594.1M452.3 595.4L453.9 597.2M450.0 596.8L450.8 599.1M457.8 618.1L459.0 616.0M459.9 619.8L461.8 618.3M461.1 622.3L463.4 621.7M461.1 625.0L463.5 625.4M460.1 627.5L462.1 628.8M465.4 663.3L467.6 662.4M465.8 666.0L468.2 666.1M465.1 668.6L467.3 669.7M463.4 670.7L465.0 672.6M461.0 672.0L461.7 674.3M924.8 189.3L923.4 191.2M922.7 187.0L920.6 188.2M921.7 184.1L919.3 184.4M922.0 181.0L919.7 180.3M923.5 178.3L921.7 176.7M931.8 213.8L929.7 215.0M930.8 211.0L928.4 211.3M931.1 208.0L928.8 207.3M932.5 205.4L930.7 203.9M934.9 203.7L933.9 201.5M960.1 206.9L958.2 205.4M962.5 205.0L961.4 202.9M965.5 204.3L965.4 201.9M968.5 204.8L969.4 202.5M971.1 206.5L972.8 204.8M909.8 229.9L907.5 230.2M910.1 226.8L907.8 226.2M911.6 224.1L909.8 222.6M914.0 222.3L913.0 220.1M917.0 221.6L917.0 219.2M920.9 253.5L918.5 253.5M921.6 250.5L919.4 249.5M923.4 248.0L921.8 246.2M926.1 246.5L925.3 244.2M929.1 246.2L929.4 243.8M858.0 561.8L858.2 564.2M855.0 561.5L854.3 563.8M852.5 560.0L850.9 561.8M850.7 557.6L848.5 558.6M850.1 554.7L847.7 554.7M852.8 590.5L852.3 592.8M849.9 589.3L848.6 591.2M847.8 587.0L845.8 588.3M846.8 584.1L844.4 584.4M847.0 581.0L844.8 580.4M875.8 601.4L874.6 603.5M873.4 599.4L871.5 600.9M872.0 596.6L869.7 597.2M871.9 593.5L869.5 593.1M873.1 590.7L871.1 589.3M903.3 706.1L904.7 708.0M900.6 707.3L901.1 709.7M897.6 707.3L897.2 709.7M894.9 706.1L893.5 708.1M893.0 703.9L890.9 705.2M896.6 727.9L898.1 729.8M893.9 729.2L894.5 731.5M890.9 729.4L890.6 731.7M888.2 728.3L886.9 730.3M886.1 726.2L884.1 727.4M839.8 657.6L837.4 657.7M840.3 654.6L838.1 653.8M841.9 652.2L840.2 650.5M844.4 650.6L843.6 648.3M847.3 650.1L847.5 647.8M865.7 648.4L863.5 649.3M865.1 645.5L862.7 645.4M865.8 642.6L863.6 641.6M867.6 640.2L866.0 638.4M870.2 638.8L869.5 636.5M867.2 622.7L865.5 624.4M865.6 620.2L863.3 621.1M865.1 617.3L862.7 617.1M865.9 614.4L863.8 613.3M867.8 612.1L866.3 610.3M939.2 729.2L939.4 731.6M936.1 728.8L935.3 731.1M933.5 727.2L931.9 728.9M931.8 724.6L929.6 725.5M931.2 721.6L928.8 721.5M968.2 759.3L970.3 760.4M966.3 761.5L967.7 763.4M963.6 762.8L964.2 765.2M960.6 762.9L960.2 765.3M957.9 761.8L956.5 763.8M937.6 770.3L936.6 772.5M935.3 768.5L933.4 770.1M933.9 765.9L931.6 766.6M933.7 763.0L931.3 762.6M934.7 760.2L932.6 758.9M986.5 776.5L988.3 778.1M984.1 778.2L985.0 780.4M981.2 778.8L981.1 781.2M978.3 778.2L977.3 780.3M975.9 776.4L974.1 778.0M1010.7 773.5L1011.7 775.6M1007.8 774.2L1007.8 776.6M1004.9 773.6L1003.9 775.8M1002.4 771.9L1000.7 773.5M1000.9 769.4L998.6 770.1M1022.9 799.9L1023.0 802.3M1020.0 799.3L1019.1 801.5M1017.6 797.5L1015.9 799.2M1016.1 795.0L1013.9 795.7M1015.8 792.0L1013.4 791.8M1053.9 777.6L1055.7 775.9M1055.4 780.1L1057.7 779.3M1055.8 783.1L1058.2 783.3M1054.9 785.9L1057.0 787.0M1053.0 788.1L1054.4 790.0M1067.7 755.2L1069.9 754.3M1068.2 758.1L1070.6 758.2M1067.5 761.0L1069.7 762.0M1065.7 763.3L1067.2 765.2M1063.1 764.7L1063.7 767.0M1072.2 796.6L1073.4 794.5M1074.5 798.5L1076.4 797.0M1075.8 801.2L1078.1 800.6M1075.9 804.1L1078.2 804.6M1074.7 806.9L1076.7 808.2M1073.4 734.0L1075.8 733.7M1073.0 736.9L1075.3 737.7M1071.5 739.4L1073.3 741.1M1069.1 741.2L1070.0 743.4M1066.2 741.7L1066.2 744.1M1063.2 196.4L1065.1 195.1M1064.3 199.2L1066.7 198.7M1064.3 202.1L1066.6 202.6M1063.0 204.8L1065.0 206.2M1060.8 206.7L1062.0 208.8M1072.8 170.4L1072.6 168.0M1075.8 170.9L1076.7 168.7M1078.4 172.6L1080.1 170.9M1080.1 175.2L1082.3 174.4M1080.5 178.2L1082.9 178.4M1078.7 217.2L1080.1 215.3M1080.8 219.5L1082.9 218.3M1081.8 222.4L1084.2 222.2M1081.5 225.5L1083.8 226.2M1080.0 228.2L1081.7 229.8M1051.6 217.2L1053.1 215.3M1053.5 219.5L1055.7 218.3M1054.4 222.3L1056.8 222.1M1054.0 225.2L1056.2 226.1M1052.4 227.8L1054.1 229.4M1055.7 238.7L1056.5 236.4M1058.2 240.4L1060.0 238.7M1059.9 243.0L1062.2 242.1M1060.4 246.0L1062.8 246.2M1059.5 249.0L1061.7 250.1M1078.5 245.0L1078.8 242.6M1081.3 246.0L1082.5 244.0M1083.4 248.0L1085.4 246.7M1084.5 250.8L1086.9 250.4M1084.4 253.8L1086.7 254.3M1086.2 268.8L1085.7 266.5M1089.3 268.8L1089.8 266.4M1092.1 270.0L1093.5 268.0M1094.2 272.3L1096.3 271.0M1095.2 275.2L1097.6 274.9M1112.5 268.0L1111.1 266.0M1115.3 266.7L1114.9 264.4M1118.4 266.8L1118.9 264.4M1121.2 268.0L1122.6 266.1M1123.3 270.4L1125.3 269.2M1155.8 311.6L1157.9 310.5M1156.5 314.6L1158.9 314.5M1155.9 317.6L1158.2 318.5M1154.2 320.2L1155.9 321.9M1151.6 321.8L1152.4 324.0M1161.9 365.0L1162.4 362.6M1164.7 366.3L1166.1 364.4M1166.7 368.6L1168.8 367.4M1167.6 371.6L1170.0 371.4M1167.2 374.6L1169.5 375.4M1100.5 734.2L1102.8 734.7M1099.2 736.9L1101.2 738.4M1097.0 738.9L1098.2 741.0M1094.2 739.8L1094.4 742.1M1091.3 739.4L1090.5 741.7M1122.1 719.4L1124.1 720.8M1119.9 721.5L1121.2 723.5M1117.1 722.4L1117.4 724.8M1114.2 722.2L1113.5 724.5M1111.6 720.7L1110.0 722.5M1144.9 722.0L1146.0 719.9M1147.2 723.9L1149.1 722.4M1148.5 726.6L1150.8 726.0M1148.6 729.5L1151.0 729.9M1147.5 732.3L1149.5 733.6M1596.7 171.5L1594.7 170.2M1599.0 169.4L1597.7 167.3M1601.9 168.4L1601.5 166.0M1604.9 168.6L1605.6 166.3M1607.6 170.1L1609.2 168.2M1626.0 170.6L1623.6 170.4M1626.9 167.7L1624.8 166.5M1628.9 165.4L1627.5 163.4M1631.7 164.1L1631.2 161.7M1634.8 164.0L1635.3 161.7M1589.8 198.8L1588.0 197.2M1592.2 197.1L1591.3 194.9M1595.1 196.5L1595.1 194.1M1598.0 197.1L1599.0 194.9M1600.4 198.9L1602.2 197.3M1562.2 218.1L1559.8 218.0M1563.0 215.3L1560.8 214.1M1564.9 213.0L1563.4 211.1M1567.5 211.7L1566.9 209.4M1570.5 211.6L1570.9 209.2M1582.7 433.0L1580.6 434.3M1581.6 430.2L1579.2 430.6M1581.8 427.3L1579.5 426.6M1583.2 424.6L1581.3 423.1M1585.5 422.8L1584.4 420.6M1555.2 441.5L1552.9 442.2M1554.9 438.5L1552.6 438.1M1556.0 435.6L1554.0 434.3M1558.1 433.4L1556.8 431.4M1561.0 432.2L1560.6 429.8M1542.7 545.6L1542.0 547.9M1539.9 544.1L1538.4 546.0M1538.1 541.7L1535.9 542.7M1537.3 538.7L1534.9 538.8M1537.8 535.7L1535.6 534.8M1549.4 573.3L1547.9 575.1M1547.6 570.9L1545.4 571.9M1546.9 567.9L1544.5 567.9M1547.4 564.8L1545.2 563.9M1549.2 562.3L1547.6 560.6M1533.3 593.8L1531.2 594.9M1532.5 591.0L1530.1 591.1M1532.9 588.0L1530.6 587.2M1534.4 585.5L1532.7 583.8M1536.9 583.9L1536.0 581.6M1599.6 646.3L1601.9 646.6M1598.6 649.1L1600.7 650.3M1596.6 651.3L1598.0 653.2M1593.9 652.4L1594.3 654.8M1590.9 652.4L1590.4 654.7M1531.7 648.2L1531.9 650.6M1528.6 647.8L1527.8 650.1M1526.0 646.2L1524.3 648.0M1524.2 643.7L1522.0 644.6M1523.6 640.7L1521.2 640.6M1632.9 55.4L1630.5 55.6M1633.3 52.5L1631.0 51.7M1634.8 49.9L1633.0 48.3M1637.2 48.2L1636.3 46.0M1640.1 47.7L1640.2 45.3M1661.8 78.6L1661.5 81.0M1658.9 77.7L1657.7 79.8M1656.7 75.7L1654.8 77.2M1655.5 73.0L1653.2 73.5M1655.5 70.1L1653.2 69.6M1689.4 59.9L1688.7 57.7M1692.4 59.6L1692.6 57.2M1695.2 60.5L1696.4 58.4M1697.4 62.5L1699.3 61.0M1698.6 65.2L1701.0 64.6M1670.3 116.9L1668.9 118.9M1668.3 114.7L1666.2 116.0M1667.3 111.9L1664.9 112.2M1667.6 109.0L1665.3 108.3M1669.1 106.4L1667.3 104.8M1652.0 106.0L1651.1 108.3M1649.6 104.4L1647.8 106.0M1648.0 101.8L1645.8 102.6M1647.7 98.9L1645.3 98.7M1648.5 96.1L1646.4 94.9M1670.4 141.7L1668.5 143.1M1669.2 138.9L1666.9 139.4M1669.2 136.0L1666.9 135.5M1670.4 133.3L1668.5 131.9M1672.6 131.3L1671.4 129.2M1645.3 146.0L1643.1 147.1M1644.5 143.2L1642.1 143.2M1645.0 140.2L1642.8 139.3M1646.7 137.8L1645.0 136.1M1649.2 136.2L1648.4 134.0M1762.6 113.7L1762.2 111.4M1765.6 113.7L1766.1 111.4M1768.3 115.0L1769.7 113.1M1770.2 117.2L1772.3 116.0M1771.1 120.0L1773.5 119.8M1746.6 96.8L1746.8 94.4M1749.4 97.7L1750.6 95.6M1751.6 99.6L1753.6 98.2M1752.9 102.3L1755.2 101.8M1752.9 105.3L1755.3 105.8M1787.8 110.8L1786.7 108.7M1790.7 110.0L1790.5 107.6M1793.6 110.4L1794.4 108.1M1796.1 112.0L1797.8 110.2M1797.8 114.4L1800.0 113.5M1805.5 132.0L1803.8 130.3M1808.0 130.3L1807.1 128.1M1810.9 129.9L1811.0 127.5M1813.8 130.6L1814.8 128.5M1816.1 132.5L1817.9 131.0M1826.1 113.1L1824.0 112.1M1828.0 110.8L1826.4 109.0M1830.6 109.4L1830.0 107.1M1833.6 109.3L1833.9 106.9M1836.3 110.3L1837.6 108.3M1855.6 107.2L1853.2 107.1M1856.3 104.3L1854.1 103.3M1858.0 101.9L1856.5 100.1M1860.6 100.5L1859.9 98.2M1863.6 100.2L1863.9 97.8M1865.5 82.8L1863.3 83.8M1864.9 79.9L1862.5 79.9M1865.6 77.0L1863.5 76.0M1867.4 74.7L1865.9 72.9M1870.0 73.3L1869.4 71.0M1902.3 293.9L1904.4 294.9M1900.4 296.3L1901.9 298.1M1897.7 297.8L1898.3 300.1M1894.6 298.0L1894.3 300.4M1891.7 297.0L1890.4 299.0M1855.4 316.1L1857.8 315.5M1855.6 319.2L1858.0 319.6M1854.5 322.1L1856.5 323.4M1852.4 324.3L1853.7 326.3M1849.5 325.4L1849.9 327.7M1869.1 341.9L1871.2 340.6M1870.1 344.8L1872.5 344.5M1869.9 347.9L1872.2 348.6M1868.4 350.6L1870.2 352.1M1865.9 352.4L1866.9 354.6M1852.4 364.4L1853.7 362.5M1854.4 366.6L1856.5 365.4M1855.4 369.4L1857.7 369.1M1855.1 372.3L1857.4 373.1M1853.7 374.9L1855.5 376.5M1783.1 429.3L1785.4 428.7M1783.2 432.2L1785.6 432.6M1782.1 435.0L1784.1 436.3M1779.9 437.0L1781.2 439.0M1777.2 438.0L1777.5 440.4M1775.8 452.5L1777.9 451.2M1776.8 455.3L1779.2 455.0M1776.6 458.2L1778.9 458.9M1775.3 460.9L1777.1 462.4M1772.9 462.7L1774.0 464.8M1806.6 448.9L1808.9 448.1M1806.9 451.9L1809.3 452.2M1805.9 454.9L1808.0 456.1M1803.8 457.1L1805.2 459.1M1801.0 458.4L1801.5 460.7M1770.8 497.1L1771.8 494.9M1773.3 498.8L1775.0 497.2M1774.7 501.3L1777.0 500.6M1775.1 504.3L1777.5 504.5M1774.2 507.1L1776.3 508.3M1792.0 475.8L1793.5 473.9M1793.9 478.2L1796.1 477.1M1794.8 481.1L1797.2 481.0M1794.3 484.2L1796.6 485.0M1792.7 486.8L1794.4 488.5M1782.6 531.9L1785.0 531.7M1782.2 535.0L1784.5 535.8M1780.6 537.6L1782.3 539.3M1778.1 539.3L1779.0 541.6M1775.0 539.9L1775.0 542.3M1763.6 572.7L1765.3 571.0M1765.1 575.2L1767.4 574.4M1765.5 578.1L1767.9 578.3M1764.6 581.0L1766.7 582.1M1762.7 583.2L1764.1 585.1M1811.7 635.0L1810.3 633.1M1814.4 633.9L1813.9 631.5M1817.4 633.9L1817.9 631.6M1820.0 635.2L1821.5 633.3M1822.0 637.4L1824.1 636.2M1678.9 672.8L1678.7 675.2M1675.9 671.9L1674.8 674.1M1673.5 670.0L1671.6 671.4M1672.2 667.2L1669.8 667.8M1672.0 664.1L1669.7 663.7M1658.8 651.9L1659.9 654.0M1655.8 652.6L1655.9 655.0M1652.8 652.1L1651.9 654.3M1650.2 650.4L1648.5 652.0M1648.6 647.7L1646.3 648.6M1767.7 604.8L1768.4 602.6M1770.3 606.4L1771.9 604.6M1772.1 608.9L1774.3 607.9M1772.8 611.9L1775.2 611.9M1772.1 614.9L1774.3 615.9M1914.8 748.0L1916.9 749.3M1912.7 750.3L1914.1 752.2M1909.9 751.5L1910.3 753.8M1906.8 751.4L1906.2 753.7M1904.0 750.1L1902.5 752.0M1750.6 766.5L1749.7 768.7M1748.1 764.8L1746.4 766.4M1746.5 762.1L1744.2 762.9M1746.1 759.1L1743.7 758.9M1747.0 756.1L1744.9 755.0M1816.2 831.1L1815.8 833.4M1813.4 829.9L1812.0 831.9M1811.3 827.7L1809.2 828.9M1810.2 824.8L1807.8 825.1M1810.5 821.7L1808.2 821.0M1833.6 851.4L1832.3 853.5M1831.5 849.3L1829.5 850.7M1830.4 846.6L1828.1 847.0M1830.6 843.6L1828.3 843.0M1832.0 841.0L1830.1 839.5M1867.9 829.9L1868.3 827.5M1870.7 831.1L1872.1 829.1M1872.9 833.3L1874.9 832.0M1874.0 836.1L1876.4 835.8M1873.8 839.2L1876.1 839.9" stroke="#e0303a" stroke-width="0.7" fill="none"/>
<g font-family="Liberation Sans, sans-serif" font-size="4.6" fill="#444">
<text x="242.8" y="248.9">N1</text>
<text x="253.1" y="270.8">C2</text>
<text x="277.2" y="273.4">C3</text>
<text x="291.1" y="254.6">O4</text>
<text x="239.4" y="291.0">C5</text>
<text x="214.4" y="289.4">C6</text>
<text x="249.3" y="311.7">O7</text>
<text x="271.2" y="314.8">C8</text>
<text x="286.7" y="296.2">C9</text>
<text x="309.5" y="298.7">O10</text>
<text x="308.2" y="322.5">C11</text>
<text x="286.7" y="329.0">O12</text>
<text x="279.5" y="350.2">C13</text>
<text x="254.9" y="354.8">C14</text>
<text x="253.1" y="378.6">O15</text>
<text x="259.1" y="337.5">C16</text>
<text x="236.3" y="333.6">O17</text>
<text x="294.5" y="369.0">C18</text>
<text x="318.5" y="363.9">C19</text>
<text x="325.5" y="340.6">C20</text>
<text x="348.7" y="333.6">N21</text>
<text x="363.7" y="354.0">C22</text>
<text x="389.6" y="347.1">C23</text>
<text x="383.1" y="320.7">C24</text>
<text x="412.8" y="330.8">C25</text>
<text x="414.1" y="304.9">C26</text>
<text x="396.0" y="371.6">C27</text>
<text x="415.2" y="378.1">O28</text>
<text x="380.3" y="387.9">O29</text>
<text x="357.8" y="385.1">C30</text>
<text x="345.6" y="407.0">C31</text>
<text x="321.6" y="404.7">N32</text>
<text x="310.0" y="383.8">C33</text>
<text x="306.1" y="423.3">C34</text>
<text x="334.0" y="380.7">O35</text>
<text x="295.3" y="393.1">O36</text>
<text x="282.9" y="413.0">C37</text>
<text x="260.4" y="412.2">O38</text>
<text x="246.7" y="429.8">C39</text>
<text x="223.9" y="440.1">C40</text>
<text x="226.5" y="463.3">O1</text>
<text x="257.0" y="451.7">C2</text>
<text x="281.0" y="453.8">C3</text>
<text x="294.5" y="435.4">C4</text>
<text x="319.0" y="435.4">N5</text>
<text x="319.0" y="270.8">C6</text>
<text x="336.6" y="257.1">O7</text>
<text x="331.2" y="293.3">C8</text>
<text x="354.7" y="291.0">N9</text>
<text x="363.0" y="267.7">C10</text>
<text x="373.3" y="306.2">C11</text>
<text x="390.6" y="264.4">C12</text>
<text x="377.7" y="286.3">C13</text>
<text x="412.8" y="278.1">C14</text>
<text x="388.8" y="302.4">C15</text>
<text x="369.4" y="250.2">C16</text>
<text x="439.2" y="307.0">C17</text>
<text x="451.6" y="290.7">O18</text>
<text x="441.8" y="329.0">O19</text>
<text x="427.6" y="347.6">C20</text>
<text x="436.1" y="371.6">C21</text>
<text x="459.9" y="367.7">N22</text>
<text x="471.5" y="345.8">C23</text>
<text x="477.4" y="385.8">C24</text>
<text x="424.5" y="248.1">O25</text>
<text x="435.3" y="268.3">C26</text>
<text x="459.9" y="269.5">C27</text>
<text x="468.4" y="292.3">N28</text>
<text x="492.2" y="298.7">C29</text>
<text x="454.7" y="312.2">C30</text>
<text x="223.5" y="170.3">N31</text>
<text x="237.2" y="190.9">C32</text>
<text x="262.8" y="191.5">C33</text>
<text x="273.3" y="209.8">O34</text>
<text x="221.7" y="210.8">C35</text>
<text x="196.9" y="205.7">C36</text>
<text x="183.4" y="226.3">C37</text>
<text x="195.8" y="248.6">C38</text>
<text x="180.8" y="267.7">N39</text>
<text x="353.4" y="145.7">O40</text>
<text x="353.4" y="166.4">C1</text>
<text x="334.1" y="177.2">O2</text>
<text x="313.4" y="167.7">C3</text>
<text x="299.7" y="189.1">C4</text>
<text x="313.4" y="209.8">N5</text>
<text x="337.2" y="209.8">C6</text>
<text x="304.1" y="232.3">C7</text>
<text x="375.4" y="178.8">C8</text>
<text x="392.7" y="158.1">C9</text>
<text x="396.1" y="196.1">C10</text>
<text x="359.1" y="200.0">C11</text>
<text x="363.5" y="225.8">C12</text>
<text x="388.9" y="220.1">C13</text>
<text x="394.0" y="225.3">O14</text>
<text x="403.6" y="243.1">C15</text>
<text x="340.3" y="234.4">C16</text>
<text x="324.3" y="222.0">O17</text>
<text x="190.5" y="368.6">C18</text>
<text x="210.9" y="364.0">O19</text>
<text x="183.3" y="393.2">C20</text>
<text x="160.0" y="401.5">N21</text>
<text x="198.0" y="413.9">C22</text>
<text x="182.0" y="438.9">S23</text>
<text x="91.0" y="389.3">O24</text>
<text x="79.9" y="406.6">C25</text>
<text x="58.5" y="404.8">N26</text>
<text x="91.0" y="428.9">C27</text>
<text x="116.9" y="429.4">C28</text>
<text x="123.9" y="406.1">N29</text>
<text x="132.1" y="450.8">C30</text>
<text x="152.3" y="448.0">O31</text>
<text x="78.1" y="458.3">N32</text>
<text x="89.5" y="480.5">C33</text>
<text x="114.3" y="477.7">C34</text>
<text x="127.2" y="499.1">C35</text>
<text x="152.3" y="495.3">C36</text>
<text x="160.0" y="474.1">N37</text>
<text x="165.2" y="511.5">O38</text>
<text x="78.1" y="503.0">C39</text>
<text x="89.0" y="518.5">O40</text>
<text x="291.0" y="475.9">O1</text>
<text x="242.7" y="471.5">O2</text>
<text x="254.4" y="492.7">C3</text>
<text x="275.0" y="489.6">O4</text>
<text x="291.8" y="503.0">C5</text>
<text x="225.2" y="480.3">O6</text>
<text x="213.0" y="497.8">C7</text>
<text x="189.0" y="494.5">C8</text>
<text x="223.3" y="516.7">N9</text>
<text x="246.6" y="515.9">C10</text>
<text x="207.7" y="593.2">N11</text>
<text x="194.3" y="610.0">C12</text>
<text x="174.4" y="606.9">O13</text>
<text x="203.3" y="633.8">C14</text>
<text x="184.7" y="651.3">C15</text>
<text x="192.4" y="675.9">C16</text>
<text x="216.2" y="675.4">N17</text>
<text x="176.9" y="696.0">C18</text>
<text x="156.8" y="694.0">O19</text>
<text x="264.0" y="532.5">C20</text>
<text x="286.8" y="528.6">C21</text>
<text x="257.0" y="555.7">O22</text>
<text x="299.7" y="548.5">O23</text>
<text x="287.8" y="568.6">C24</text>
<text x="266.6" y="568.6">O25</text>
<text x="250.6" y="584.7">C26</text>
<text x="260.9" y="607.9">C27</text>
<text x="282.9" y="609.5">C28</text>
<text x="298.9" y="591.9">C29</text>
<text x="233.0" y="548.5">O30</text>
<text x="229.1" y="571.7">C31</text>
<text x="246.4" y="628.9">C32</text>
<text x="292.4" y="631.2">O33</text>
<text x="322.2" y="595.8">N34</text>
<text x="276.9" y="624.2">F35</text>
<text x="271.8" y="648.0">N36</text>
<text x="247.7" y="651.3">F37</text>
<text x="291.1" y="663.0">F38</text>
<text x="310.5" y="646.2">F39</text>
<text x="328.6" y="618.8">C40</text>
<text x="354.5" y="623.5">C1</text>
<text x="359.7" y="596.3">C2</text>
<text x="382.4" y="628.6">C3</text>
<text x="401.8" y="611.3">C4</text>
<text x="385.0" y="591.7">C5</text>
<text x="421.1" y="595.1">C6</text>
<text x="418.0" y="568.4">C7</text>
<text x="393.2" y="571.8">C8</text>
<text x="442.6" y="565.3">F9</text>
<text x="439.2" y="603.6">F10</text>
<text x="418.0" y="630.7">F11</text>
<text x="437.2" y="626.8">O12</text>
<text x="410.8" y="651.9">O13</text>
<text x="388.9" y="657.8">F14</text>
<text x="387.6" y="683.4">F15</text>
<text x="363.5" y="688.6">N16</text>
<text x="350.1" y="667.4">F17</text>
<text x="349.3" y="708.0">F18</text>
<text x="350.1" y="649.3">F19</text>
<text x="364.8" y="662.8">O20</text>
<text x="329.4" y="657.8">O21</text>
<text x="427.6" y="646.0">F22</text>
<text x="452.2" y="641.6">N23</text>
<text x="322.8" y="475.4">O24</text>
<text x="316.3" y="498.6">C25</text>
<text x="313.8" y="514.1">O26</text>
<text x="333.9" y="513.6">C27</text>
<text x="346.1" y="495.3">O28</text>
<text x="369.3" y="496.1">C29</text>
<text x="378.4" y="472.3">C30</text>
<text x="402.4" y="471.5">N31</text>
<text x="416.6" y="451.4">C32</text>
<text x="416.6" y="492.2">C33</text>
<text x="347.4" y="534.8">C34</text>
<text x="326.2" y="549.0">C35</text>
<text x="361.6" y="556.3">C36</text>
<text x="368.5" y="520.1">C37</text>
<text x="391.8" y="530.9">C38</text>
<text x="406.3" y="510.8">C39</text>
<text x="398.3" y="492.7">O40</text>
<text x="428.0" y="513.4">O1</text>
<text x="445.5" y="527.8">C2</text>
<text x="470.6" y="526.6">C3</text>
<text x="490.2" y="541.8">N4</text>
<text x="514.5" y="537.9">F5</text>
<text x="485.6" y="566.3">F6</text>
<text x="380.9" y="555.0">C7</text>
<text x="415.3" y="542.6">C8</text>
<text x="450.7" y="547.0">O9</text>
<text x="452.8" y="585.7">O10</text>
<text x="459.8" y="618.8">F11</text>
<text x="464.3" y="660.7">F12</text>
<text x="934.1" y="178.2">C13</text>
<text x="942.9" y="205.1">N14</text>
<text x="970.8" y="206.7">C15</text>
<text x="922.2" y="224.0">C16</text>
<text x="933.3" y="248.5">C17</text>
<text x="773.9" y="266.4">O18</text>
<text x="796.3" y="251.7">C19</text>
<text x="818.3" y="269.8">C20</text>
<text x="808.0" y="296.1">N21</text>
<text x="846.2" y="263.0">C22</text>
<text x="854.0" y="240.6">O23</text>
<text x="918.3" y="274.1">O24</text>
<text x="929.4" y="297.9">C25</text>
<text x="915.2" y="316.3">O26</text>
<text x="958.4" y="301.3">C27</text>
<text x="988.9" y="304.6">C28</text>
<text x="955.3" y="331.8">C29</text>
<text x="961.7" y="269.8">C30</text>
<text x="989.6" y="258.1">C31</text>
<text x="1017.3" y="246.2">C32</text>
<text x="1041.8" y="263.8">C33</text>
<text x="1025.0" y="287.8">C34</text>
<text x="1001.0" y="285.3">C35</text>
<text x="978.5" y="231.5">C36</text>
<text x="955.3" y="228.9">O37</text>
<text x="994.0" y="210.8">O38</text>
<text x="1019.9" y="216.8">C39</text>
<text x="1034.8" y="191.5">C40</text>
<text x="881.6" y="287.8">O1</text>
<text x="904.9" y="301.3">C2</text>
<text x="889.4" y="326.3">C3</text>
<text x="863.5" y="325.8">O4</text>
<text x="848.0" y="347.0">C5</text>
<text x="819.1" y="344.4">C6</text>
<text x="859.7" y="372.9">C7</text>
<text x="843.6" y="395.6">N8</text>
<text x="887.6" y="374.4">C9</text>
<text x="899.7" y="398.7">O10</text>
<text x="903.1" y="351.1">C11</text>
<text x="930.2" y="351.7">O12</text>
<text x="939.8" y="378.0">C13</text>
<text x="920.4" y="394.3">O14</text>
<text x="966.4" y="387.3">C15</text>
<text x="988.3" y="369.0">N16</text>
<text x="1013.4" y="382.2">C17</text>
<text x="1036.7" y="362.0">C18</text>
<text x="1017.3" y="338.7">C19</text>
<text x="802.8" y="466.6">S20</text>
<text x="824.0" y="439.4">C21</text>
<text x="850.6" y="449.8">C22</text>
<text x="869.5" y="428.3">N23</text>
<text x="857.6" y="476.9">C24</text>
<text x="880.3" y="483.9">O25</text>
<text x="923.0" y="420.0">C26</text>
<text x="902.8" y="441.2">C27</text>
<text x="906.2" y="467.8">O28</text>
<text x="948.0" y="432.2">C29</text>
<text x="950.9" y="458.8">O30</text>
<text x="976.7" y="468.9">C31</text>
<text x="996.6" y="451.6">O32</text>
<text x="1021.1" y="458.5">C33</text>
<text x="1034.1" y="432.7">C34</text>
<text x="1014.2" y="414.6">O35</text>
<text x="970.8" y="415.4">C36</text>
<text x="995.8" y="424.9">O37</text>
<text x="981.1" y="496.3">C38</text>
<text x="959.9" y="514.1">N39</text>
<text x="1007.7" y="505.3">C40</text>
<text x="1013.4" y="531.7">O1</text>
<text x="1027.6" y="485.9">C2</text>
<text x="1052.2" y="493.7">O3</text>
<text x="841.6" y="531.7">F4</text>
<text x="862.2" y="549.8">N5</text>
<text x="886.8" y="537.6">F6</text>
<text x="859.1" y="578.2">C7</text>
<text x="884.2" y="589.8">C8</text>
<text x="890.1" y="517.5">C9</text>
<text x="905.6" y="541.5">N10</text>
<text x="888.6" y="563.4">C11</text>
<text x="933.3" y="541.5">C12</text>
<text x="943.6" y="569.1">C13</text>
<text x="970.2" y="569.1">O14</text>
<text x="988.3" y="585.9">C15</text>
<text x="1009.0" y="576.9">O16</text>
<text x="994.0" y="523.4">O17</text>
<text x="997.9" y="551.0">C18</text>
<text x="1026.3" y="554.9">C19</text>
<text x="1034.8" y="532.2">O20</text>
<text x="1047.0" y="575.6">C21</text>
<text x="897.1" y="615.3">O22</text>
<text x="923.0" y="613.5">C23</text>
<text x="932.8" y="592.8">O24</text>
<text x="939.0" y="637.2">C25</text>
<text x="956.6" y="613.5">C26</text>
<text x="985.7" y="615.3">C27</text>
<text x="1016.0" y="617.9">C28</text>
<text x="983.7" y="645.3">C29</text>
<text x="963.0" y="654.8">C30</text>
<text x="921.7" y="661.8">C31</text>
<text x="932.8" y="689.7">C32</text>
<text x="959.9" y="678.1">C33</text>
<text x="904.1" y="695.4">F34</text>
<text x="897.1" y="717.4">O35</text>
<text x="884.2" y="679.4">O36</text>
<text x="858.9" y="680.7">F37</text>
<text x="851.9" y="652.2">F38</text>
<text x="877.2" y="640.6">N39</text>
<text x="877.2" y="612.7">F40</text>
<text x="904.1" y="650.2">F1</text>
<text x="943.6" y="716.8">C2</text>
<text x="972.8" y="722.8">C3</text>
<text x="979.0" y="693.6">C4</text>
<text x="1002.5" y="729.0">C5</text>
<text x="1026.8" y="709.1">C6</text>
<text x="1007.7" y="685.3">C7</text>
<text x="1050.9" y="689.7">C8</text>
<text x="1043.9" y="662.1">N9</text>
<text x="1047.0" y="731.6">F10</text>
<text x="1038.5" y="753.8">O11</text>
<text x="966.9" y="750.9">F12</text>
<text x="945.7" y="759.0">O13</text>
<text x="986.3" y="766.7">O14</text>
<text x="1012.6" y="762.1">F15</text>
<text x="1041.3" y="602.4">O16</text>
<text x="1027.9" y="787.8">F17</text>
<text x="1053.7" y="777.4">N18</text>
<text x="1066.1" y="752.9">F19</text>
<text x="1073.9" y="797.8">F20</text>
<text x="1071.3" y="729.6">O21</text>
<text x="1079.6" y="704.3">F22</text>
<text x="1062.4" y="195.5">N23</text>
<text x="1078.1" y="172.8">C24</text>
<text x="1079.4" y="218.3">C25</text>
<text x="1052.3" y="217.8">O26</text>
<text x="1058.0" y="240.6">C27</text>
<text x="1082.5" y="247.0">O28</text>
<text x="1092.9" y="271.0">C29</text>
<text x="1121.8" y="269.0">C30</text>
<text x="1129.5" y="296.1">N31</text>
<text x="1154.1" y="309.8">C32</text>
<text x="1108.4" y="315.0">C33</text>
<text x="1066.2" y="281.1">C34</text>
<text x="1061.1" y="311.1">C35</text>
<text x="1030.8" y="311.1">C36</text>
<text x="1089.8" y="311.1">C37</text>
<text x="1101.9" y="290.2">O38</text>
<text x="1102.7" y="333.1">O39</text>
<text x="1092.9" y="356.8">C40</text>
<text x="1114.0" y="377.5">C1</text>
<text x="1137.6" y="361.5">N2</text>
<text x="1132.9" y="333.1">C3</text>
<text x="1165.2" y="367.2">C4</text>
<text x="1061.1" y="341.3">C5</text>
<text x="1056.2" y="384.5">C6</text>
<text x="1079.4" y="380.6">O7</text>
<text x="1048.2" y="407.2">O8</text>
<text x="1150.2" y="390.8">O9</text>
<text x="1149.7" y="414.1">C10</text>
<text x="1126.4" y="427.8">N11</text>
<text x="1174.3" y="428.3">C12</text>
<text x="1168.3" y="457.2">C13</text>
<text x="1192.9" y="469.7">N14</text>
<text x="1142.7" y="469.7">C15</text>
<text x="1143.8" y="492.9">O16</text>
<text x="1256.4" y="488.3">S17</text>
<text x="1266.5" y="521.3">C18</text>
<text x="1242.2" y="537.6">C19</text>
<text x="1216.4" y="527.3">C20</text>
<text x="1198.0" y="542.5">O21</text>
<text x="1248.7" y="564.5">N22</text>
<text x="1067.0" y="427.0">C23</text>
<text x="1055.9" y="454.1">C24</text>
<text x="1081.2" y="466.6">N25</text>
<text x="1099.8" y="445.9">C26</text>
<text x="1094.1" y="491.1">C27</text>
<text x="1055.9" y="520.6">C28</text>
<text x="1072.2" y="564.7">C29</text>
<text x="1079.4" y="539.4">C30</text>
<text x="1106.3" y="534.8">N31</text>
<text x="1097.2" y="509.7">C32</text>
<text x="1074.3" y="505.3">O33</text>
<text x="1116.1" y="488.3">C34</text>
<text x="1092.9" y="582.8">O35</text>
<text x="1273.7" y="582.0">C36</text>
<text x="1253.1" y="602.4">C37</text>
<text x="1226.7" y="592.3">C38</text>
<text x="1259.0" y="631.6">C39</text>
<text x="1286.1" y="636.0">N40</text>
<text x="1239.4" y="651.7">C1</text>
<text x="1215.6" y="647.8">O2</text>
<text x="1065.7" y="616.1">C3</text>
<text x="1086.9" y="604.9">O4</text>
<text x="1111.7" y="612.7">C5</text>
<text x="1134.2" y="594.6">C6</text>
<text x="1131.6" y="567.7">O7</text>
<text x="1114.3" y="641.9">C8</text>
<text x="1140.1" y="654.8">C9</text>
<text x="1092.3" y="654.8">C10</text>
<text x="1094.9" y="682.0">O11</text>
<text x="1066.5" y="645.8">C12</text>
<text x="1098.5" y="727.7">F13</text>
<text x="1121.3" y="710.4">N14</text>
<text x="1125.2" y="683.2">F15</text>
<text x="1146.6" y="723.3">F16</text>
<text x="1533.7" y="197.3">N17</text>
<text x="1524.4" y="224.9">C18</text>
<text x="1493.6" y="226.5">C19</text>
<text x="1478.6" y="258.0">S20</text>
<text x="1543.2" y="248.2">C21</text>
<text x="1567.8" y="245.1">O22</text>
<text x="1499.3" y="283.9">O23</text>
<text x="1485.6" y="304.5">C24</text>
<text x="1460.0" y="304.5">O25</text>
<text x="1500.1" y="330.4">C26</text>
<text x="1530.8" y="328.3">C27</text>
<text x="1538.6" y="299.9">N28</text>
<text x="1550.5" y="351.0">C29</text>
<text x="1574.3" y="346.7">O30</text>
<text x="1598.0" y="359.3">N31</text>
<text x="1609.7" y="334.3">C32</text>
<text x="1639.6" y="334.3">C33</text>
<text x="1651.8" y="355.7">O34</text>
<text x="1607.8" y="170.7">C35</text>
<text x="1638.3" y="166.3">C36</text>
<text x="1642.2" y="193.9">O37</text>
<text x="1660.8" y="213.3">C38</text>
<text x="1688.7" y="202.0">C39</text>
<text x="1682.0" y="171.5">C40</text>
<text x="1600.1" y="198.6">N1</text>
<text x="1574.3" y="213.6">F2</text>
<text x="1623.3" y="217.2">F3</text>
<text x="1656.4" y="237.4">O4</text>
<text x="1677.6" y="242.5">C5</text>
<text x="1651.8" y="260.1">C6</text>
<text x="1647.9" y="289.8">N7</text>
<text x="1619.5" y="298.1">C8</text>
<text x="1666.0" y="313.1">C9</text>
<text x="1533.4" y="463.7">N10</text>
<text x="1504.0" y="467.3">C11</text>
<text x="1497.2" y="497.0">C12</text>
<text x="1515.6" y="513.8">O13</text>
<text x="1593.6" y="424.1">O14</text>
<text x="1567.3" y="434.5">C15</text>
<text x="1582.0" y="461.6">C16</text>
<text x="1610.9" y="452.6">C17</text>
<text x="1616.9" y="424.7">O18</text>
<text x="1632.4" y="472.5">C19</text>
<text x="1624.1" y="500.9">C20</text>
<text x="1594.9" y="507.6">C21</text>
<text x="1575.5" y="488.7">O22</text>
<text x="1573.5" y="515.9">O23</text>
<text x="1549.7" y="533.4">C24</text>
<text x="1596.7" y="536.3">O25</text>
<text x="1589.2" y="564.3">C26</text>
<text x="1559.3" y="562.7">C27</text>
<text x="1544.5" y="585.4">O28</text>
<text x="1554.9" y="611.3">C29</text>
<text x="1585.1" y="614.6">C30</text>
<text x="1602.7" y="591.1">C31</text>
<text x="1631.6" y="593.2">O32</text>
<text x="1597.5" y="640.5">N33</text>
<text x="1536.0" y="635.8">C34</text>
<text x="1645.0" y="49.8">F35</text>
<text x="1667.5" y="66.6">N36</text>
<text x="1696.7" y="61.7">F37</text>
<text x="1703.1" y="91.9">F38</text>
<text x="1679.4" y="106.1">O39</text>
<text x="1659.7" y="94.5">F40</text>
<text x="1681.2" y="132.5">F1</text>
<text x="1656.6" y="137.9">O2</text>
<text x="1705.7" y="150.8">C3</text>
<text x="1732.1" y="133.2">C4</text>
<text x="1761.8" y="145.4">C5</text>
<text x="1793.1" y="152.1">C6</text>
<text x="1808.6" y="182.3">C7</text>
<text x="1779.9" y="195.8">C8</text>
<text x="1718.1" y="190.9">C9</text>
<text x="1727.2" y="172.5">C10</text>
<text x="1755.3" y="175.9">C11</text>
<text x="1769.0" y="115.7">F12</text>
<text x="1750.9" y="98.9">O13</text>
<text x="1796.2" y="112.1">O14</text>
<text x="1815.5" y="132.0">F15</text>
<text x="1837.5" y="111.3">F16</text>
<text x="1867.7" y="102.2">N17</text>
<text x="1877.0" y="75.1">F18</text>
<text x="1890.5" y="121.6">F19</text>
<text x="1836.7" y="168.6">F20</text>
<text x="1835.7" y="143.1">O21</text>
<text x="1863.3" y="177.2">O22</text>
<text x="1865.9" y="204.3">F23</text>
<text x="1896.9" y="210.8">F24</text>
<text x="1823.3" y="210.8">C25</text>
<text x="1896.7" y="241.2">N26</text>
<text x="1925.1" y="248.2">F27</text>
<text x="1879.4" y="264.5">F28</text>
<text x="1808.9" y="236.8">N29</text>
<text x="1823.6" y="262.7">C30</text>
<text x="1852.8" y="264.5">C31</text>
<text x="1867.0" y="239.9">O32</text>
<text x="1868.3" y="287.0">C33</text>
<text x="1900.6" y="285.7">C34</text>
<text x="1853.3" y="313.1">C35</text>
<text x="1825.7" y="311.0">O36</text>
<text x="1809.6" y="290.3">C37</text>
<text x="1867.8" y="340.7">C38</text>
<text x="1853.3" y="365.3">O39</text>
<text x="1700.1" y="231.7">C40</text>
<text x="1731.7" y="236.8">C1</text>
<text x="1737.4" y="206.3">C2</text>
<text x="1763.2" y="242.0">C3</text>
<text x="1721.3" y="265.8">C4</text>
<text x="1693.7" y="265.3">O5</text>
<text x="1736.8" y="283.9">O6</text>
<text x="1685.7" y="296.8">O7</text>
<text x="1712.8" y="286.4">C8</text>
<text x="1733.0" y="310.2">C9</text>
<text x="1764.0" y="305.3">C10</text>
<text x="1781.5" y="282.6">O11</text>
<text x="1778.7" y="330.9">C12</text>
<text x="1807.1" y="328.6">O13</text>
<text x="1767.3" y="357.0">C14</text>
<text x="1736.1" y="357.5">C15</text>
<text x="1725.2" y="334.8">O16</text>
<text x="1788.0" y="376.9">N17</text>
<text x="1725.2" y="384.1">O18</text>
<text x="1696.8" y="387.7">C19</text>
<text x="1673.0" y="370.9">C20</text>
<text x="1676.6" y="343.3">O21</text>
<text x="1645.9" y="382.1">C22</text>
<text x="1621.1" y="365.8">N23</text>
<text x="1901.4" y="431.9">N24</text>
<text x="1914.8" y="410.5">C25</text>
<text x="1940.6" y="416.4">N26</text>
<text x="1943.2" y="443.5">C27</text>
<text x="1917.4" y="453.3">C28</text>
<text x="1909.6" y="481.8">C29</text>
<text x="1932.9" y="501.7">C30</text>
<text x="1962.6" y="495.2">C31</text>
<text x="1979.4" y="512.0">O32</text>
<text x="1921.8" y="528.3">N33</text>
<text x="1775.3" y="402.7">C34</text>
<text x="1746.1" y="395.7">C35</text>
<text x="1781.2" y="426.0">O36</text>
<text x="1691.6" y="418.5">C37</text>
<text x="1665.8" y="427.2">O38</text>
<text x="1642.5" y="412.0">C39</text>
<text x="1703.2" y="446.9">C40</text>
<text x="1731.7" y="440.4">O1</text>
<text x="1660.1" y="464.7">O2</text>
<text x="1645.9" y="521.6">N3</text>
<text x="1673.5" y="512.0">C4</text>
<text x="1696.8" y="534.5">C5</text>
<text x="1674.3" y="555.9">C6</text>
<text x="1720.0" y="513.8">C7</text>
<text x="1714.1" y="487.5">O8</text>
<text x="1733.0" y="466.8">C9</text>
<text x="1761.9" y="477.9">C10</text>
<text x="1774.8" y="451.3">N11</text>
<text x="1760.1" y="425.4">C12</text>
<text x="1804.5" y="446.1">C13</text>
<text x="1743.8" y="519.8">O14</text>
<text x="1720.8" y="556.7">C15</text>
<text x="1745.1" y="489.3">C16</text>
<text x="1773.0" y="498.6">N17</text>
<text x="1792.4" y="476.6">C18</text>
<text x="1780.2" y="527.5">C19</text>
<text x="1756.2" y="546.9">C20</text>
<text x="1717.4" y="591.1">C21</text>
<text x="1685.9" y="588.0">C22</text>
<text x="1747.9" y="594.5">C23</text>
<text x="1763.4" y="572.5">O24</text>
<text x="1758.2" y="615.9">O25</text>
<text x="1724.6" y="621.6">C26</text>
<text x="1754.4" y="633.8">C27</text>
<text x="1784.1" y="644.4">C28</text>
<text x="1789.8" y="675.9">C29</text>
<text x="1816.1" y="660.4">C30</text>
<text x="1820.8" y="635.8">O31</text>
<text x="1837.6" y="677.2">O32</text>
<text x="1864.7" y="670.7">C33</text>
<text x="1890.0" y="687.5">C34</text>
<text x="1894.4" y="717.2">N35</text>
<text x="1733.4" y="656.0">C36</text>
<text x="1708.4" y="645.6">O37</text>
<text x="1684.3" y="660.4">C38</text>
<text x="1660.6" y="640.2">C39</text>
<text x="1674.8" y="614.4">N40</text>
<text x="1661.8" y="588.0">C1</text>
<text x="1704.5" y="611.3">C2</text>
<text x="1741.4" y="679.0">O3</text>
<text x="1760.0" y="686.2">C4</text>
<text x="1800.9" y="704.8">C5</text>
<text x="1770.4" y="606.9">C6</text>
<text x="1596.0" y="591.1">C7</text>
<text x="1865.2" y="728.1">C8</text>
<text x="1913.5" y="739.2">C9</text>
<text x="1779.1" y="730.1">C10</text>
<text x="1754.1" y="709.0">C11</text>
<text x="1758.5" y="754.7">C12</text>
<text x="1803.2" y="750.3">C13</text>
<text x="1827.0" y="741.8">O14</text>
<text x="1812.7" y="775.4">O15</text>
<text x="1836.0" y="790.9">C16</text>
<text x="1822.6" y="818.8">C17</text>
<text x="1842.5" y="840.5">N18</text>
<text x="1871.7" y="832.2">C19</text>
</g>
<rect x="263.7" y="233.4" width="25.8" height="7.8" fill="#fff" stroke="#9c9" stroke-width="0.6"/>
<text x="276.6" y="239.3" font-family="Liberation Mono, monospace" font-size="6" fill="#4a4" text-anchor="middle">2.95</text>
<rect x="213.2" y="372.4" width="27.1" height="8.3" fill="#fff" stroke="#9c9" stroke-width="0.6"/>
<text x="226.7" y="378.5" font-family="Liberation Mono, monospace" font-size="6" fill="#4a4" text-anchor="middle">2.77</text>
<rect x="169.3" y="457.6" width="28.4" height="7.8" fill="#fff" stroke="#9c9" stroke-width="0.6"/>
<text x="183.5" y="463.5" font-family="Liberation Mono, monospace" font-size="6" fill="#4a4" text-anchor="middle">2.79</text>
<rect x="172.6" y="471.1" width="28.9" height="7.8" fill="#fff" stroke="#9c9" stroke-width="0.6"/>
<text x="187.1" y="476.9" font-family="Liberation Mono, monospace" font-size="6" fill="#4a4" text-anchor="middle">2.72</text>
<rect x="217.7" y="582.7" width="22.0" height="7.8" fill="#fff" stroke="#9c9" stroke-width="0.6"/>
<rect x="849.5" y="265.5" width="24.5" height="7.8" fill="#fff" stroke="#9c9" stroke-width="0.6"/>
<text x="861.8" y="271.3" font-family="Liberation Mono, monospace" font-size="6" fill="#4a4" text-anchor="middle">2.75</text>
<rect x="921.8" y="456.0" width="19.4" height="7.8" fill="#fff" stroke="#9c9" stroke-width="0.6"/>
<text x="931.5" y="461.9" font-family="Liberation Mono, monospace" font-size="6" fill="#4a4" text-anchor="middle">2.74</text>
<rect x="1132.3" y="531.5" width="24.0" height="7.8" fill="#fff" stroke="#9c9" stroke-width="0.6"/>
<rect x="1196.4" y="561.2" width="24.5" height="8.3" fill="#fff" stroke="#9c9" stroke-width="0.6"/>
<rect x="1028.4" y="444.4" width="18.1" height="7.8" fill="#fff" stroke="#9c9" stroke-width="0.6"/>
<rect x="1140.8" y="666.3" width="21.4" height="7.8" fill="#fff" stroke="#9c9" stroke-width="0.6"/>
<text x="1151.6" y="672.2" font-family="Liberation Mono, monospace" font-size="6" fill="#4a4" text-anchor="middle">2.76</text>
<rect x="1599.0" y="248.8" width="16.8" height="7.8" fill="#fff" stroke="#9c9" stroke-width="0.6"/>
<text x="1607.4" y="254.7" font-family="Liberation Mono, monospace" font-size="6" fill="#4a4" text-anchor="middle">3.08</text>
<rect x="1610.6" y="273.4" width="20.7" height="7.8" fill="#fff" stroke="#9c9" stroke-width="0.6"/>
<text x="1620.9" y="279.2" font-family="Liberation Mono, monospace" font-size="6" fill="#4a4" text-anchor="middle">2.91</text>
<rect x="1651.9" y="327.1" width="20.7" height="8.3" fill="#fff" stroke="#9c9" stroke-width="0.6"/>
<text x="1662.3" y="333.2" font-family="Liberation Mono, monospace" font-size="6" fill="#4a4" text-anchor="middle">2.72</text>
<rect x="1536.4" y="491.9" width="21.7" height="7.8" fill="#fff" stroke="#9c9" stroke-width="0.6"/>
<text x="1547.3" y="497.8" font-family="Liberation Mono, monospace" font-size="6" fill="#4a4" text-anchor="middle">3.28</text>
<rect x="1527.4" y="517.0" width="22.0" height="7.8" fill="#fff" stroke="#9c9" stroke-width="0.6"/>
<text x="1538.4" y="522.9" font-family="Liberation Mono, monospace" font-size="6" fill="#4a4" text-anchor="middle">2.52</text>
<rect x="1601.6" y="407.7" width="21.2" height="8.5" fill="#fff" stroke="#9c9" stroke-width="0.6"/>
<text x="1612.1" y="414.0" font-family="Liberation Mono, monospace" font-size="6" fill="#4a4" text-anchor="middle">2.59</text>
<rect x="1800.0" y="437.7" width="20.7" height="8.3" fill="#fff" stroke="#9c9" stroke-width="0.6"/>
<text x="1810.3" y="435.1" font-family="Liberation Mono, monospace" font-size="6" fill="#5aa85a" text-anchor="middle">3.19</text>
<text x="1157.6" y="555.3" font-family="Liberation Mono, monospace" font-size="6" fill="#5aa85a" text-anchor="middle">2.72</text>
<text x="1180.9" y="581.9" font-family="Liberation Mono, monospace" font-size="6" fill="#5aa85a" text-anchor="middle">2.82</text>
<text x="1036.2" y="459.7" font-family="Liberation Mono, monospace" font-size="6" fill="#5aa85a" text-anchor="middle">3.21</text>
<text x="1120.2" y="548.3" font-family="Liberation Mono, monospace" font-size="6" fill="#5aa85a" text-anchor="middle">3.21</text>
<text x="230.6" y="600.0" font-family="Liberation Mono, monospace" font-size="6" fill="#5aa85a" text-anchor="middle">2.93</text>
<text x="195.2" y="238.6" font-family="Liberation Sans, Arial, sans-serif" font-size="13.35" font-weight="normal" fill="#2a8a5a">Lys64</text>
<text x="258.0" y="139.1" font-family="Liberation Sans, Arial, sans-serif" font-size="13.35" font-weight="normal" fill="#1a1a1a">Tyr61</text>
<text x="384.6" y="120.2" font-family="Liberation Sans, Arial, sans-serif" font-size="13.35" font-weight="normal" fill="#1a1a1a">Ile203</text>
<text x="449.1" y="146.8" font-family="Liberation Sans, Arial, sans-serif" font-size="13.35" font-weight="normal" fill="#1a1a1a">Asp204</text>
<text x="493.8" y="193.9" font-family="Liberation Sans, Arial, sans-serif" font-size="13.35" font-weight="normal" fill="#1a1a1a">Gly65</text>
<text x="426.6" y="212.7" font-family="Liberation Sans, Arial, sans-serif" font-size="13.35" font-weight="normal" fill="#1a1a1a">Trp67</text>
<text x="487.3" y="259.3" font-family="Liberation Sans, Arial, sans-serif" font-size="13.35" font-weight="normal" fill="#1a1a1a">Asn157</text>
<text x="552.5" y="301.7" font-family="Liberation Sans, Arial, sans-serif" font-size="13.35" font-weight="normal" fill="#1a1a1a">Ala33</text>
<text x="503.4" y="349.0" font-family="Liberation Sans, Arial, sans-serif" font-size="13.35" font-weight="normal" fill="#1a1a1a">Leu156</text>
<text x="561.0" y="391.6" font-family="Liberation Sans, Arial, sans-serif" font-size="13.35" font-weight="normal" fill="#1a1a1a">Ala159</text>
<text x="500.8" y="425.7" font-family="Liberation Sans, Arial, sans-serif" font-size="13.35" font-weight="normal" fill="#1a1a1a">Lys18</text>
<text x="589.9" y="454.1" font-family="Liberation Sans, Arial, sans-serif" font-size="13.35" font-weight="normal" fill="#1a1a1a">Ala133</text>
<text x="136.2" y="333.1" font-family="Liberation Sans, Arial, sans-serif" font-size="13.35" font-weight="normal" fill="#1a1a1a">Asn137</text>
<text x="78.8" y="354.3" font-family="Liberation Sans, Arial, sans-serif" font-size="13.35" font-weight="normal" fill="#1a1a1a">Gly24</text>
<text x="123.3" y="388.6" font-family="Liberation Sans, Arial, sans-serif" font-size="13.35" font-weight="normal" fill="#2a8a5a">Cys63</text>
<text x="10.9" y="435.1" font-family="Liberation Sans, Arial, sans-serif" font-size="13.35" font-weight="normal" fill="#2a8a5a">Asn21</text>
<text x="101.4" y="527.1" font-family="Liberation Sans, Arial, sans-serif" font-size="13.35" font-weight="normal" fill="#2a8a5a">Gln20</text>
<text x="139.6" y="560.7" font-family="Liberation Sans, Arial, sans-serif" font-size="13.35" font-weight="normal" fill="#1a1a1a">Cys23</text>
<text x="73.5" y="576.7" font-family="Liberation Sans, Arial, sans-serif" font-size="13.35" font-weight="normal" fill="#1a1a1a">Pro22</text>
<text x="126.7" y="640.1" font-family="Liberation Sans, Arial, sans-serif" font-size="13.35" font-weight="normal" fill="#2a8a5a">Gln141</text>
<text x="186.2" y="731.1" font-family="Liberation Sans, Arial, sans-serif" font-size="13.35" font-weight="normal" fill="#1a1a1a">Ala136</text>
<text x="267.6" y="718.4" font-family="Liberation Sans, Arial, sans-serif" font-size="13.35" font-weight="normal" fill="#1a1a1a">Trp180</text>
<text x="357.5" y="759.0" font-family="Liberation Sans, Arial, sans-serif" font-size="13.35" font-weight="normal" fill="#1a1a1a">Val160</text>
<text x="453.5" y="478.3" font-family="Liberation Sans, Arial, sans-serif" font-size="13.35" font-weight="bold" fill="#1a1a1a">His158</text>
<text x="524.5" y="501.6" font-family="Liberation Sans, Arial, sans-serif" font-size="13.35" font-weight="normal" fill="#1a1a1a">Thr161</text>
<text x="489.1" y="616.8" font-family="Liberation Sans, Arial, sans-serif" font-size="13.35" font-weight="normal" fill="#1a1a1a">Phe29</text>
<text x="600.4" y="665.5" font-family="Liberation Sans, Arial, sans-serif" font-size="13.35" font-weight="normal" fill="#1a1a1a">Tyr185</text>
<text x="491.1" y="690.0" font-family="Liberation Sans, Arial, sans-serif" font-size="13.35" font-weight="normal" fill="#1a1a1a">Asn19</text>
<text x="558.8" y="720.0" font-family="Liberation Sans, Arial, sans-serif" font-size="13.35" font-weight="normal" fill="#1a1a1a">Val17</text>
<text x="426.5" y="718.4" font-family="Liberation Sans, Arial, sans-serif" font-size="13.35" font-weight="normal" fill="#1a1a1a">Phe140</text>
<text x="489.8" y="772.9" font-family="Liberation Sans, Arial, sans-serif" font-size="13.35" font-weight="normal" fill="#1a1a1a">Ala178</text>
<text x="615.1" y="524.8" font-family="Liberation Sans, Arial, sans-serif" font-size="13.35" font-weight="normal" fill="#1a1a1a">Ser16</text>
<text x="683.6" y="570.5" font-family="Liberation Sans, Arial, sans-serif" font-size="13.35" font-weight="normal" fill="#1a1a1a">Ile186</text>
<text x="549.8" y="587.3" font-family="Liberation Sans, Arial, sans-serif" font-size="13.35" font-weight="normal" fill="#1a1a1a">Gly184</text>
<text x="618.2" y="599.5" font-family="Liberation Sans, Arial, sans-serif" font-size="13.35" font-weight="normal" fill="#1a1a1a">Ala30</text>
<text x="859.0" y="111.9" font-family="Liberation Sans, Arial, sans-serif" font-size="11.7" font-weight="normal" fill="#1a1a1a">Gln142</text>
<text x="952.3" y="142.9" font-family="Liberation Sans, Arial, sans-serif" font-size="11.7" font-weight="normal" fill="#1a1a1a">Gly20</text>
<text x="852.8" y="202.6" font-family="Liberation Sans, Arial, sans-serif" font-size="11.7" font-weight="normal" fill="#1a1a1a">Cys22</text>
<text x="801.7" y="240.1" font-family="Liberation Sans, Arial, sans-serif" font-size="11.7" font-weight="normal" fill="#2a8a5a">Ser21</text>
<text x="783.6" y="494.8" font-family="Liberation Sans, Arial, sans-serif" font-size="11.7" font-weight="normal" fill="#2a8a5a">Cys63</text>
<text x="784.9" y="614.6" font-family="Liberation Sans, Arial, sans-serif" font-size="11.7" font-weight="normal" fill="#1a1a1a">Gly23</text>
<text x="864.8" y="779.6" font-family="Liberation Sans, Arial, sans-serif" font-size="11.7" font-weight="normal" fill="#1a1a1a">Tyr81</text>
<text x="962.2" y="829.5" font-family="Liberation Sans, Arial, sans-serif" font-size="11.7" font-weight="normal" fill="#1a1a1a">Tyr67</text>
<text x="1110.3" y="63.6" font-family="Liberation Sans, Arial, sans-serif" font-size="11.7" font-weight="normal" fill="#1a1a1a">Trp181</text>
<text x="1025.1" y="105.7" font-family="Liberation Sans, Arial, sans-serif" font-size="11.7" font-weight="normal" fill="#1a1a1a">Asn18</text>
<text x="1105.2" y="145.5" font-family="Liberation Sans, Arial, sans-serif" font-size="11.7" font-weight="normal" fill="#1a1a1a">Gln19</text>
<text x="1178.8" y="167.0" font-family="Liberation Sans, Arial, sans-serif" font-size="11.7" font-weight="normal" fill="#1a1a1a">Gly180</text>
<text x="1118.9" y="222.5" font-family="Liberation Sans, Arial, sans-serif" font-size="11.7" font-weight="normal" fill="#1a1a1a">Trp177</text>
<text x="1202.3" y="344.3" font-family="Liberation Sans, Arial, sans-serif" font-size="11.7" font-weight="normal" fill="#1a1a1a">Ala136</text>
<text x="1160.2" y="408.0" font-family="Liberation Sans, Arial, sans-serif" font-size="11.7" font-weight="normal" fill="#2a8a5a">Asn64</text>
<text x="1231.3" y="426.1" font-family="Liberation Sans, Arial, sans-serif" font-size="11.7" font-weight="bold" fill="#1a1a1a">His159</text>
<text x="1195.1" y="512.1" font-family="Liberation Sans, Arial, sans-serif" font-size="11.7" font-weight="bold" fill="#2a8a5a">Cys25</text>
<text x="1254.5" y="622.4" font-family="Liberation Sans, Arial, sans-serif" font-size="11.7" font-weight="normal" fill="#2a8a5a">Val157</text>
<text x="1184.8" y="712.3" font-family="Liberation Sans, Arial, sans-serif" font-size="11.7" font-weight="normal" fill="#1a1a1a">Gly65</text>
<text x="1233.3" y="754.1" font-family="Liberation Sans, Arial, sans-serif" font-size="11.7" font-weight="normal" fill="#1a1a1a">Asp158</text>
<text x="1286.8" y="704.1" font-family="Liberation Sans, Arial, sans-serif" font-size="11.7" font-weight="normal" fill="#1a1a1a">Ala160</text>
<text x="1106.7" y="783.5" font-family="Liberation Sans, Arial, sans-serif" font-size="11.7" font-weight="normal" fill="#1a1a1a">Val133</text>
<text x="1547.8" y="18.1" font-family="Liberation Sans, Arial, sans-serif" font-size="13.6" font-weight="normal" fill="#1a1a1a">Lys148</text>
<text x="1459.4" y="83.2" font-family="Liberation Sans, Arial, sans-serif" font-size="13.6" font-weight="normal" fill="#1a1a1a">Leu146</text>
<text x="1564.1" y="129.2" font-family="Liberation Sans, Arial, sans-serif" font-size="13.6" font-weight="normal" fill="#1a1a1a">Trp184</text>
<text x="1487.1" y="164.1" font-family="Liberation Sans, Arial, sans-serif" font-size="13.6" font-weight="normal" fill="#1a1a1a">Glu145</text>
<text x="1466.4" y="211.9" font-family="Liberation Sans, Arial, sans-serif" font-size="13.6" font-weight="normal" fill="#2a8a5a">Cys22</text>
<text x="1423.8" y="294.8" font-family="Liberation Sans, Arial, sans-serif" font-size="13.6" font-weight="normal" fill="#2a8a5a">Asp161</text>
<text x="1574.9" y="325.8" font-family="Liberation Sans, Arial, sans-serif" font-size="13.6" font-weight="normal" fill="#2a8a5a">Gly20</text>
<text x="1404.7" y="371.0" font-family="Liberation Sans, Arial, sans-serif" font-size="13.6" font-weight="normal" fill="#1a1a1a">Gly140</text>
<text x="1484.5" y="407.7" font-family="Liberation Sans, Arial, sans-serif" font-size="13.6" font-weight="normal" fill="#1a1a1a">Gln19</text>
<text x="1440.1" y="485.5" font-family="Liberation Sans, Arial, sans-serif" font-size="13.6" font-weight="normal" fill="#2a8a5a">Gly68</text>
<text x="1457.4" y="572.9" font-family="Liberation Sans, Arial, sans-serif" font-size="13.6" font-weight="normal" fill="#1a1a1a">Gly67</text>
<text x="1465.1" y="684.8" font-family="Liberation Sans, Arial, sans-serif" font-size="13.6" font-weight="normal" fill="#1a1a1a">Trp69</text>
<text x="1610.6" y="702.3" font-family="Liberation Sans, Arial, sans-serif" font-size="13.6" font-weight="normal" fill="#1a1a1a">Gly23</text>
<text x="1710.3" y="18.6" font-family="Liberation Sans, Arial, sans-serif" font-size="13.6" font-weight="normal" fill="#1a1a1a">Trp188</text>
<text x="1787.3" y="60.7" font-family="Liberation Sans, Arial, sans-serif" font-size="13.6" font-weight="normal" fill="#1a1a1a">Asn18</text>
<text x="1902.8" y="364.3" font-family="Liberation Sans, Arial, sans-serif" font-size="13.6" font-weight="normal" fill="#1a1a1a">Arg21</text>
<text x="1829.7" y="486.5" font-family="Liberation Sans, Arial, sans-serif" font-size="13.6" font-weight="normal" fill="#1a1a1a">Ser66</text>
<text x="1924.0" y="480.8" font-family="Liberation Sans, Arial, sans-serif" font-size="13.6" font-weight="bold" fill="#2a8a5a">His162</text>
<text x="1817.1" y="587.9" font-family="Liberation Sans, Arial, sans-serif" font-size="13.6" font-weight="normal" fill="#1a1a1a">Cys65</text>
<text x="1905.9" y="808.3" font-family="Liberation Sans, Arial, sans-serif" font-size="13.6" font-weight="normal" fill="#1a1a1a">Leu63</text>
<text x="1744.4" y="856.6" font-family="Liberation Sans, Arial, sans-serif" font-size="13.6" font-weight="normal" fill="#1a1a1a">Lys95</text>
<text x="1674.4" y="783.5" font-family="Liberation Sans, Arial, sans-serif" font-size="13.6" font-weight="normal" fill="#1a1a1a">Lys94</text>
<rect x="0" y="862" width="1985" height="9" fill="#fff"/>
</svg>
<svg width="1985" height="871" viewBox="0 0 1985 871" style="position:absolute;left:0;top:0" font-family="Liberation Serif, Times New Roman, serif" fill="#111">
<text transform="translate(46.7,73.6) scale(1.1,1)" font-size="40.2">(</text>
<text transform="translate(60.5,73.5) scale(1.14,1)" font-size="40.4" font-style="italic">а</text>
<text transform="translate(81.4,73.6) scale(1.1,1)" font-size="40.2">)</text>
<text transform="translate(660.8,73.6) scale(1.1,1)" font-size="40.2">(</text>
<text transform="translate(674.5,73.5)" font-size="41.8" font-style="italic">б</text>
<text transform="translate(695.5,73.6) scale(1.1,1)" font-size="40.2">)</text>
<text transform="translate(1350.8,73.6) scale(1.1,1)" font-size="40.2">(</text>
<text transform="translate(1364.9,73.5) scale(1.07,1)" font-size="39.4" font-style="italic">в</text>
<text transform="translate(1382.5,73.6) scale(1.1,1)" font-size="40.2">)</text>
</svg>
</body></html>
